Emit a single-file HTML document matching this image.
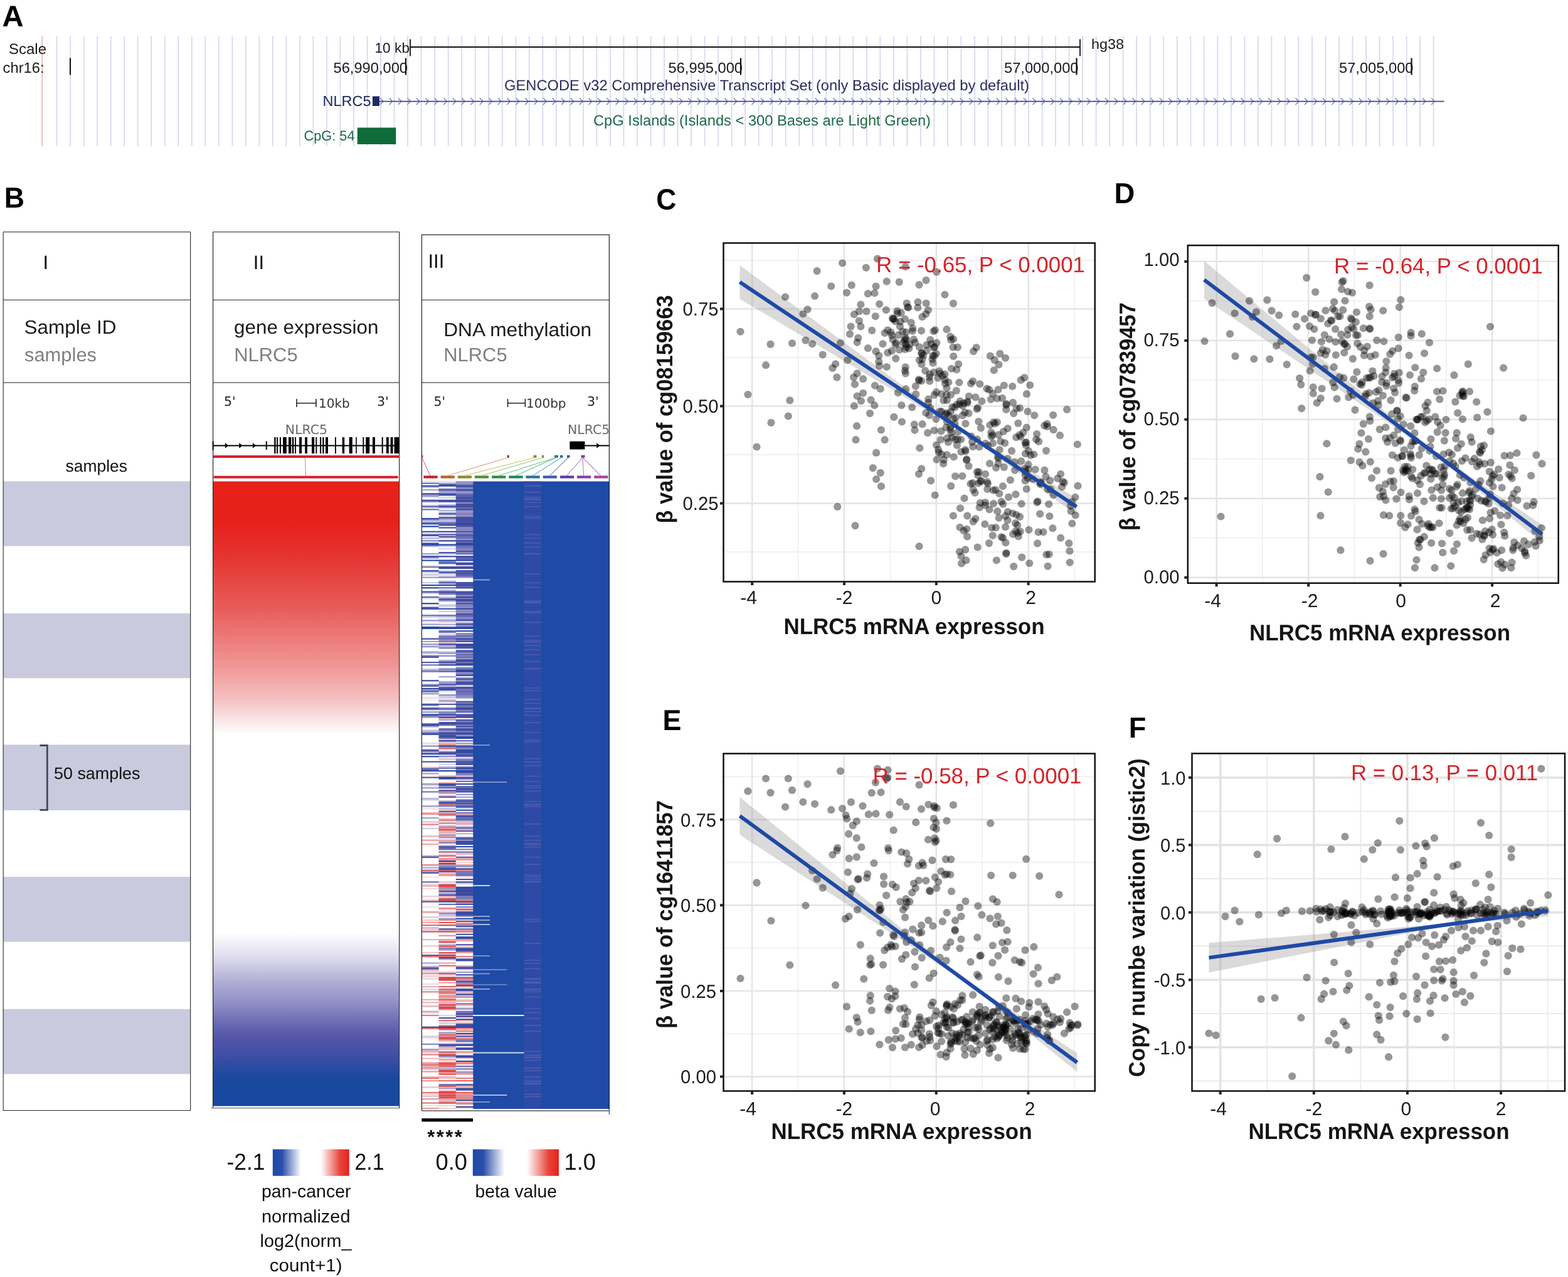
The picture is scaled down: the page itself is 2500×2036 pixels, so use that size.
<!DOCTYPE html>
<html lang="en"><head><meta charset="utf-8"><title>NLRC5 methylation and expression</title>
<style>
html,body{margin:0;padding:0;background:#fff;overflow:hidden;}
body{width:2500px;height:2036px;overflow:hidden;font-family:"Liberation Sans", sans-serif;}
svg{display:block;}
text{white-space:pre;}
</style></head>
<body>
<svg width="2500" height="2036" viewBox="0 0 2500 2036" text-rendering="geometricPrecision">
<rect width="2500" height="2036" fill="#fff"/>
<g id="panelA">
<text x="3.6" y="42.2" font-family='"Liberation Sans", sans-serif' font-size="47.2" font-weight="bold" fill="#000" text-anchor="start" >A</text>
<path d="M90.6 57.5V233M112.1 57.5V233M133.6 57.5V233M155.2 57.5V233M176.7 57.5V233M198.2 57.5V233M219.7 57.5V233M241.2 57.5V233M262.8 57.5V233M284.3 57.5V233M305.8 57.5V233M327.3 57.5V233M348.8 57.5V233M370.4 57.5V233M391.9 57.5V233M413.4 57.5V233M434.9 57.5V233M456.4 57.5V233M478 57.5V233M499.5 57.5V233M521 57.5V233M542.5 57.5V233M564 57.5V233M585.6 57.5V233M607.1 57.5V233M628.6 57.5V233M650.1 57.5V233M671.6 57.5V233M693.2 57.5V233M714.7 57.5V233M736.2 57.5V233M757.7 57.5V233M779.2 57.5V233M800.8 57.5V233M822.3 57.5V233M843.8 57.5V233M865.3 57.5V233M886.8 57.5V233M908.4 57.5V233M929.9 57.5V233M951.4 57.5V233M972.9 57.5V233M994.4 57.5V233M1016 57.5V233M1037.5 57.5V233M1059 57.5V233M1080.5 57.5V233M1102 57.5V233M1123.6 57.5V233M1145.1 57.5V233M1166.6 57.5V233M1188.1 57.5V233M1209.6 57.5V233M1231.2 57.5V233M1252.7 57.5V233M1274.2 57.5V233M1295.7 57.5V233M1317.2 57.5V233M1338.8 57.5V233M1360.3 57.5V233M1381.8 57.5V233M1403.3 57.5V233M1424.8 57.5V233M1446.4 57.5V233M1467.9 57.5V233M1489.4 57.5V233M1510.9 57.5V233M1532.4 57.5V233M1554 57.5V233M1575.5 57.5V233M1597 57.5V233M1618.5 57.5V233M1640 57.5V233M1661.6 57.5V233M1683.1 57.5V233M1704.6 57.5V233M1726.1 57.5V233M1747.6 57.5V233M1769.2 57.5V233M1790.7 57.5V233M1812.2 57.5V233M1833.7 57.5V233M1855.2 57.5V233M1876.8 57.5V233M1898.3 57.5V233M1919.8 57.5V233M1941.3 57.5V233M1962.8 57.5V233M1984.4 57.5V233M2005.9 57.5V233M2027.4 57.5V233M2048.9 57.5V233M2070.4 57.5V233M2092 57.5V233M2113.5 57.5V233M2135 57.5V233M2156.5 57.5V233M2178 57.5V233M2199.6 57.5V233M2221.1 57.5V233M2242.6 57.5V233M2264.1 57.5V233M2285.6 57.5V233" stroke="#d8d9ee" stroke-width="1.8" fill="none"/>
<path d="M67.2 57.5V233" stroke="#eab0ab" stroke-width="1.5" fill="none"/>
<text x="14" y="86" font-family='"Liberation Sans", sans-serif' font-size="23.5" font-weight="normal" fill="#1a1a1a" text-anchor="start"  textLength="60" lengthAdjust="spacingAndGlyphs">Scale</text>
<text x="4.6" y="116.3" font-family='"Liberation Sans", sans-serif' font-size="23.5" font-weight="normal" fill="#1a1a1a" text-anchor="start"  textLength="66" lengthAdjust="spacingAndGlyphs">chr16:</text>
<path d="M112 92.5V119.5" stroke="#111" stroke-width="2"/>
<text x="597.5" y="84.2" font-family='"Liberation Sans", sans-serif' font-size="22.5" font-weight="normal" fill="#1a1a1a" text-anchor="start"  textLength="55.5" lengthAdjust="spacingAndGlyphs">10 kb</text>
<path d="M653.5 75H1722M654 62.5V89.5M1722 62.5V89.5" stroke="#111" stroke-width="1.8" fill="none"/>
<text x="1740" y="77.5" font-family='"Liberation Sans", sans-serif' font-size="22.5" font-weight="normal" fill="#1a1a1a" text-anchor="start"  textLength="52" lengthAdjust="spacingAndGlyphs">hg38</text>
<text x="531.5" y="116.3" font-family='"Liberation Sans", sans-serif' font-size="23.3" font-weight="normal" fill="#1a1a1a" text-anchor="start"  textLength="118.5" lengthAdjust="spacingAndGlyphs">56,990,000</text>
<path d="M647 92.5V119.5" stroke="#111" stroke-width="2.2"/>
<text x="1065.5" y="116.3" font-family='"Liberation Sans", sans-serif' font-size="23.3" font-weight="normal" fill="#1a1a1a" text-anchor="start"  textLength="118.5" lengthAdjust="spacingAndGlyphs">56,995,000</text>
<path d="M1181 92.5V119.5" stroke="#111" stroke-width="2.2"/>
<text x="1601" y="116.3" font-family='"Liberation Sans", sans-serif' font-size="23.3" font-weight="normal" fill="#1a1a1a" text-anchor="start"  textLength="118.5" lengthAdjust="spacingAndGlyphs">57,000,000</text>
<path d="M1716.5 92.5V119.5" stroke="#111" stroke-width="2.2"/>
<text x="2135" y="116.3" font-family='"Liberation Sans", sans-serif' font-size="23.3" font-weight="normal" fill="#1a1a1a" text-anchor="start"  textLength="118.5" lengthAdjust="spacingAndGlyphs">57,005,000</text>
<path d="M2250.5 92.5V119.5" stroke="#111" stroke-width="2.2"/>
<text x="804" y="144" font-family='"Liberation Sans", sans-serif' font-size="23.6" font-weight="normal" fill="#2b2b5e" text-anchor="start"  textLength="837" lengthAdjust="spacingAndGlyphs">GENCODE v32 Comprehensive Transcript Set (only Basic displayed by default)</text>
<text x="514.5" y="169.3" font-family='"Liberation Sans", sans-serif' font-size="23.3" font-weight="normal" fill="#1c2556" text-anchor="start"  textLength="77" lengthAdjust="spacingAndGlyphs">NLRC5</text>
<rect x="594" y="153.5" width="11" height="15.5" fill="#1d2a63"/>
<path d="M606 156.2L611 161.6L606 167M620.5 156.2L625.5 161.6L620.5 167M634.9 156.2L639.9 161.6L634.9 167M649.4 156.2L654.4 161.6L649.4 167M663.8 156.2L668.8 161.6L663.8 167M678.3 156.2L683.3 161.6L678.3 167M692.7 156.2L697.7 161.6L692.7 167M707.2 156.2L712.2 161.6L707.2 167M721.6 156.2L726.6 161.6L721.6 167M736.1 156.2L741.1 161.6L736.1 167M750.5 156.2L755.5 161.6L750.5 167M765 156.2L770 161.6L765 167M779.4 156.2L784.4 161.6L779.4 167M793.9 156.2L798.9 161.6L793.9 167M808.3 156.2L813.3 161.6L808.3 167M822.8 156.2L827.8 161.6L822.8 167M837.2 156.2L842.2 161.6L837.2 167M851.7 156.2L856.7 161.6L851.7 167M866.1 156.2L871.1 161.6L866.1 167M880.6 156.2L885.6 161.6L880.6 167M895 156.2L900 161.6L895 167M909.5 156.2L914.5 161.6L909.5 167M923.9 156.2L928.9 161.6L923.9 167M938.4 156.2L943.4 161.6L938.4 167M952.8 156.2L957.8 161.6L952.8 167M967.3 156.2L972.3 161.6L967.3 167M981.7 156.2L986.7 161.6L981.7 167M996.2 156.2L1001.2 161.6L996.2 167M1010.6 156.2L1015.6 161.6L1010.6 167M1025.1 156.2L1030.1 161.6L1025.1 167M1039.5 156.2L1044.5 161.6L1039.5 167M1054 156.2L1059 161.6L1054 167M1068.4 156.2L1073.4 161.6L1068.4 167M1082.9 156.2L1087.9 161.6L1082.9 167M1097.3 156.2L1102.3 161.6L1097.3 167M1111.8 156.2L1116.8 161.6L1111.8 167M1126.2 156.2L1131.2 161.6L1126.2 167M1140.7 156.2L1145.7 161.6L1140.7 167M1155.1 156.2L1160.1 161.6L1155.1 167M1169.6 156.2L1174.6 161.6L1169.6 167M1184 156.2L1189 161.6L1184 167M1198.5 156.2L1203.5 161.6L1198.5 167M1212.9 156.2L1217.9 161.6L1212.9 167M1227.4 156.2L1232.4 161.6L1227.4 167M1241.8 156.2L1246.8 161.6L1241.8 167M1256.3 156.2L1261.3 161.6L1256.3 167M1270.7 156.2L1275.7 161.6L1270.7 167M1285.2 156.2L1290.2 161.6L1285.2 167M1299.6 156.2L1304.6 161.6L1299.6 167M1314.1 156.2L1319.1 161.6L1314.1 167M1328.5 156.2L1333.5 161.6L1328.5 167M1343 156.2L1348 161.6L1343 167M1357.4 156.2L1362.4 161.6L1357.4 167M1371.9 156.2L1376.9 161.6L1371.9 167M1386.3 156.2L1391.3 161.6L1386.3 167M1400.8 156.2L1405.8 161.6L1400.8 167M1415.2 156.2L1420.2 161.6L1415.2 167M1429.7 156.2L1434.7 161.6L1429.7 167M1444.1 156.2L1449.1 161.6L1444.1 167M1458.6 156.2L1463.6 161.6L1458.6 167M1473 156.2L1478 161.6L1473 167M1487.5 156.2L1492.5 161.6L1487.5 167M1501.9 156.2L1506.9 161.6L1501.9 167M1516.4 156.2L1521.4 161.6L1516.4 167M1530.8 156.2L1535.8 161.6L1530.8 167M1545.3 156.2L1550.3 161.6L1545.3 167M1559.7 156.2L1564.7 161.6L1559.7 167M1574.2 156.2L1579.2 161.6L1574.2 167M1588.6 156.2L1593.6 161.6L1588.6 167M1603.1 156.2L1608.1 161.6L1603.1 167M1617.5 156.2L1622.5 161.6L1617.5 167M1632 156.2L1637 161.6L1632 167M1646.4 156.2L1651.4 161.6L1646.4 167M1660.9 156.2L1665.9 161.6L1660.9 167M1675.3 156.2L1680.3 161.6L1675.3 167M1689.8 156.2L1694.8 161.6L1689.8 167M1704.2 156.2L1709.2 161.6L1704.2 167M1718.7 156.2L1723.7 161.6L1718.7 167M1733.1 156.2L1738.1 161.6L1733.1 167M1747.6 156.2L1752.6 161.6L1747.6 167M1762 156.2L1767 161.6L1762 167M1776.5 156.2L1781.5 161.6L1776.5 167M1790.9 156.2L1795.9 161.6L1790.9 167M1805.4 156.2L1810.4 161.6L1805.4 167M1819.8 156.2L1824.8 161.6L1819.8 167M1834.3 156.2L1839.3 161.6L1834.3 167M1848.7 156.2L1853.7 161.6L1848.7 167M1863.2 156.2L1868.2 161.6L1863.2 167M1877.6 156.2L1882.6 161.6L1877.6 167M1892.1 156.2L1897.1 161.6L1892.1 167M1906.5 156.2L1911.5 161.6L1906.5 167M1921 156.2L1926 161.6L1921 167M1935.4 156.2L1940.4 161.6L1935.4 167M1949.9 156.2L1954.9 161.6L1949.9 167M1964.3 156.2L1969.3 161.6L1964.3 167M1978.8 156.2L1983.8 161.6L1978.8 167M1993.2 156.2L1998.2 161.6L1993.2 167M2007.7 156.2L2012.7 161.6L2007.7 167M2022.1 156.2L2027.1 161.6L2022.1 167M2036.6 156.2L2041.6 161.6L2036.6 167M2051 156.2L2056 161.6L2051 167M2065.5 156.2L2070.5 161.6L2065.5 167M2079.9 156.2L2084.9 161.6L2079.9 167M2094.4 156.2L2099.4 161.6L2094.4 167M2108.8 156.2L2113.8 161.6L2108.8 167M2123.3 156.2L2128.3 161.6L2123.3 167M2137.7 156.2L2142.7 161.6L2137.7 167M2152.2 156.2L2157.2 161.6L2152.2 167M2166.6 156.2L2171.6 161.6L2166.6 167M2181.1 156.2L2186.1 161.6L2181.1 167M2195.5 156.2L2200.5 161.6L2195.5 167M2210 156.2L2215 161.6L2210 167M2224.4 156.2L2229.4 161.6L2224.4 167M2238.9 156.2L2243.9 161.6L2238.9 167M2253.3 156.2L2258.3 161.6L2253.3 167M2267.8 156.2L2272.8 161.6L2267.8 167M2282.2 156.2L2287.2 161.6L2282.2 167" stroke="#8286c2" stroke-width="1.5" fill="none"/>
<path d="M605 161.6H2302.5" stroke="#3d4389" stroke-width="1.6"/>
<text x="946" y="200" font-family='"Liberation Sans", sans-serif' font-size="23.6" font-weight="normal" fill="#1c6b45" text-anchor="start"  textLength="538" lengthAdjust="spacingAndGlyphs">CpG Islands (Islands &lt; 300 Bases are Light Green)</text>
<text x="484.5" y="224.3" font-family='"Liberation Sans", sans-serif' font-size="22.5" font-weight="normal" fill="#1c6b45" text-anchor="start"  textLength="81" lengthAdjust="spacingAndGlyphs">CpG: 54</text>
<rect x="569.8" y="203.5" width="61.5" height="26.5" fill="#0e6b3a"/>
</g>
<g id="panelB">
<text x="6.8" y="331" font-family='"Liberation Sans", sans-serif' font-size="46" font-weight="bold" fill="#000" text-anchor="start"  textLength="32.3" lengthAdjust="spacingAndGlyphs">B</text>
<rect x="5.2" y="767.4" width="298.5" height="103.2" fill="#c9cadd"/>
<rect x="5.2" y="978" width="298.5" height="103.2" fill="#c9cadd"/>
<rect x="5.2" y="1187.3" width="298.5" height="104.5" fill="#c9cadd"/>
<rect x="5.2" y="1398" width="298.5" height="103.6" fill="#c9cadd"/>
<rect x="5.2" y="1608.8" width="298.5" height="103.6" fill="#c9cadd"/>
<path d="M5.2 369.8H303.7 M5.2 478.2H303.7 M5.2 610H303.7" stroke="#666" stroke-width="1.5" fill="none"/>
<path d="M5.2 369.8V1770.5H303.7V369.8" stroke="#2a2a2a" stroke-width="1.1" fill="none"/>
<text x="68.6" y="429" font-family='"Liberation Sans", sans-serif' font-size="31" font-weight="normal" fill="#111" text-anchor="start" >I</text>
<text x="38.5" y="532" font-family='"Liberation Sans", sans-serif' font-size="30.5" font-weight="normal" fill="#1a1a1a" text-anchor="start"  textLength="147" lengthAdjust="spacingAndGlyphs">Sample ID</text>
<text x="39" y="575.5" font-family='"Liberation Sans", sans-serif' font-size="30.5" font-weight="normal" fill="#808080" text-anchor="start"  textLength="115" lengthAdjust="spacingAndGlyphs">samples</text>
<text x="104.5" y="752" font-family='"Liberation Sans", sans-serif' font-size="26.5" font-weight="normal" fill="#111" text-anchor="start"  textLength="98.5" lengthAdjust="spacingAndGlyphs">samples</text>
<path d="M63.5 1188.5H75.3V1291.3H63.5" stroke="#45465a" stroke-width="2.8" fill="none"/>
<text x="86" y="1241.8" font-family='"Liberation Sans", sans-serif' font-size="26.5" font-weight="normal" fill="#111" text-anchor="start"  textLength="137.5" lengthAdjust="spacingAndGlyphs">50 samples</text>
<defs><linearGradient id="gexp" x1="0" y1="0" x2="0" y2="1">
<stop offset="0" stop-color="#e8211a"/><stop offset="0.065" stop-color="#e6201a"/>
<stop offset="0.11" stop-color="#e5302c"/><stop offset="0.2" stop-color="#e75a58"/>
<stop offset="0.295" stop-color="#f09696"/><stop offset="0.35" stop-color="#f4c1c2"/>
<stop offset="0.385" stop-color="#fae9e9"/><stop offset="0.405" stop-color="#ffffff"/>
<stop offset="0.722" stop-color="#ffffff"/><stop offset="0.742" stop-color="#efeef7"/>
<stop offset="0.765" stop-color="#dad9ec"/><stop offset="0.80" stop-color="#b1aed6"/>
<stop offset="0.835" stop-color="#8f8fc6"/><stop offset="0.86" stop-color="#7272b8"/>
<stop offset="0.886" stop-color="#5658a8"/><stop offset="0.914" stop-color="#4450a5"/>
<stop offset="0.936" stop-color="#2d4ba3"/><stop offset="0.956" stop-color="#1a489f"/><stop offset="1" stop-color="#17489f"/>
</linearGradient></defs>
<rect x="339.6" y="767.5" width="297" height="996" fill="url(#gexp)"/>
<path d="M339.6 369.8H636.6 M339.6 478.2H636.6 M339.6 610H636.6" stroke="#666" stroke-width="1.5" fill="none"/>
<path d="M339.6 1766.5V369.8M636.6 369.8V1766.5" stroke="#2a2a2a" stroke-width="1.2" fill="none"/>
<path d="M336.6 1766.6H637.6" stroke="#777" stroke-width="1.3" fill="none"/>
<text x="403.8" y="429" font-family='"Liberation Sans", sans-serif' font-size="31" font-weight="normal" fill="#111" text-anchor="start" >II</text>
<text x="373" y="532" font-family='"Liberation Sans", sans-serif' font-size="30.5" font-weight="normal" fill="#1a1a1a" text-anchor="start"  textLength="230.5" lengthAdjust="spacingAndGlyphs">gene expression</text>
<text x="373.2" y="575.5" font-family='"Liberation Sans", sans-serif' font-size="30.5" font-weight="normal" fill="#808080" text-anchor="start"  textLength="101.5" lengthAdjust="spacingAndGlyphs">NLRC5</text>
<text x="357" y="646.6" font-family='"DejaVu Sans", "Liberation Sans", sans-serif' font-size="20.5" font-weight="normal" fill="#222" text-anchor="start" >5'</text>
<text x="601" y="646.6" font-family='"DejaVu Sans", "Liberation Sans", sans-serif' font-size="20.5" font-weight="normal" fill="#222" text-anchor="start" >3'</text>
<path d="M473 642.7H504M473 636V649M504 636V649" stroke="#222" stroke-width="1.6" fill="none"/>
<text x="508" y="650" font-family='"DejaVu Sans", "Liberation Sans", sans-serif' font-size="20" font-weight="normal" fill="#333" text-anchor="start" >10kb</text>
<text x="488.5" y="692" font-family='"DejaVu Sans", "Liberation Sans", sans-serif' font-size="20.5" font-weight="normal" fill="#6a6a6a" text-anchor="middle" >NLRC5</text>
<path d="M339.6 710.4H636.6" stroke="#000" stroke-width="2"/>
<path d="M339.6 703.5V717.5M424.8 703.5V717" stroke="#000" stroke-width="2"/>
<path d="M359.3 706.8L363.3 710.4L359.3 714ZM381.8 706.8L385.8 710.4L381.8 714ZM403.3 706.8L407.3 710.4L403.3 714Z" stroke="#000" stroke-width="1" fill="#000"/>
<path d="M437.2 697H439.6V723H437.2ZM441.2 697H443.1V723H441.2ZM446 697H447.9V723H446ZM451.1 697H456.8V723H451.1ZM460 697H464.3V723H460ZM465.9 697H468.3V723H465.9ZM470.2 697H472V723H470.2ZM477.1 697H481.1V723H477.1ZM486.2 697H490V723H486.2ZM497 697H501.2V723H497ZM503.4 697H505.3V723H503.4ZM510.1 697H512.2V723H510.1ZM514.3 697H516.5V723H514.3ZM519 697H523V723H519ZM534 697H535.9V723H534ZM545.7 697H549.2V723H545.7ZM556.7 697H561.8V723H556.7ZM567.2 697H568.8V723H567.2ZM578.4 697H580.3V723H578.4ZM583.2 697H589.2V723H583.2ZM594 697H598V723H594ZM608.7 697H610.7V723H608.7ZM615.9 697H619.8V723H615.9ZM622.6 697H626.5V723H622.6ZM628.6 697H636.6V723H628.6Z" fill="#000"/>
<rect x="339.6" y="726" width="297" height="4" fill="#d5202a"/>
<rect x="340.6" y="758.7" width="294" height="4" fill="#d5202a"/>
<path d="M486.5 730L487.5 759" stroke="#ee8f95" stroke-width="1.3"/>
<rect x="672.4" y="767.5" width="299" height="1000.5" fill="#1f4aa5"/>
<rect x="835.5" y="767.5" width="27.2" height="1000.5" fill="#2d4ba6"/>
<rect x="672.4" y="767.5" width="27.5" height="2.33" fill="#ffffff"/>
<rect x="672.4" y="769.6" width="27.5" height="2.33" fill="#6c6cb4"/>
<rect x="672.4" y="771.7" width="27.5" height="2.33" fill="#ffffff"/>
<rect x="672.4" y="773.8" width="27.5" height="2.33" fill="#1e48a2"/>
<rect x="672.4" y="775.8" width="27.5" height="2.33" fill="#b4b4d8"/>
<rect x="672.4" y="777.9" width="27.5" height="2.33" fill="#ffffff"/>
<rect x="672.4" y="780.0" width="27.5" height="2.33" fill="#a2a2d2"/>
<rect x="672.4" y="782.1" width="27.5" height="4.42" fill="#ffffff"/>
<rect x="672.4" y="786.3" width="27.5" height="2.33" fill="#424ea2"/>
<rect x="672.4" y="788.3" width="27.5" height="2.33" fill="#9c96cc"/>
<rect x="672.4" y="790.4" width="27.5" height="2.33" fill="#a8a8d2"/>
<rect x="672.4" y="792.5" width="27.5" height="4.42" fill="#ffffff"/>
<rect x="672.4" y="796.7" width="27.5" height="2.33" fill="#484ea2"/>
<rect x="672.4" y="798.8" width="27.5" height="2.33" fill="#8484c0"/>
<rect x="672.4" y="800.9" width="27.5" height="4.42" fill="#ffffff"/>
<rect x="672.4" y="805.0" width="27.5" height="2.33" fill="#b4b4d8"/>
<rect x="672.4" y="807.1" width="27.5" height="2.33" fill="#6666ae"/>
<rect x="672.4" y="809.2" width="27.5" height="2.33" fill="#ffffff"/>
<rect x="672.4" y="811.3" width="27.5" height="2.33" fill="#7878ba"/>
<rect x="672.4" y="813.4" width="27.5" height="12.76" fill="#ffffff"/>
<rect x="672.4" y="825.9" width="27.5" height="2.33" fill="#2a48a2"/>
<rect x="672.4" y="827.9" width="27.5" height="2.33" fill="#9090c6"/>
<rect x="672.4" y="830.0" width="27.5" height="2.33" fill="#cccce4"/>
<rect x="672.4" y="832.1" width="27.5" height="2.33" fill="#8a8ac6"/>
<rect x="672.4" y="834.2" width="27.5" height="2.33" fill="#3c4ea2"/>
<rect x="672.4" y="836.3" width="27.5" height="2.33" fill="#ffffff"/>
<rect x="672.4" y="838.4" width="27.5" height="2.33" fill="#2a48a2"/>
<rect x="672.4" y="840.5" width="27.5" height="6.50" fill="#ffffff"/>
<rect x="672.4" y="846.7" width="27.5" height="2.33" fill="#364ea2"/>
<rect x="672.4" y="848.8" width="27.5" height="2.33" fill="#ffffff"/>
<rect x="672.4" y="850.9" width="27.5" height="2.33" fill="#7e7ec0"/>
<rect x="672.4" y="853.0" width="27.5" height="2.33" fill="#3c4ea2"/>
<rect x="672.4" y="855.0" width="27.5" height="2.33" fill="#ffffff"/>
<rect x="672.4" y="857.1" width="27.5" height="2.33" fill="#b4b4d8"/>
<rect x="672.4" y="859.2" width="27.5" height="2.33" fill="#ffffff"/>
<rect x="672.4" y="861.3" width="27.5" height="2.33" fill="#9090c6"/>
<rect x="672.4" y="863.4" width="27.5" height="2.33" fill="#ffffff"/>
<rect x="672.4" y="865.5" width="27.5" height="2.33" fill="#364ea2"/>
<rect x="672.4" y="867.5" width="27.5" height="2.33" fill="#3048a2"/>
<rect x="672.4" y="869.6" width="27.5" height="2.33" fill="#9696cc"/>
<rect x="672.4" y="871.7" width="27.5" height="10.67" fill="#ffffff"/>
<rect x="672.4" y="882.1" width="27.5" height="2.33" fill="#a2a2cc"/>
<rect x="672.4" y="884.2" width="27.5" height="2.33" fill="#ffffff"/>
<rect x="672.4" y="886.3" width="27.5" height="2.33" fill="#3048a2"/>
<rect x="672.4" y="888.4" width="27.5" height="2.33" fill="#9c96cc"/>
<rect x="672.4" y="890.5" width="27.5" height="2.33" fill="#ffffff"/>
<rect x="672.4" y="892.6" width="27.5" height="2.33" fill="#2448a8"/>
<rect x="672.4" y="894.6" width="27.5" height="6.50" fill="#ffffff"/>
<rect x="672.4" y="900.9" width="27.5" height="2.33" fill="#f6d8d8"/>
<rect x="672.4" y="903.0" width="27.5" height="2.33" fill="#7272b4"/>
<rect x="672.4" y="905.1" width="27.5" height="4.42" fill="#ffffff"/>
<rect x="672.4" y="909.2" width="27.5" height="2.33" fill="#2a48a2"/>
<rect x="672.4" y="911.3" width="27.5" height="2.33" fill="#d2cce4"/>
<rect x="672.4" y="913.4" width="27.5" height="2.33" fill="#ffffff"/>
<rect x="672.4" y="915.5" width="27.5" height="2.33" fill="#cccce4"/>
<rect x="672.4" y="917.6" width="27.5" height="2.33" fill="#ffffff"/>
<rect x="672.4" y="919.7" width="27.5" height="2.33" fill="#9696cc"/>
<rect x="672.4" y="921.7" width="27.5" height="6.50" fill="#ffffff"/>
<rect x="672.4" y="928.0" width="27.5" height="2.33" fill="#cccce4"/>
<rect x="672.4" y="930.1" width="27.5" height="2.33" fill="#ffffff"/>
<rect x="672.4" y="932.2" width="27.5" height="2.33" fill="#1e48a8"/>
<rect x="672.4" y="934.2" width="27.5" height="2.33" fill="#ffffff"/>
<rect x="672.4" y="936.3" width="27.5" height="2.33" fill="#3c4ea2"/>
<rect x="672.4" y="938.4" width="27.5" height="4.42" fill="#ffffff"/>
<rect x="672.4" y="942.6" width="27.5" height="2.33" fill="#484ea2"/>
<rect x="672.4" y="944.7" width="27.5" height="2.33" fill="#c0c0de"/>
<rect x="672.4" y="946.8" width="27.5" height="4.42" fill="#ffffff"/>
<rect x="672.4" y="950.9" width="27.5" height="2.33" fill="#6060ae"/>
<rect x="672.4" y="953.0" width="27.5" height="2.33" fill="#d8d8ea"/>
<rect x="672.4" y="955.1" width="27.5" height="6.50" fill="#ffffff"/>
<rect x="672.4" y="961.3" width="27.5" height="2.33" fill="#2448a8"/>
<rect x="672.4" y="963.4" width="27.5" height="4.42" fill="#ffffff"/>
<rect x="672.4" y="967.6" width="27.5" height="2.33" fill="#545aa8"/>
<rect x="672.4" y="969.7" width="27.5" height="2.33" fill="#3c4ea2"/>
<rect x="672.4" y="971.8" width="27.5" height="8.59" fill="#ffffff"/>
<rect x="672.4" y="980.1" width="27.5" height="2.33" fill="#7878ba"/>
<rect x="672.4" y="982.2" width="27.5" height="2.33" fill="#cccce4"/>
<rect x="672.4" y="984.3" width="27.5" height="4.42" fill="#ffffff"/>
<rect x="672.4" y="988.4" width="27.5" height="2.33" fill="#9c9ccc"/>
<rect x="672.4" y="990.5" width="27.5" height="2.33" fill="#ffffff"/>
<rect x="672.4" y="992.6" width="27.5" height="2.33" fill="#fcf0f0"/>
<rect x="672.4" y="994.7" width="27.5" height="2.33" fill="#a2a2cc"/>
<rect x="672.4" y="996.8" width="27.5" height="2.33" fill="#ffffff"/>
<rect x="672.4" y="998.9" width="27.5" height="2.33" fill="#2448a8"/>
<rect x="672.4" y="1001.0" width="27.5" height="2.33" fill="#1e48a8"/>
<rect x="672.4" y="1003.0" width="27.5" height="14.84" fill="#ffffff"/>
<rect x="672.4" y="1017.6" width="27.5" height="2.33" fill="#484ea2"/>
<rect x="672.4" y="1019.7" width="27.5" height="2.33" fill="#ffffff"/>
<rect x="672.4" y="1021.8" width="27.5" height="2.33" fill="#9c9ccc"/>
<rect x="672.4" y="1023.9" width="27.5" height="2.33" fill="#ffffff"/>
<rect x="672.4" y="1026.0" width="27.5" height="2.33" fill="#9c96cc"/>
<rect x="672.4" y="1028.0" width="27.5" height="2.33" fill="#d8d8ea"/>
<rect x="672.4" y="1030.1" width="27.5" height="2.33" fill="#9c9ccc"/>
<rect x="672.4" y="1032.2" width="27.5" height="6.50" fill="#ffffff"/>
<rect x="672.4" y="1038.5" width="27.5" height="2.33" fill="#b4aed8"/>
<rect x="672.4" y="1040.6" width="27.5" height="2.33" fill="#c0c0de"/>
<rect x="672.4" y="1042.6" width="27.5" height="2.33" fill="#ffffff"/>
<rect x="672.4" y="1044.7" width="27.5" height="2.33" fill="#7272b4"/>
<rect x="672.4" y="1046.8" width="27.5" height="2.33" fill="#424ea2"/>
<rect x="672.4" y="1048.9" width="27.5" height="6.50" fill="#ffffff"/>
<rect x="672.4" y="1055.1" width="27.5" height="2.33" fill="#5a5aa8"/>
<rect x="672.4" y="1057.2" width="27.5" height="2.33" fill="#ffffff"/>
<rect x="672.4" y="1059.3" width="27.5" height="2.33" fill="#7e7ec0"/>
<rect x="672.4" y="1061.4" width="27.5" height="4.42" fill="#ffffff"/>
<rect x="672.4" y="1065.6" width="27.5" height="2.33" fill="#dedef0"/>
<rect x="672.4" y="1067.7" width="27.5" height="2.33" fill="#9696cc"/>
<rect x="672.4" y="1069.7" width="27.5" height="2.33" fill="#7e7ec0"/>
<rect x="672.4" y="1071.8" width="27.5" height="12.76" fill="#ffffff"/>
<rect x="672.4" y="1084.3" width="27.5" height="2.33" fill="#424ea2"/>
<rect x="672.4" y="1086.4" width="27.5" height="4.42" fill="#ffffff"/>
<rect x="672.4" y="1090.6" width="27.5" height="2.33" fill="#9696cc"/>
<rect x="672.4" y="1092.7" width="27.5" height="2.33" fill="#3048a2"/>
<rect x="672.4" y="1094.7" width="27.5" height="2.33" fill="#ffffff"/>
<rect x="672.4" y="1096.8" width="27.5" height="2.33" fill="#3648a2"/>
<rect x="672.4" y="1098.9" width="27.5" height="2.33" fill="#a8a8d2"/>
<rect x="672.4" y="1101.0" width="27.5" height="2.33" fill="#545aa8"/>
<rect x="672.4" y="1103.1" width="27.5" height="2.33" fill="#c0c0de"/>
<rect x="672.4" y="1105.2" width="27.5" height="2.33" fill="#a8a8d2"/>
<rect x="672.4" y="1107.3" width="27.5" height="4.42" fill="#ffffff"/>
<rect x="672.4" y="1111.4" width="27.5" height="2.33" fill="#fceaea"/>
<rect x="672.4" y="1113.5" width="27.5" height="2.33" fill="#ffffff"/>
<rect x="672.4" y="1115.6" width="27.5" height="2.33" fill="#fff6f6"/>
<rect x="672.4" y="1117.7" width="27.5" height="4.42" fill="#ffffff"/>
<rect x="672.4" y="1121.8" width="27.5" height="2.33" fill="#364ea2"/>
<rect x="672.4" y="1123.9" width="27.5" height="2.33" fill="#9090c6"/>
<rect x="672.4" y="1126.0" width="27.5" height="2.33" fill="#ffffff"/>
<rect x="672.4" y="1128.1" width="27.5" height="2.33" fill="#424ea2"/>
<rect x="672.4" y="1130.2" width="27.5" height="2.33" fill="#7878ba"/>
<rect x="672.4" y="1132.3" width="27.5" height="2.33" fill="#ffffff"/>
<rect x="672.4" y="1134.3" width="27.5" height="2.33" fill="#a29ccc"/>
<rect x="672.4" y="1136.4" width="27.5" height="2.33" fill="#ffffff"/>
<rect x="672.4" y="1138.5" width="27.5" height="2.33" fill="#2448a2"/>
<rect x="672.4" y="1140.6" width="27.5" height="2.33" fill="#7878ba"/>
<rect x="672.4" y="1142.7" width="27.5" height="2.33" fill="#a8a2d2"/>
<rect x="672.4" y="1144.8" width="27.5" height="8.59" fill="#ffffff"/>
<rect x="672.4" y="1153.1" width="27.5" height="2.33" fill="#6c6cb4"/>
<rect x="672.4" y="1155.2" width="27.5" height="2.33" fill="#1e48a2"/>
<rect x="672.4" y="1157.3" width="27.5" height="2.33" fill="#a29ccc"/>
<rect x="672.4" y="1159.4" width="27.5" height="4.42" fill="#ffffff"/>
<rect x="672.4" y="1163.5" width="27.5" height="2.33" fill="#d2cce4"/>
<rect x="672.4" y="1165.6" width="27.5" height="2.33" fill="#babad8"/>
<rect x="672.4" y="1167.7" width="27.5" height="2.33" fill="#6666b4"/>
<rect x="672.4" y="1169.8" width="27.5" height="2.33" fill="#364ea2"/>
<rect x="672.4" y="1171.9" width="27.5" height="12.76" fill="#ffffff"/>
<rect x="672.4" y="1184.4" width="27.5" height="2.33" fill="#fce4e4"/>
<rect x="672.4" y="1186.5" width="27.5" height="2.33" fill="#ffffff"/>
<rect x="672.4" y="1188.5" width="27.5" height="2.33" fill="#9090c6"/>
<rect x="672.4" y="1190.6" width="27.5" height="4.42" fill="#ffffff"/>
<rect x="672.4" y="1194.8" width="27.5" height="2.33" fill="#484ea2"/>
<rect x="672.4" y="1196.9" width="27.5" height="2.33" fill="#7e7ec0"/>
<rect x="672.4" y="1199.0" width="27.5" height="2.33" fill="#aea8d2"/>
<rect x="672.4" y="1201.0" width="27.5" height="2.33" fill="#1e48a2"/>
<rect x="672.4" y="1203.1" width="27.5" height="2.33" fill="#ffffff"/>
<rect x="672.4" y="1205.2" width="27.5" height="2.33" fill="#3c4ea2"/>
<rect x="672.4" y="1207.3" width="27.5" height="6.50" fill="#ffffff"/>
<rect x="672.4" y="1213.6" width="27.5" height="2.33" fill="#4e54a2"/>
<rect x="672.4" y="1215.6" width="27.5" height="6.50" fill="#ffffff"/>
<rect x="672.4" y="1221.9" width="27.5" height="2.33" fill="#f6d8d8"/>
<rect x="672.4" y="1224.0" width="27.5" height="2.33" fill="#7878ba"/>
<rect x="672.4" y="1226.1" width="27.5" height="2.33" fill="#6666b4"/>
<rect x="672.4" y="1228.1" width="27.5" height="2.33" fill="#3048a2"/>
<rect x="672.4" y="1230.2" width="27.5" height="2.33" fill="#ffffff"/>
<rect x="672.4" y="1232.3" width="27.5" height="2.33" fill="#f09c9c"/>
<rect x="672.4" y="1234.4" width="27.5" height="4.42" fill="#ffffff"/>
<rect x="672.4" y="1238.6" width="27.5" height="2.33" fill="#5454a8"/>
<rect x="672.4" y="1240.7" width="27.5" height="8.59" fill="#ffffff"/>
<rect x="672.4" y="1249.0" width="27.5" height="2.33" fill="#9696cc"/>
<rect x="672.4" y="1251.1" width="27.5" height="2.33" fill="#f6d2d2"/>
<rect x="672.4" y="1253.2" width="27.5" height="2.33" fill="#ffffff"/>
<rect x="672.4" y="1255.2" width="27.5" height="2.33" fill="#a8a8d2"/>
<rect x="672.4" y="1257.3" width="27.5" height="4.42" fill="#ffffff"/>
<rect x="672.4" y="1261.5" width="27.5" height="2.33" fill="#7e7ec0"/>
<rect x="672.4" y="1263.6" width="27.5" height="8.59" fill="#ffffff"/>
<rect x="672.4" y="1271.9" width="27.5" height="2.33" fill="#babade"/>
<rect x="672.4" y="1274.0" width="27.5" height="2.33" fill="#c6c6e4"/>
<rect x="672.4" y="1276.1" width="27.5" height="8.59" fill="#ffffff"/>
<rect x="672.4" y="1284.4" width="27.5" height="2.33" fill="#9c9ccc"/>
<rect x="672.4" y="1286.5" width="27.5" height="2.33" fill="#ffffff"/>
<rect x="672.4" y="1288.6" width="27.5" height="2.33" fill="#fceaea"/>
<rect x="672.4" y="1290.7" width="27.5" height="4.42" fill="#ffffff"/>
<rect x="672.4" y="1294.8" width="27.5" height="2.33" fill="#f0b4b4"/>
<rect x="672.4" y="1296.9" width="27.5" height="2.33" fill="#f08a8a"/>
<rect x="672.4" y="1299.0" width="27.5" height="4.42" fill="#ffffff"/>
<rect x="672.4" y="1303.2" width="27.5" height="2.33" fill="#a8a8d2"/>
<rect x="672.4" y="1305.3" width="27.5" height="4.42" fill="#ffffff"/>
<rect x="672.4" y="1309.4" width="27.5" height="2.33" fill="#f6c6c6"/>
<rect x="672.4" y="1311.5" width="27.5" height="2.33" fill="#ffffff"/>
<rect x="672.4" y="1313.6" width="27.5" height="2.33" fill="#f08484"/>
<rect x="672.4" y="1315.7" width="27.5" height="4.42" fill="#ffffff"/>
<rect x="672.4" y="1319.9" width="27.5" height="2.33" fill="#cccce4"/>
<rect x="672.4" y="1321.9" width="27.5" height="10.67" fill="#ffffff"/>
<rect x="672.4" y="1332.4" width="27.5" height="2.33" fill="#f6c0c0"/>
<rect x="672.4" y="1334.5" width="27.5" height="4.42" fill="#ffffff"/>
<rect x="672.4" y="1338.6" width="27.5" height="2.33" fill="#f09c9c"/>
<rect x="672.4" y="1340.7" width="27.5" height="4.42" fill="#ffffff"/>
<rect x="672.4" y="1344.9" width="27.5" height="2.33" fill="#f0a2a2"/>
<rect x="672.4" y="1347.0" width="27.5" height="16.93" fill="#ffffff"/>
<rect x="672.4" y="1363.6" width="27.5" height="2.33" fill="#bab4d8"/>
<rect x="672.4" y="1365.7" width="27.5" height="2.33" fill="#424ea2"/>
<rect x="672.4" y="1367.8" width="27.5" height="10.67" fill="#ffffff"/>
<rect x="672.4" y="1378.2" width="27.5" height="2.33" fill="#f08484"/>
<rect x="672.4" y="1380.3" width="27.5" height="2.33" fill="#ffffff"/>
<rect x="672.4" y="1382.4" width="27.5" height="2.33" fill="#bab4d8"/>
<rect x="672.4" y="1384.5" width="27.5" height="2.33" fill="#ffffff"/>
<rect x="672.4" y="1386.6" width="27.5" height="2.33" fill="#ea6660"/>
<rect x="672.4" y="1388.6" width="27.5" height="2.33" fill="#aea8d2"/>
<rect x="672.4" y="1390.7" width="27.5" height="2.33" fill="#484ea2"/>
<rect x="672.4" y="1392.8" width="27.5" height="4.42" fill="#ffffff"/>
<rect x="672.4" y="1397.0" width="27.5" height="2.33" fill="#fce4e4"/>
<rect x="672.4" y="1399.1" width="27.5" height="6.50" fill="#ffffff"/>
<rect x="672.4" y="1405.3" width="27.5" height="2.33" fill="#7272ba"/>
<rect x="672.4" y="1407.4" width="27.5" height="2.33" fill="#ffffff"/>
<rect x="672.4" y="1409.5" width="27.5" height="2.33" fill="#fcdede"/>
<rect x="672.4" y="1411.6" width="27.5" height="2.33" fill="#f0aeae"/>
<rect x="672.4" y="1413.7" width="27.5" height="2.33" fill="#ffffff"/>
<rect x="672.4" y="1415.7" width="27.5" height="2.33" fill="#f6d2d2"/>
<rect x="672.4" y="1417.8" width="27.5" height="10.67" fill="#ffffff"/>
<rect x="672.4" y="1428.2" width="27.5" height="2.33" fill="#f6dede"/>
<rect x="672.4" y="1430.3" width="27.5" height="4.42" fill="#ffffff"/>
<rect x="672.4" y="1434.5" width="27.5" height="2.33" fill="#f6c6c6"/>
<rect x="672.4" y="1436.6" width="27.5" height="2.33" fill="#545aa8"/>
<rect x="672.4" y="1438.7" width="27.5" height="6.50" fill="#ffffff"/>
<rect x="672.4" y="1444.9" width="27.5" height="2.33" fill="#f6dede"/>
<rect x="672.4" y="1447.0" width="27.5" height="6.50" fill="#ffffff"/>
<rect x="672.4" y="1453.3" width="27.5" height="2.33" fill="#f09c9c"/>
<rect x="672.4" y="1455.3" width="27.5" height="6.50" fill="#ffffff"/>
<rect x="672.4" y="1461.6" width="27.5" height="2.33" fill="#f6c6c6"/>
<rect x="672.4" y="1463.7" width="27.5" height="2.33" fill="#ffffff"/>
<rect x="672.4" y="1465.8" width="27.5" height="2.33" fill="#f6c0c0"/>
<rect x="672.4" y="1467.8" width="27.5" height="2.33" fill="#fce4e4"/>
<rect x="672.4" y="1469.9" width="27.5" height="2.33" fill="#f0a8a8"/>
<rect x="672.4" y="1472.0" width="27.5" height="2.33" fill="#ffffff"/>
<rect x="672.4" y="1474.1" width="27.5" height="2.33" fill="#ea6c66"/>
<rect x="672.4" y="1476.2" width="27.5" height="2.33" fill="#ffffff"/>
<rect x="672.4" y="1478.3" width="27.5" height="2.33" fill="#f6bac0"/>
<rect x="672.4" y="1480.4" width="27.5" height="2.33" fill="#f6d8d8"/>
<rect x="672.4" y="1482.4" width="27.5" height="2.33" fill="#f6d8de"/>
<rect x="672.4" y="1484.5" width="27.5" height="2.33" fill="#ea6060"/>
<rect x="672.4" y="1486.6" width="27.5" height="10.67" fill="#ffffff"/>
<rect x="672.4" y="1497.0" width="27.5" height="2.33" fill="#f0b4b4"/>
<rect x="672.4" y="1499.1" width="27.5" height="8.59" fill="#ffffff"/>
<rect x="672.4" y="1507.5" width="27.5" height="2.33" fill="#f6d8d8"/>
<rect x="672.4" y="1509.5" width="27.5" height="8.59" fill="#ffffff"/>
<rect x="672.4" y="1517.9" width="27.5" height="2.33" fill="#f6c6c6"/>
<rect x="672.4" y="1520.0" width="27.5" height="2.33" fill="#ffffff"/>
<rect x="672.4" y="1522.0" width="27.5" height="2.33" fill="#545aa8"/>
<rect x="672.4" y="1524.1" width="27.5" height="2.33" fill="#ea6c6c"/>
<rect x="672.4" y="1526.2" width="27.5" height="8.59" fill="#ffffff"/>
<rect x="672.4" y="1534.6" width="27.5" height="2.33" fill="#a8a8d2"/>
<rect x="672.4" y="1536.6" width="27.5" height="2.33" fill="#ffffff"/>
<rect x="672.4" y="1538.7" width="27.5" height="2.33" fill="#fce4e4"/>
<rect x="672.4" y="1540.8" width="27.5" height="2.33" fill="#9090c6"/>
<rect x="672.4" y="1542.9" width="27.5" height="2.33" fill="#424ea2"/>
<rect x="672.4" y="1545.0" width="27.5" height="2.33" fill="#f08a8a"/>
<rect x="672.4" y="1547.1" width="27.5" height="2.33" fill="#f6dede"/>
<rect x="672.4" y="1549.1" width="27.5" height="2.33" fill="#f6d2d2"/>
<rect x="672.4" y="1551.2" width="27.5" height="2.33" fill="#f09c9c"/>
<rect x="672.4" y="1553.3" width="27.5" height="2.33" fill="#ffffff"/>
<rect x="672.4" y="1555.4" width="27.5" height="2.33" fill="#f6d8d8"/>
<rect x="672.4" y="1557.5" width="27.5" height="2.33" fill="#ffffff"/>
<rect x="672.4" y="1559.6" width="27.5" height="2.33" fill="#f6d2d2"/>
<rect x="672.4" y="1561.6" width="27.5" height="6.50" fill="#ffffff"/>
<rect x="672.4" y="1567.9" width="27.5" height="2.33" fill="#dedef0"/>
<rect x="672.4" y="1570.0" width="27.5" height="2.33" fill="#ffffff"/>
<rect x="672.4" y="1572.1" width="27.5" height="2.33" fill="#f0b4b4"/>
<rect x="672.4" y="1574.2" width="27.5" height="2.33" fill="#ffffff"/>
<rect x="672.4" y="1576.2" width="27.5" height="2.33" fill="#f6dede"/>
<rect x="672.4" y="1578.3" width="27.5" height="2.33" fill="#ffffff"/>
<rect x="672.4" y="1580.4" width="27.5" height="2.33" fill="#f09090"/>
<rect x="672.4" y="1582.5" width="27.5" height="10.67" fill="#ffffff"/>
<rect x="672.4" y="1592.9" width="27.5" height="2.33" fill="#f0aeae"/>
<rect x="672.4" y="1595.0" width="27.5" height="2.33" fill="#ffffff"/>
<rect x="672.4" y="1597.1" width="27.5" height="2.33" fill="#f6c0c6"/>
<rect x="672.4" y="1599.2" width="27.5" height="4.42" fill="#ffffff"/>
<rect x="672.4" y="1603.3" width="27.5" height="2.33" fill="#f0baba"/>
<rect x="672.4" y="1605.4" width="27.5" height="6.50" fill="#ffffff"/>
<rect x="672.4" y="1611.7" width="27.5" height="2.33" fill="#b4b4d8"/>
<rect x="672.4" y="1613.8" width="27.5" height="2.33" fill="#f6cccc"/>
<rect x="672.4" y="1615.8" width="27.5" height="2.33" fill="#ffffff"/>
<rect x="672.4" y="1617.9" width="27.5" height="2.33" fill="#ea7878"/>
<rect x="672.4" y="1620.0" width="27.5" height="16.93" fill="#ffffff"/>
<rect x="672.4" y="1636.7" width="27.5" height="2.33" fill="#3048a2"/>
<rect x="672.4" y="1638.8" width="27.5" height="2.33" fill="#ea7872"/>
<rect x="672.4" y="1640.9" width="27.5" height="10.67" fill="#ffffff"/>
<rect x="672.4" y="1651.3" width="27.5" height="2.33" fill="#f6d8d8"/>
<rect x="672.4" y="1653.4" width="27.5" height="2.33" fill="#f6dede"/>
<rect x="672.4" y="1655.4" width="27.5" height="8.59" fill="#ffffff"/>
<rect x="672.4" y="1663.8" width="27.5" height="2.33" fill="#8484c0"/>
<rect x="672.4" y="1665.9" width="27.5" height="6.50" fill="#ffffff"/>
<rect x="672.4" y="1672.1" width="27.5" height="2.33" fill="#a29ccc"/>
<rect x="672.4" y="1674.2" width="27.5" height="2.33" fill="#f0baba"/>
<rect x="672.4" y="1676.3" width="27.5" height="2.33" fill="#f6c0c0"/>
<rect x="672.4" y="1678.4" width="27.5" height="2.33" fill="#ffffff"/>
<rect x="672.4" y="1680.5" width="27.5" height="2.33" fill="#f08484"/>
<rect x="672.4" y="1682.5" width="27.5" height="4.42" fill="#ffffff"/>
<rect x="672.4" y="1686.7" width="27.5" height="2.33" fill="#f6bac0"/>
<rect x="672.4" y="1688.8" width="27.5" height="4.42" fill="#ffffff"/>
<rect x="672.4" y="1693.0" width="27.5" height="2.33" fill="#f0baba"/>
<rect x="672.4" y="1695.0" width="27.5" height="2.33" fill="#f09090"/>
<rect x="672.4" y="1697.1" width="27.5" height="2.33" fill="#f07e7e"/>
<rect x="672.4" y="1699.2" width="27.5" height="2.33" fill="#f0baba"/>
<rect x="672.4" y="1701.3" width="27.5" height="2.33" fill="#f0a8a8"/>
<rect x="672.4" y="1703.4" width="27.5" height="2.33" fill="#f6bac0"/>
<rect x="672.4" y="1705.5" width="27.5" height="2.33" fill="#ffffff"/>
<rect x="672.4" y="1707.6" width="27.5" height="2.33" fill="#f09c9c"/>
<rect x="672.4" y="1709.6" width="27.5" height="6.50" fill="#ffffff"/>
<rect x="672.4" y="1715.9" width="27.5" height="2.33" fill="#f0baba"/>
<rect x="672.4" y="1718.0" width="27.5" height="2.33" fill="#ea6c6c"/>
<rect x="672.4" y="1720.1" width="27.5" height="2.33" fill="#ffffff"/>
<rect x="672.4" y="1722.1" width="27.5" height="2.33" fill="#f09c9c"/>
<rect x="672.4" y="1724.2" width="27.5" height="8.59" fill="#ffffff"/>
<rect x="672.4" y="1732.6" width="27.5" height="2.33" fill="#f6c6c6"/>
<rect x="672.4" y="1734.7" width="27.5" height="6.50" fill="#ffffff"/>
<rect x="672.4" y="1740.9" width="27.5" height="2.33" fill="#ea7878"/>
<rect x="672.4" y="1743.0" width="27.5" height="2.33" fill="#f6d8d8"/>
<rect x="672.4" y="1745.1" width="27.5" height="2.33" fill="#fce4e4"/>
<rect x="672.4" y="1747.2" width="27.5" height="2.33" fill="#f6ccd2"/>
<rect x="672.4" y="1749.2" width="27.5" height="2.33" fill="#ffffff"/>
<rect x="672.4" y="1751.3" width="27.5" height="2.33" fill="#f0a8a8"/>
<rect x="672.4" y="1753.4" width="27.5" height="4.42" fill="#ffffff"/>
<rect x="672.4" y="1757.6" width="27.5" height="2.33" fill="#ea7e7e"/>
<rect x="672.4" y="1759.7" width="27.5" height="2.33" fill="#ffffff"/>
<rect x="672.4" y="1761.7" width="27.5" height="2.33" fill="#f6dede"/>
<rect x="672.4" y="1763.8" width="27.5" height="2.33" fill="#ffffff"/>
<rect x="672.4" y="1765.9" width="27.5" height="2.33" fill="#f09c9c"/>
<rect x="699.6" y="767.5" width="27.5" height="2.33" fill="#ffffff"/>
<rect x="699.6" y="769.6" width="27.5" height="2.33" fill="#b4aed8"/>
<rect x="699.6" y="771.7" width="27.5" height="2.33" fill="#4e54a2"/>
<rect x="699.6" y="773.8" width="27.5" height="2.33" fill="#3048a2"/>
<rect x="699.6" y="775.8" width="27.5" height="2.33" fill="#ffffff"/>
<rect x="699.6" y="777.9" width="27.5" height="2.33" fill="#aeaed8"/>
<rect x="699.6" y="780.0" width="27.5" height="2.33" fill="#484ea2"/>
<rect x="699.6" y="782.1" width="27.5" height="2.33" fill="#9c96cc"/>
<rect x="699.6" y="784.2" width="27.5" height="2.33" fill="#bab4d8"/>
<rect x="699.6" y="786.3" width="27.5" height="2.33" fill="#5a60ae"/>
<rect x="699.6" y="788.3" width="27.5" height="2.33" fill="#2a48a2"/>
<rect x="699.6" y="790.4" width="27.5" height="2.33" fill="#ffffff"/>
<rect x="699.6" y="792.5" width="27.5" height="2.33" fill="#ded8f0"/>
<rect x="699.6" y="794.6" width="27.5" height="2.33" fill="#ffffff"/>
<rect x="699.6" y="796.7" width="27.5" height="2.33" fill="#3c4ea2"/>
<rect x="699.6" y="798.8" width="27.5" height="2.33" fill="#5454a8"/>
<rect x="699.6" y="800.9" width="27.5" height="2.33" fill="#ffffff"/>
<rect x="699.6" y="802.9" width="27.5" height="2.33" fill="#dedef0"/>
<rect x="699.6" y="805.0" width="27.5" height="2.33" fill="#8484c0"/>
<rect x="699.6" y="807.1" width="27.5" height="2.33" fill="#3c4ea2"/>
<rect x="699.6" y="809.2" width="27.5" height="2.33" fill="#d8d8ea"/>
<rect x="699.6" y="811.3" width="27.5" height="2.33" fill="#ffffff"/>
<rect x="699.6" y="813.4" width="27.5" height="2.33" fill="#b4aed8"/>
<rect x="699.6" y="815.4" width="27.5" height="2.33" fill="#ffffff"/>
<rect x="699.6" y="817.5" width="27.5" height="2.33" fill="#545aa8"/>
<rect x="699.6" y="819.6" width="27.5" height="2.33" fill="#9696cc"/>
<rect x="699.6" y="821.7" width="27.5" height="2.33" fill="#ffffff"/>
<rect x="699.6" y="823.8" width="27.5" height="2.33" fill="#545aa8"/>
<rect x="699.6" y="825.9" width="27.5" height="2.33" fill="#7e7ec0"/>
<rect x="699.6" y="827.9" width="27.5" height="2.33" fill="#babade"/>
<rect x="699.6" y="830.0" width="27.5" height="2.33" fill="#c6c0e4"/>
<rect x="699.6" y="832.1" width="27.5" height="2.33" fill="#7e7ec0"/>
<rect x="699.6" y="834.2" width="27.5" height="2.33" fill="#6666b4"/>
<rect x="699.6" y="836.3" width="27.5" height="2.33" fill="#3c4ea2"/>
<rect x="699.6" y="838.4" width="27.5" height="2.33" fill="#ffffff"/>
<rect x="699.6" y="840.5" width="27.5" height="2.33" fill="#484ea2"/>
<rect x="699.6" y="842.5" width="27.5" height="4.42" fill="#ffffff"/>
<rect x="699.6" y="846.7" width="27.5" height="2.33" fill="#2a48a2"/>
<rect x="699.6" y="848.8" width="27.5" height="2.33" fill="#ffffff"/>
<rect x="699.6" y="850.9" width="27.5" height="2.33" fill="#6666ae"/>
<rect x="699.6" y="853.0" width="27.5" height="2.33" fill="#a8a8d2"/>
<rect x="699.6" y="855.0" width="27.5" height="2.33" fill="#5454a8"/>
<rect x="699.6" y="857.1" width="27.5" height="2.33" fill="#dedef0"/>
<rect x="699.6" y="859.2" width="27.5" height="2.33" fill="#ffffff"/>
<rect x="699.6" y="861.3" width="27.5" height="2.33" fill="#3648a2"/>
<rect x="699.6" y="863.4" width="27.5" height="4.42" fill="#ffffff"/>
<rect x="699.6" y="867.5" width="27.5" height="2.33" fill="#1e48a2"/>
<rect x="699.6" y="869.6" width="27.5" height="2.33" fill="#babad8"/>
<rect x="699.6" y="871.7" width="27.5" height="2.33" fill="#ffffff"/>
<rect x="699.6" y="873.8" width="27.5" height="2.33" fill="#d2d2ea"/>
<rect x="699.6" y="875.9" width="27.5" height="4.42" fill="#ffffff"/>
<rect x="699.6" y="880.1" width="27.5" height="2.33" fill="#484ea2"/>
<rect x="699.6" y="882.1" width="27.5" height="2.33" fill="#c6c6e4"/>
<rect x="699.6" y="884.2" width="27.5" height="2.33" fill="#ffffff"/>
<rect x="699.6" y="886.3" width="27.5" height="2.33" fill="#484ea2"/>
<rect x="699.6" y="888.4" width="27.5" height="4.42" fill="#ffffff"/>
<rect x="699.6" y="892.6" width="27.5" height="2.33" fill="#1e48a2"/>
<rect x="699.6" y="894.6" width="27.5" height="2.33" fill="#8a8ac6"/>
<rect x="699.6" y="896.7" width="27.5" height="2.33" fill="#484ea2"/>
<rect x="699.6" y="898.8" width="27.5" height="2.33" fill="#dedef0"/>
<rect x="699.6" y="900.9" width="27.5" height="2.33" fill="#ffffff"/>
<rect x="699.6" y="903.0" width="27.5" height="2.33" fill="#3c4ea2"/>
<rect x="699.6" y="905.1" width="27.5" height="2.33" fill="#424ea2"/>
<rect x="699.6" y="907.2" width="27.5" height="2.33" fill="#ffffff"/>
<rect x="699.6" y="909.2" width="27.5" height="2.33" fill="#e4def0"/>
<rect x="699.6" y="911.3" width="27.5" height="2.33" fill="#484ea2"/>
<rect x="699.6" y="913.4" width="27.5" height="2.33" fill="#a8a8d2"/>
<rect x="699.6" y="915.5" width="27.5" height="2.33" fill="#ffffff"/>
<rect x="699.6" y="917.6" width="27.5" height="2.33" fill="#cccce4"/>
<rect x="699.6" y="919.7" width="27.5" height="2.33" fill="#8484c0"/>
<rect x="699.6" y="921.7" width="27.5" height="4.42" fill="#ffffff"/>
<rect x="699.6" y="925.9" width="27.5" height="2.33" fill="#a8a8d2"/>
<rect x="699.6" y="928.0" width="27.5" height="2.33" fill="#6060ae"/>
<rect x="699.6" y="930.1" width="27.5" height="2.33" fill="#c0c0de"/>
<rect x="699.6" y="932.2" width="27.5" height="2.33" fill="#2a48a2"/>
<rect x="699.6" y="934.2" width="27.5" height="2.33" fill="#ffffff"/>
<rect x="699.6" y="936.3" width="27.5" height="2.33" fill="#666cb4"/>
<rect x="699.6" y="938.4" width="27.5" height="2.33" fill="#ffffff"/>
<rect x="699.6" y="940.5" width="27.5" height="2.33" fill="#b4b4d8"/>
<rect x="699.6" y="942.6" width="27.5" height="2.33" fill="#484ea2"/>
<rect x="699.6" y="944.7" width="27.5" height="2.33" fill="#6666ae"/>
<rect x="699.6" y="946.8" width="27.5" height="2.33" fill="#9696c6"/>
<rect x="699.6" y="948.8" width="27.5" height="2.33" fill="#ffffff"/>
<rect x="699.6" y="950.9" width="27.5" height="2.33" fill="#cccce4"/>
<rect x="699.6" y="953.0" width="27.5" height="2.33" fill="#8484c0"/>
<rect x="699.6" y="955.1" width="27.5" height="2.33" fill="#424ea2"/>
<rect x="699.6" y="957.2" width="27.5" height="2.33" fill="#aea8d2"/>
<rect x="699.6" y="959.3" width="27.5" height="4.42" fill="#ffffff"/>
<rect x="699.6" y="963.4" width="27.5" height="2.33" fill="#ded8f0"/>
<rect x="699.6" y="965.5" width="27.5" height="2.33" fill="#d2d2ea"/>
<rect x="699.6" y="967.6" width="27.5" height="2.33" fill="#ffffff"/>
<rect x="699.6" y="969.7" width="27.5" height="2.33" fill="#3c4ea2"/>
<rect x="699.6" y="971.8" width="27.5" height="2.33" fill="#ffffff"/>
<rect x="699.6" y="973.9" width="27.5" height="2.33" fill="#cccce4"/>
<rect x="699.6" y="975.9" width="27.5" height="4.42" fill="#ffffff"/>
<rect x="699.6" y="980.1" width="27.5" height="2.33" fill="#7272ba"/>
<rect x="699.6" y="982.2" width="27.5" height="2.33" fill="#c0bade"/>
<rect x="699.6" y="984.3" width="27.5" height="2.33" fill="#ffffff"/>
<rect x="699.6" y="986.4" width="27.5" height="2.33" fill="#ded8f0"/>
<rect x="699.6" y="988.4" width="27.5" height="2.33" fill="#a29ccc"/>
<rect x="699.6" y="990.5" width="27.5" height="2.33" fill="#f6d8d8"/>
<rect x="699.6" y="992.6" width="27.5" height="2.33" fill="#ffffff"/>
<rect x="699.6" y="994.7" width="27.5" height="2.33" fill="#aea8d2"/>
<rect x="699.6" y="996.8" width="27.5" height="2.33" fill="#ffffff"/>
<rect x="699.6" y="998.9" width="27.5" height="2.33" fill="#545aa8"/>
<rect x="699.6" y="1001.0" width="27.5" height="2.33" fill="#2448a8"/>
<rect x="699.6" y="1003.0" width="27.5" height="2.33" fill="#ffffff"/>
<rect x="699.6" y="1005.1" width="27.5" height="2.33" fill="#6666ae"/>
<rect x="699.6" y="1007.2" width="27.5" height="2.33" fill="#7e7ec0"/>
<rect x="699.6" y="1009.3" width="27.5" height="2.33" fill="#ffffff"/>
<rect x="699.6" y="1011.4" width="27.5" height="2.33" fill="#d8d8ea"/>
<rect x="699.6" y="1013.5" width="27.5" height="4.42" fill="#7878ba"/>
<rect x="699.6" y="1017.6" width="27.5" height="2.33" fill="#6c6cb4"/>
<rect x="699.6" y="1019.7" width="27.5" height="2.33" fill="#9c96cc"/>
<rect x="699.6" y="1021.8" width="27.5" height="2.33" fill="#7878ba"/>
<rect x="699.6" y="1023.9" width="27.5" height="2.33" fill="#f6cccc"/>
<rect x="699.6" y="1026.0" width="27.5" height="2.33" fill="#424ea2"/>
<rect x="699.6" y="1028.0" width="27.5" height="2.33" fill="#9c9ccc"/>
<rect x="699.6" y="1030.1" width="27.5" height="2.33" fill="#c6c0de"/>
<rect x="699.6" y="1032.2" width="27.5" height="2.33" fill="#7878ba"/>
<rect x="699.6" y="1034.3" width="27.5" height="4.42" fill="#ffffff"/>
<rect x="699.6" y="1038.5" width="27.5" height="2.33" fill="#d2d2ea"/>
<rect x="699.6" y="1040.6" width="27.5" height="2.33" fill="#8a8ac6"/>
<rect x="699.6" y="1042.6" width="27.5" height="2.33" fill="#ffffff"/>
<rect x="699.6" y="1044.7" width="27.5" height="2.33" fill="#8484c0"/>
<rect x="699.6" y="1046.8" width="27.5" height="4.42" fill="#ffffff"/>
<rect x="699.6" y="1051.0" width="27.5" height="2.33" fill="#d8d8ea"/>
<rect x="699.6" y="1053.1" width="27.5" height="2.33" fill="#8a8ac6"/>
<rect x="699.6" y="1055.1" width="27.5" height="2.33" fill="#484ea2"/>
<rect x="699.6" y="1057.2" width="27.5" height="2.33" fill="#a8a8d2"/>
<rect x="699.6" y="1059.3" width="27.5" height="2.33" fill="#424ea2"/>
<rect x="699.6" y="1061.4" width="27.5" height="4.42" fill="#ffffff"/>
<rect x="699.6" y="1065.6" width="27.5" height="2.33" fill="#8484c0"/>
<rect x="699.6" y="1067.7" width="27.5" height="2.33" fill="#9c9ccc"/>
<rect x="699.6" y="1069.7" width="27.5" height="2.33" fill="#6060ae"/>
<rect x="699.6" y="1071.8" width="27.5" height="6.50" fill="#ffffff"/>
<rect x="699.6" y="1078.1" width="27.5" height="2.33" fill="#a8a8d2"/>
<rect x="699.6" y="1080.2" width="27.5" height="6.50" fill="#ffffff"/>
<rect x="699.6" y="1086.4" width="27.5" height="4.42" fill="#9c9ccc"/>
<rect x="699.6" y="1090.6" width="27.5" height="2.33" fill="#4e54a8"/>
<rect x="699.6" y="1092.7" width="27.5" height="2.33" fill="#d2cce4"/>
<rect x="699.6" y="1094.7" width="27.5" height="2.33" fill="#6066ae"/>
<rect x="699.6" y="1096.8" width="27.5" height="2.33" fill="#3c4ea2"/>
<rect x="699.6" y="1098.9" width="27.5" height="2.33" fill="#484ea2"/>
<rect x="699.6" y="1101.0" width="27.5" height="2.33" fill="#dedef0"/>
<rect x="699.6" y="1103.1" width="27.5" height="4.42" fill="#ffffff"/>
<rect x="699.6" y="1107.3" width="27.5" height="2.33" fill="#9090c6"/>
<rect x="699.6" y="1109.3" width="27.5" height="2.33" fill="#d8d8ea"/>
<rect x="699.6" y="1111.4" width="27.5" height="2.33" fill="#f6c6c6"/>
<rect x="699.6" y="1113.5" width="27.5" height="2.33" fill="#ffffff"/>
<rect x="699.6" y="1115.6" width="27.5" height="2.33" fill="#aea8d2"/>
<rect x="699.6" y="1117.7" width="27.5" height="2.33" fill="#bab4d8"/>
<rect x="699.6" y="1119.8" width="27.5" height="2.33" fill="#ffffff"/>
<rect x="699.6" y="1121.8" width="27.5" height="2.33" fill="#4e54a2"/>
<rect x="699.6" y="1123.9" width="27.5" height="4.42" fill="#ffffff"/>
<rect x="699.6" y="1128.1" width="27.5" height="2.33" fill="#7878ba"/>
<rect x="699.6" y="1130.2" width="27.5" height="2.33" fill="#7e7ec0"/>
<rect x="699.6" y="1132.3" width="27.5" height="2.33" fill="#ffffff"/>
<rect x="699.6" y="1134.3" width="27.5" height="2.33" fill="#7e7ec0"/>
<rect x="699.6" y="1136.4" width="27.5" height="2.33" fill="#9c9ccc"/>
<rect x="699.6" y="1138.5" width="27.5" height="2.33" fill="#3048a2"/>
<rect x="699.6" y="1140.6" width="27.5" height="2.33" fill="#a8a8d2"/>
<rect x="699.6" y="1142.7" width="27.5" height="2.33" fill="#2a48a2"/>
<rect x="699.6" y="1144.8" width="27.5" height="2.33" fill="#f6bac0"/>
<rect x="699.6" y="1146.9" width="27.5" height="2.33" fill="#a29ccc"/>
<rect x="699.6" y="1148.9" width="27.5" height="2.33" fill="#ffffff"/>
<rect x="699.6" y="1151.0" width="27.5" height="2.33" fill="#484ea2"/>
<rect x="699.6" y="1153.1" width="27.5" height="2.33" fill="#424ea2"/>
<rect x="699.6" y="1155.2" width="27.5" height="2.33" fill="#7272ba"/>
<rect x="699.6" y="1157.3" width="27.5" height="4.42" fill="#ffffff"/>
<rect x="699.6" y="1161.4" width="27.5" height="2.33" fill="#5454a8"/>
<rect x="699.6" y="1163.5" width="27.5" height="2.33" fill="#8484c0"/>
<rect x="699.6" y="1165.6" width="27.5" height="2.33" fill="#9696cc"/>
<rect x="699.6" y="1167.7" width="27.5" height="2.33" fill="#3048a2"/>
<rect x="699.6" y="1169.8" width="27.5" height="2.33" fill="#545aa8"/>
<rect x="699.6" y="1171.9" width="27.5" height="2.33" fill="#424ea2"/>
<rect x="699.6" y="1174.0" width="27.5" height="2.33" fill="#3c4ea2"/>
<rect x="699.6" y="1176.0" width="27.5" height="2.33" fill="#7272ba"/>
<rect x="699.6" y="1178.1" width="27.5" height="2.33" fill="#f6c0c0"/>
<rect x="699.6" y="1180.2" width="27.5" height="2.33" fill="#2a48a2"/>
<rect x="699.6" y="1182.3" width="27.5" height="2.33" fill="#f6c6c6"/>
<rect x="699.6" y="1184.4" width="27.5" height="2.33" fill="#f6c0c0"/>
<rect x="699.6" y="1186.5" width="27.5" height="2.33" fill="#f09090"/>
<rect x="699.6" y="1188.5" width="27.5" height="2.33" fill="#2a48a2"/>
<rect x="699.6" y="1190.6" width="27.5" height="2.33" fill="#9c9ccc"/>
<rect x="699.6" y="1192.7" width="27.5" height="2.33" fill="#ea6c66"/>
<rect x="699.6" y="1194.8" width="27.5" height="2.33" fill="#ffffff"/>
<rect x="699.6" y="1196.9" width="27.5" height="2.33" fill="#a8a2d2"/>
<rect x="699.6" y="1199.0" width="27.5" height="4.42" fill="#484ea2"/>
<rect x="699.6" y="1203.1" width="27.5" height="2.33" fill="#ded8f0"/>
<rect x="699.6" y="1205.2" width="27.5" height="2.33" fill="#9696cc"/>
<rect x="699.6" y="1207.3" width="27.5" height="2.33" fill="#ffffff"/>
<rect x="699.6" y="1209.4" width="27.5" height="2.33" fill="#f6c0c0"/>
<rect x="699.6" y="1211.5" width="27.5" height="2.33" fill="#ffffff"/>
<rect x="699.6" y="1213.6" width="27.5" height="2.33" fill="#1e48a8"/>
<rect x="699.6" y="1215.6" width="27.5" height="2.33" fill="#ffffff"/>
<rect x="699.6" y="1217.7" width="27.5" height="2.33" fill="#d8d2ea"/>
<rect x="699.6" y="1219.8" width="27.5" height="2.33" fill="#ffffff"/>
<rect x="699.6" y="1221.9" width="27.5" height="2.33" fill="#b4aed8"/>
<rect x="699.6" y="1224.0" width="27.5" height="2.33" fill="#7e7ec0"/>
<rect x="699.6" y="1226.1" width="27.5" height="2.33" fill="#ffffff"/>
<rect x="699.6" y="1228.1" width="27.5" height="2.33" fill="#1e48a2"/>
<rect x="699.6" y="1230.2" width="27.5" height="6.50" fill="#ffffff"/>
<rect x="699.6" y="1236.5" width="27.5" height="2.33" fill="#f0baba"/>
<rect x="699.6" y="1238.6" width="27.5" height="2.33" fill="#2448a2"/>
<rect x="699.6" y="1240.7" width="27.5" height="2.33" fill="#3648a2"/>
<rect x="699.6" y="1242.7" width="27.5" height="4.42" fill="#ffffff"/>
<rect x="699.6" y="1246.9" width="27.5" height="2.33" fill="#f0b4b4"/>
<rect x="699.6" y="1249.0" width="27.5" height="2.33" fill="#424ea2"/>
<rect x="699.6" y="1251.1" width="27.5" height="2.33" fill="#484ea2"/>
<rect x="699.6" y="1253.2" width="27.5" height="2.33" fill="#a29ccc"/>
<rect x="699.6" y="1255.2" width="27.5" height="2.33" fill="#6060ae"/>
<rect x="699.6" y="1257.3" width="27.5" height="2.33" fill="#ffffff"/>
<rect x="699.6" y="1259.4" width="27.5" height="2.33" fill="#424ea2"/>
<rect x="699.6" y="1261.5" width="27.5" height="2.33" fill="#9c9ccc"/>
<rect x="699.6" y="1263.6" width="27.5" height="2.33" fill="#f08484"/>
<rect x="699.6" y="1265.7" width="27.5" height="2.33" fill="#ffffff"/>
<rect x="699.6" y="1267.8" width="27.5" height="2.33" fill="#f0a8a8"/>
<rect x="699.6" y="1269.8" width="27.5" height="2.33" fill="#4e54a2"/>
<rect x="699.6" y="1271.9" width="27.5" height="4.42" fill="#ffffff"/>
<rect x="699.6" y="1276.1" width="27.5" height="2.33" fill="#babade"/>
<rect x="699.6" y="1278.2" width="27.5" height="2.33" fill="#484ea2"/>
<rect x="699.6" y="1280.3" width="27.5" height="2.33" fill="#666cb4"/>
<rect x="699.6" y="1282.3" width="27.5" height="2.33" fill="#ea6c6c"/>
<rect x="699.6" y="1284.4" width="27.5" height="2.33" fill="#8484c0"/>
<rect x="699.6" y="1286.5" width="27.5" height="2.33" fill="#ffffff"/>
<rect x="699.6" y="1288.6" width="27.5" height="2.33" fill="#babad8"/>
<rect x="699.6" y="1290.7" width="27.5" height="2.33" fill="#f6d8d8"/>
<rect x="699.6" y="1292.8" width="27.5" height="2.33" fill="#484ea2"/>
<rect x="699.6" y="1294.8" width="27.5" height="2.33" fill="#f0baba"/>
<rect x="699.6" y="1296.9" width="27.5" height="2.33" fill="#e45a5a"/>
<rect x="699.6" y="1299.0" width="27.5" height="2.33" fill="#9c9ccc"/>
<rect x="699.6" y="1301.1" width="27.5" height="4.42" fill="#ffffff"/>
<rect x="699.6" y="1305.3" width="27.5" height="2.33" fill="#f0a2a2"/>
<rect x="699.6" y="1307.4" width="27.5" height="2.33" fill="#f09090"/>
<rect x="699.6" y="1309.4" width="27.5" height="2.33" fill="#ffffff"/>
<rect x="699.6" y="1311.5" width="27.5" height="2.33" fill="#ea7878"/>
<rect x="699.6" y="1313.6" width="27.5" height="2.33" fill="#ffffff"/>
<rect x="699.6" y="1315.7" width="27.5" height="2.33" fill="#f0aeae"/>
<rect x="699.6" y="1317.8" width="27.5" height="2.33" fill="#9090c6"/>
<rect x="699.6" y="1319.9" width="27.5" height="2.33" fill="#f09c9c"/>
<rect x="699.6" y="1321.9" width="27.5" height="2.33" fill="#e44848"/>
<rect x="699.6" y="1324.0" width="27.5" height="2.33" fill="#f0aeae"/>
<rect x="699.6" y="1326.1" width="27.5" height="2.33" fill="#f0b4b4"/>
<rect x="699.6" y="1328.2" width="27.5" height="2.33" fill="#f6d8d8"/>
<rect x="699.6" y="1330.3" width="27.5" height="2.33" fill="#a8a2d2"/>
<rect x="699.6" y="1332.4" width="27.5" height="2.33" fill="#f0a2a2"/>
<rect x="699.6" y="1334.5" width="27.5" height="2.33" fill="#9c9ccc"/>
<rect x="699.6" y="1336.5" width="27.5" height="2.33" fill="#ffffff"/>
<rect x="699.6" y="1338.6" width="27.5" height="2.33" fill="#f0aeae"/>
<rect x="699.6" y="1340.7" width="27.5" height="2.33" fill="#f09c9c"/>
<rect x="699.6" y="1342.8" width="27.5" height="2.33" fill="#7e7ec0"/>
<rect x="699.6" y="1344.9" width="27.5" height="2.33" fill="#ffffff"/>
<rect x="699.6" y="1347.0" width="27.5" height="2.33" fill="#c0c0de"/>
<rect x="699.6" y="1349.0" width="27.5" height="2.33" fill="#4e54a2"/>
<rect x="699.6" y="1351.1" width="27.5" height="2.33" fill="#6666b4"/>
<rect x="699.6" y="1353.2" width="27.5" height="2.33" fill="#7272ba"/>
<rect x="699.6" y="1355.3" width="27.5" height="2.33" fill="#ffffff"/>
<rect x="699.6" y="1357.4" width="27.5" height="2.33" fill="#e45454"/>
<rect x="699.6" y="1359.5" width="27.5" height="2.33" fill="#ffffff"/>
<rect x="699.6" y="1361.5" width="27.5" height="2.33" fill="#e4def0"/>
<rect x="699.6" y="1363.6" width="27.5" height="2.33" fill="#e45454"/>
<rect x="699.6" y="1365.7" width="27.5" height="2.33" fill="#ffffff"/>
<rect x="699.6" y="1367.8" width="27.5" height="2.33" fill="#f08a8a"/>
<rect x="699.6" y="1369.9" width="27.5" height="2.33" fill="#f09c9c"/>
<rect x="699.6" y="1372.0" width="27.5" height="2.33" fill="#1e48a8"/>
<rect x="699.6" y="1374.1" width="27.5" height="2.33" fill="#f0a2a2"/>
<rect x="699.6" y="1376.1" width="27.5" height="2.33" fill="#4e54a2"/>
<rect x="699.6" y="1378.2" width="27.5" height="2.33" fill="#f09696"/>
<rect x="699.6" y="1380.3" width="27.5" height="2.33" fill="#8a8ac0"/>
<rect x="699.6" y="1382.4" width="27.5" height="2.33" fill="#7272b4"/>
<rect x="699.6" y="1384.5" width="27.5" height="2.33" fill="#1e48a2"/>
<rect x="699.6" y="1386.6" width="27.5" height="2.33" fill="#ea6060"/>
<rect x="699.6" y="1388.6" width="27.5" height="2.33" fill="#484ea2"/>
<rect x="699.6" y="1390.7" width="27.5" height="2.33" fill="#f6cccc"/>
<rect x="699.6" y="1392.8" width="27.5" height="4.42" fill="#f09c9c"/>
<rect x="699.6" y="1397.0" width="27.5" height="8.59" fill="#ffffff"/>
<rect x="699.6" y="1405.3" width="27.5" height="2.33" fill="#f6cccc"/>
<rect x="699.6" y="1407.4" width="27.5" height="2.33" fill="#ffffff"/>
<rect x="699.6" y="1409.5" width="27.5" height="2.33" fill="#e45a54"/>
<rect x="699.6" y="1411.6" width="27.5" height="2.33" fill="#e43c36"/>
<rect x="699.6" y="1413.7" width="27.5" height="2.33" fill="#ea7272"/>
<rect x="699.6" y="1415.7" width="27.5" height="2.33" fill="#9696cc"/>
<rect x="699.6" y="1417.8" width="27.5" height="2.33" fill="#f09090"/>
<rect x="699.6" y="1419.9" width="27.5" height="2.33" fill="#484ea2"/>
<rect x="699.6" y="1422.0" width="27.5" height="2.33" fill="#b4b4d8"/>
<rect x="699.6" y="1424.1" width="27.5" height="2.33" fill="#aea8d2"/>
<rect x="699.6" y="1426.2" width="27.5" height="2.33" fill="#424ea2"/>
<rect x="699.6" y="1428.2" width="27.5" height="2.33" fill="#f0baba"/>
<rect x="699.6" y="1430.3" width="27.5" height="2.33" fill="#ded8f0"/>
<rect x="699.6" y="1432.4" width="27.5" height="2.33" fill="#e4423c"/>
<rect x="699.6" y="1434.5" width="27.5" height="2.33" fill="#e45454"/>
<rect x="699.6" y="1436.6" width="27.5" height="2.33" fill="#1e48a2"/>
<rect x="699.6" y="1438.7" width="27.5" height="2.33" fill="#ffffff"/>
<rect x="699.6" y="1440.8" width="27.5" height="2.33" fill="#5a60a8"/>
<rect x="699.6" y="1442.8" width="27.5" height="4.42" fill="#ffffff"/>
<rect x="699.6" y="1447.0" width="27.5" height="2.33" fill="#ea7e7e"/>
<rect x="699.6" y="1449.1" width="27.5" height="2.33" fill="#f6ccd2"/>
<rect x="699.6" y="1451.2" width="27.5" height="2.33" fill="#ffffff"/>
<rect x="699.6" y="1453.3" width="27.5" height="2.33" fill="#f6d2d2"/>
<rect x="699.6" y="1455.3" width="27.5" height="2.33" fill="#8a8ac6"/>
<rect x="699.6" y="1457.4" width="27.5" height="2.33" fill="#d2d2ea"/>
<rect x="699.6" y="1459.5" width="27.5" height="2.33" fill="#f6c0c0"/>
<rect x="699.6" y="1461.6" width="27.5" height="2.33" fill="#ffffff"/>
<rect x="699.6" y="1463.7" width="27.5" height="2.33" fill="#9696cc"/>
<rect x="699.6" y="1465.8" width="27.5" height="2.33" fill="#ea7272"/>
<rect x="699.6" y="1467.8" width="27.5" height="2.33" fill="#ffffff"/>
<rect x="699.6" y="1469.9" width="27.5" height="2.33" fill="#e45454"/>
<rect x="699.6" y="1472.0" width="27.5" height="2.33" fill="#ffffff"/>
<rect x="699.6" y="1474.1" width="27.5" height="2.33" fill="#e4423c"/>
<rect x="699.6" y="1476.2" width="27.5" height="4.42" fill="#ffffff"/>
<rect x="699.6" y="1480.4" width="27.5" height="2.33" fill="#424ea2"/>
<rect x="699.6" y="1482.4" width="27.5" height="2.33" fill="#f0b4b4"/>
<rect x="699.6" y="1484.5" width="27.5" height="2.33" fill="#e44e48"/>
<rect x="699.6" y="1486.6" width="27.5" height="4.42" fill="#ffffff"/>
<rect x="699.6" y="1490.8" width="27.5" height="2.33" fill="#f08a8a"/>
<rect x="699.6" y="1492.9" width="27.5" height="4.42" fill="#ffffff"/>
<rect x="699.6" y="1497.0" width="27.5" height="2.33" fill="#f0a2a2"/>
<rect x="699.6" y="1499.1" width="27.5" height="2.33" fill="#f0a8a8"/>
<rect x="699.6" y="1501.2" width="27.5" height="2.33" fill="#e44848"/>
<rect x="699.6" y="1503.3" width="27.5" height="2.33" fill="#ffffff"/>
<rect x="699.6" y="1505.4" width="27.5" height="2.33" fill="#c0c0de"/>
<rect x="699.6" y="1507.5" width="27.5" height="2.33" fill="#e44e4e"/>
<rect x="699.6" y="1509.5" width="27.5" height="2.33" fill="#f09c9c"/>
<rect x="699.6" y="1511.6" width="27.5" height="2.33" fill="#7e7ec0"/>
<rect x="699.6" y="1513.7" width="27.5" height="2.33" fill="#a8a8d2"/>
<rect x="699.6" y="1515.8" width="27.5" height="2.33" fill="#ffffff"/>
<rect x="699.6" y="1517.9" width="27.5" height="2.33" fill="#e44e48"/>
<rect x="699.6" y="1520.0" width="27.5" height="2.33" fill="#f0baba"/>
<rect x="699.6" y="1522.0" width="27.5" height="2.33" fill="#6666b4"/>
<rect x="699.6" y="1524.1" width="27.5" height="2.33" fill="#ea6c66"/>
<rect x="699.6" y="1526.2" width="27.5" height="2.33" fill="#3048a2"/>
<rect x="699.6" y="1528.3" width="27.5" height="2.33" fill="#f09090"/>
<rect x="699.6" y="1530.4" width="27.5" height="4.42" fill="#ffffff"/>
<rect x="699.6" y="1534.6" width="27.5" height="2.33" fill="#f0a8a8"/>
<rect x="699.6" y="1536.6" width="27.5" height="2.33" fill="#ffffff"/>
<rect x="699.6" y="1538.7" width="27.5" height="2.33" fill="#ea6060"/>
<rect x="699.6" y="1540.8" width="27.5" height="8.59" fill="#ffffff"/>
<rect x="699.6" y="1549.1" width="27.5" height="2.33" fill="#d8d2ea"/>
<rect x="699.6" y="1551.2" width="27.5" height="2.33" fill="#e45454"/>
<rect x="699.6" y="1553.3" width="27.5" height="2.33" fill="#f6cccc"/>
<rect x="699.6" y="1555.4" width="27.5" height="2.33" fill="#ffffff"/>
<rect x="699.6" y="1557.5" width="27.5" height="2.33" fill="#e44242"/>
<rect x="699.6" y="1559.6" width="27.5" height="2.33" fill="#e44848"/>
<rect x="699.6" y="1561.6" width="27.5" height="2.33" fill="#e43c3c"/>
<rect x="699.6" y="1563.7" width="27.5" height="2.33" fill="#ffffff"/>
<rect x="699.6" y="1565.8" width="27.5" height="2.33" fill="#f0a2a2"/>
<rect x="699.6" y="1567.9" width="27.5" height="4.42" fill="#ffffff"/>
<rect x="699.6" y="1572.1" width="27.5" height="2.33" fill="#ea6666"/>
<rect x="699.6" y="1574.2" width="27.5" height="2.33" fill="#ffffff"/>
<rect x="699.6" y="1576.2" width="27.5" height="2.33" fill="#ea6666"/>
<rect x="699.6" y="1578.3" width="27.5" height="2.33" fill="#f09c9c"/>
<rect x="699.6" y="1580.4" width="27.5" height="2.33" fill="#ea7e7e"/>
<rect x="699.6" y="1582.5" width="27.5" height="2.33" fill="#ea7878"/>
<rect x="699.6" y="1584.6" width="27.5" height="2.33" fill="#f6d8d8"/>
<rect x="699.6" y="1586.7" width="27.5" height="2.33" fill="#f08484"/>
<rect x="699.6" y="1588.7" width="27.5" height="2.33" fill="#f09696"/>
<rect x="699.6" y="1590.8" width="27.5" height="2.33" fill="#f0aeb4"/>
<rect x="699.6" y="1592.9" width="27.5" height="2.33" fill="#e45a54"/>
<rect x="699.6" y="1595.0" width="27.5" height="2.33" fill="#f0b4b4"/>
<rect x="699.6" y="1597.1" width="27.5" height="2.33" fill="#f6bac0"/>
<rect x="699.6" y="1599.2" width="27.5" height="2.33" fill="#f0b4ba"/>
<rect x="699.6" y="1601.2" width="27.5" height="2.33" fill="#e44848"/>
<rect x="699.6" y="1603.3" width="27.5" height="2.33" fill="#f08a8a"/>
<rect x="699.6" y="1605.4" width="27.5" height="2.33" fill="#e44242"/>
<rect x="699.6" y="1607.5" width="27.5" height="2.33" fill="#e45a5a"/>
<rect x="699.6" y="1609.6" width="27.5" height="2.33" fill="#f6d8d8"/>
<rect x="699.6" y="1611.7" width="27.5" height="6.50" fill="#ffffff"/>
<rect x="699.6" y="1617.9" width="27.5" height="2.33" fill="#f6d2d2"/>
<rect x="699.6" y="1620.0" width="27.5" height="2.33" fill="#ffffff"/>
<rect x="699.6" y="1622.1" width="27.5" height="2.33" fill="#3c4ea2"/>
<rect x="699.6" y="1624.2" width="27.5" height="2.33" fill="#ffffff"/>
<rect x="699.6" y="1626.3" width="27.5" height="2.33" fill="#ea6660"/>
<rect x="699.6" y="1628.3" width="27.5" height="2.33" fill="#ffffff"/>
<rect x="699.6" y="1630.4" width="27.5" height="2.33" fill="#f6cccc"/>
<rect x="699.6" y="1632.5" width="27.5" height="2.33" fill="#ffffff"/>
<rect x="699.6" y="1634.6" width="27.5" height="2.33" fill="#e45a54"/>
<rect x="699.6" y="1636.7" width="27.5" height="2.33" fill="#1e48a2"/>
<rect x="699.6" y="1638.8" width="27.5" height="2.33" fill="#e43c3c"/>
<rect x="699.6" y="1640.9" width="27.5" height="2.33" fill="#9c96cc"/>
<rect x="699.6" y="1642.9" width="27.5" height="2.33" fill="#ffffff"/>
<rect x="699.6" y="1645.0" width="27.5" height="2.33" fill="#a8a8d2"/>
<rect x="699.6" y="1647.1" width="27.5" height="2.33" fill="#f09c9c"/>
<rect x="699.6" y="1649.2" width="27.5" height="2.33" fill="#ea6666"/>
<rect x="699.6" y="1651.3" width="27.5" height="2.33" fill="#f09c9c"/>
<rect x="699.6" y="1653.4" width="27.5" height="2.33" fill="#e44848"/>
<rect x="699.6" y="1655.4" width="27.5" height="2.33" fill="#e45a54"/>
<rect x="699.6" y="1657.5" width="27.5" height="2.33" fill="#f0a2a2"/>
<rect x="699.6" y="1659.6" width="27.5" height="2.33" fill="#f6d8d8"/>
<rect x="699.6" y="1661.7" width="27.5" height="2.33" fill="#ffffff"/>
<rect x="699.6" y="1663.8" width="27.5" height="2.33" fill="#6066ae"/>
<rect x="699.6" y="1665.9" width="27.5" height="2.33" fill="#484ea2"/>
<rect x="699.6" y="1668.0" width="27.5" height="2.33" fill="#a2a2cc"/>
<rect x="699.6" y="1670.0" width="27.5" height="2.33" fill="#f6c0c0"/>
<rect x="699.6" y="1672.1" width="27.5" height="2.33" fill="#f0b4b4"/>
<rect x="699.6" y="1674.2" width="27.5" height="2.33" fill="#ffffff"/>
<rect x="699.6" y="1676.3" width="27.5" height="2.33" fill="#e4544e"/>
<rect x="699.6" y="1678.4" width="27.5" height="2.33" fill="#c6c0e4"/>
<rect x="699.6" y="1680.5" width="27.5" height="2.33" fill="#e44e48"/>
<rect x="699.6" y="1682.5" width="27.5" height="2.33" fill="#6c6cb4"/>
<rect x="699.6" y="1684.6" width="27.5" height="2.33" fill="#f0b4b4"/>
<rect x="699.6" y="1686.7" width="27.5" height="2.33" fill="#f6d8d8"/>
<rect x="699.6" y="1688.8" width="27.5" height="2.33" fill="#f09090"/>
<rect x="699.6" y="1690.9" width="27.5" height="2.33" fill="#ffffff"/>
<rect x="699.6" y="1693.0" width="27.5" height="2.33" fill="#ea7878"/>
<rect x="699.6" y="1695.0" width="27.5" height="2.33" fill="#e44e4e"/>
<rect x="699.6" y="1697.1" width="27.5" height="2.33" fill="#ea6660"/>
<rect x="699.6" y="1699.2" width="27.5" height="2.33" fill="#ea6c6c"/>
<rect x="699.6" y="1701.3" width="27.5" height="2.33" fill="#f0baba"/>
<rect x="699.6" y="1703.4" width="27.5" height="2.33" fill="#babad8"/>
<rect x="699.6" y="1705.5" width="27.5" height="2.33" fill="#e45a54"/>
<rect x="699.6" y="1707.6" width="27.5" height="2.33" fill="#e44242"/>
<rect x="699.6" y="1709.6" width="27.5" height="2.33" fill="#f0aeae"/>
<rect x="699.6" y="1711.7" width="27.5" height="2.33" fill="#e44e4e"/>
<rect x="699.6" y="1713.8" width="27.5" height="2.33" fill="#ffffff"/>
<rect x="699.6" y="1715.9" width="27.5" height="2.33" fill="#f0aeae"/>
<rect x="699.6" y="1718.0" width="27.5" height="2.33" fill="#f6c0c0"/>
<rect x="699.6" y="1720.1" width="27.5" height="2.33" fill="#ffffff"/>
<rect x="699.6" y="1722.1" width="27.5" height="2.33" fill="#ea7878"/>
<rect x="699.6" y="1724.2" width="27.5" height="4.42" fill="#ffffff"/>
<rect x="699.6" y="1728.4" width="27.5" height="2.33" fill="#7272ba"/>
<rect x="699.6" y="1730.5" width="27.5" height="2.33" fill="#e44e48"/>
<rect x="699.6" y="1732.6" width="27.5" height="2.33" fill="#f0b4b4"/>
<rect x="699.6" y="1734.7" width="27.5" height="2.33" fill="#a8a2d2"/>
<rect x="699.6" y="1736.7" width="27.5" height="2.33" fill="#ffffff"/>
<rect x="699.6" y="1738.8" width="27.5" height="2.33" fill="#ea6c6c"/>
<rect x="699.6" y="1740.9" width="27.5" height="2.33" fill="#e43c36"/>
<rect x="699.6" y="1743.0" width="27.5" height="2.33" fill="#ea7878"/>
<rect x="699.6" y="1745.1" width="27.5" height="2.33" fill="#e44e4e"/>
<rect x="699.6" y="1747.2" width="27.5" height="2.33" fill="#e4605a"/>
<rect x="699.6" y="1749.2" width="27.5" height="2.33" fill="#e4544e"/>
<rect x="699.6" y="1751.3" width="27.5" height="2.33" fill="#f0a2a2"/>
<rect x="699.6" y="1753.4" width="27.5" height="2.33" fill="#f6c6c6"/>
<rect x="699.6" y="1755.5" width="27.5" height="2.33" fill="#f0a8ae"/>
<rect x="699.6" y="1757.6" width="27.5" height="2.33" fill="#e44242"/>
<rect x="699.6" y="1759.7" width="27.5" height="2.33" fill="#ffffff"/>
<rect x="699.6" y="1761.7" width="27.5" height="2.33" fill="#f6cccc"/>
<rect x="699.6" y="1763.8" width="27.5" height="2.33" fill="#ffffff"/>
<rect x="699.6" y="1765.9" width="27.5" height="2.33" fill="#f6d2d2"/>
<rect x="726.8" y="767.5" width="27.5" height="2.33" fill="#9c9ccc"/>
<rect x="726.8" y="769.6" width="27.5" height="2.33" fill="#9696cc"/>
<rect x="726.8" y="771.7" width="27.5" height="2.33" fill="#7878ba"/>
<rect x="726.8" y="773.8" width="27.5" height="2.33" fill="#2a48a2"/>
<rect x="726.8" y="775.8" width="27.5" height="2.33" fill="#7272b4"/>
<rect x="726.8" y="777.9" width="27.5" height="2.33" fill="#8a8ac6"/>
<rect x="726.8" y="780.0" width="27.5" height="2.33" fill="#3048a2"/>
<rect x="726.8" y="782.1" width="27.5" height="2.33" fill="#7e7ec0"/>
<rect x="726.8" y="784.2" width="27.5" height="2.33" fill="#a2a2d2"/>
<rect x="726.8" y="786.3" width="27.5" height="2.33" fill="#7e7ec0"/>
<rect x="726.8" y="788.3" width="27.5" height="2.33" fill="#6060ae"/>
<rect x="726.8" y="790.4" width="27.5" height="2.33" fill="#6066ae"/>
<rect x="726.8" y="792.5" width="27.5" height="2.33" fill="#3c4ea2"/>
<rect x="726.8" y="794.6" width="27.5" height="2.33" fill="#5a5aa8"/>
<rect x="726.8" y="796.7" width="27.5" height="2.33" fill="#3c4ea2"/>
<rect x="726.8" y="798.8" width="27.5" height="2.33" fill="#484ea2"/>
<rect x="726.8" y="800.9" width="27.5" height="2.33" fill="#9090c6"/>
<rect x="726.8" y="802.9" width="27.5" height="4.42" fill="#484ea2"/>
<rect x="726.8" y="807.1" width="27.5" height="2.33" fill="#4e54a2"/>
<rect x="726.8" y="809.2" width="27.5" height="2.33" fill="#7272ba"/>
<rect x="726.8" y="811.3" width="27.5" height="2.33" fill="#484ea2"/>
<rect x="726.8" y="813.4" width="27.5" height="2.33" fill="#9090c6"/>
<rect x="726.8" y="815.4" width="27.5" height="2.33" fill="#a29ccc"/>
<rect x="726.8" y="817.5" width="27.5" height="4.42" fill="#8484c0"/>
<rect x="726.8" y="821.7" width="27.5" height="2.33" fill="#a29ccc"/>
<rect x="726.8" y="823.8" width="27.5" height="2.33" fill="#424ea2"/>
<rect x="726.8" y="825.9" width="27.5" height="4.42" fill="#3c4ea2"/>
<rect x="726.8" y="830.0" width="27.5" height="4.42" fill="#484ea2"/>
<rect x="726.8" y="834.2" width="27.5" height="2.33" fill="#3648a2"/>
<rect x="726.8" y="836.3" width="27.5" height="2.33" fill="#3c4ea2"/>
<rect x="726.8" y="838.4" width="27.5" height="2.33" fill="#5a5aa8"/>
<rect x="726.8" y="840.5" width="27.5" height="2.33" fill="#9696cc"/>
<rect x="726.8" y="842.5" width="27.5" height="2.33" fill="#8484c0"/>
<rect x="726.8" y="844.6" width="27.5" height="2.33" fill="#9090c6"/>
<rect x="726.8" y="846.7" width="27.5" height="2.33" fill="#484ea2"/>
<rect x="726.8" y="848.8" width="27.5" height="2.33" fill="#9c96cc"/>
<rect x="726.8" y="850.9" width="27.5" height="2.33" fill="#6060ae"/>
<rect x="726.8" y="853.0" width="27.5" height="2.33" fill="#545aa8"/>
<rect x="726.8" y="855.0" width="27.5" height="4.42" fill="#6c6cb4"/>
<rect x="726.8" y="859.2" width="27.5" height="2.33" fill="#a29ccc"/>
<rect x="726.8" y="861.3" width="27.5" height="2.33" fill="#364ea2"/>
<rect x="726.8" y="863.4" width="27.5" height="2.33" fill="#7272b4"/>
<rect x="726.8" y="865.5" width="27.5" height="4.42" fill="#3048a2"/>
<rect x="726.8" y="869.6" width="27.5" height="2.33" fill="#7272ba"/>
<rect x="726.8" y="871.7" width="27.5" height="2.33" fill="#6c72b4"/>
<rect x="726.8" y="873.8" width="27.5" height="4.42" fill="#8484c0"/>
<rect x="726.8" y="878.0" width="27.5" height="2.33" fill="#4e54a2"/>
<rect x="726.8" y="880.1" width="27.5" height="2.33" fill="#8a8ac0"/>
<rect x="726.8" y="882.1" width="27.5" height="2.33" fill="#666cb4"/>
<rect x="726.8" y="884.2" width="27.5" height="2.33" fill="#ffffff"/>
<rect x="726.8" y="886.3" width="27.5" height="2.33" fill="#3648a2"/>
<rect x="726.8" y="888.4" width="27.5" height="2.33" fill="#6060ae"/>
<rect x="726.8" y="890.5" width="27.5" height="2.33" fill="#6666b4"/>
<rect x="726.8" y="892.6" width="27.5" height="2.33" fill="#3048a2"/>
<rect x="726.8" y="894.6" width="27.5" height="2.33" fill="#ffffff"/>
<rect x="726.8" y="896.7" width="27.5" height="2.33" fill="#364ea2"/>
<rect x="726.8" y="898.8" width="27.5" height="2.33" fill="#484ea2"/>
<rect x="726.8" y="900.9" width="27.5" height="2.33" fill="#f6d8d8"/>
<rect x="726.8" y="903.0" width="27.5" height="2.33" fill="#424ea2"/>
<rect x="726.8" y="905.1" width="27.5" height="2.33" fill="#484ea2"/>
<rect x="726.8" y="907.2" width="27.5" height="2.33" fill="#ffffff"/>
<rect x="726.8" y="909.2" width="27.5" height="2.33" fill="#3048a2"/>
<rect x="726.8" y="911.3" width="27.5" height="2.33" fill="#6060ae"/>
<rect x="726.8" y="913.4" width="27.5" height="2.33" fill="#484ea2"/>
<rect x="726.8" y="915.5" width="27.5" height="2.33" fill="#6066ae"/>
<rect x="726.8" y="917.6" width="27.5" height="2.33" fill="#6666b4"/>
<rect x="726.8" y="919.7" width="27.5" height="2.33" fill="#a29ccc"/>
<rect x="726.8" y="921.7" width="27.5" height="6.50" fill="#ffffff"/>
<rect x="726.8" y="928.0" width="27.5" height="2.33" fill="#3c4ea2"/>
<rect x="726.8" y="930.1" width="27.5" height="2.33" fill="#5a5aa8"/>
<rect x="726.8" y="932.2" width="27.5" height="2.33" fill="#3048a2"/>
<rect x="726.8" y="934.2" width="27.5" height="2.33" fill="#666cb4"/>
<rect x="726.8" y="936.3" width="27.5" height="2.33" fill="#484ea2"/>
<rect x="726.8" y="938.4" width="27.5" height="4.42" fill="#ffffff"/>
<rect x="726.8" y="942.6" width="27.5" height="2.33" fill="#484ea2"/>
<rect x="726.8" y="944.7" width="27.5" height="2.33" fill="#4e54a8"/>
<rect x="726.8" y="946.8" width="27.5" height="2.33" fill="#5a60ae"/>
<rect x="726.8" y="948.8" width="27.5" height="2.33" fill="#9690c6"/>
<rect x="726.8" y="950.9" width="27.5" height="2.33" fill="#3048a2"/>
<rect x="726.8" y="953.0" width="27.5" height="2.33" fill="#7878ba"/>
<rect x="726.8" y="955.1" width="27.5" height="4.42" fill="#3c4ea2"/>
<rect x="726.8" y="959.3" width="27.5" height="2.33" fill="#9690c6"/>
<rect x="726.8" y="961.3" width="27.5" height="2.33" fill="#484ea2"/>
<rect x="726.8" y="963.4" width="27.5" height="2.33" fill="#8a8ac6"/>
<rect x="726.8" y="965.5" width="27.5" height="2.33" fill="#8484c0"/>
<rect x="726.8" y="967.6" width="27.5" height="2.33" fill="#9090c6"/>
<rect x="726.8" y="969.7" width="27.5" height="2.33" fill="#3048a2"/>
<rect x="726.8" y="971.8" width="27.5" height="2.33" fill="#9c9ccc"/>
<rect x="726.8" y="973.9" width="27.5" height="2.33" fill="#8484c0"/>
<rect x="726.8" y="975.9" width="27.5" height="2.33" fill="#9690c6"/>
<rect x="726.8" y="978.0" width="27.5" height="2.33" fill="#484ea2"/>
<rect x="726.8" y="980.1" width="27.5" height="2.33" fill="#6666b4"/>
<rect x="726.8" y="982.2" width="27.5" height="2.33" fill="#6c6cb4"/>
<rect x="726.8" y="984.3" width="27.5" height="2.33" fill="#9c9ccc"/>
<rect x="726.8" y="986.4" width="27.5" height="2.33" fill="#6c6cb4"/>
<rect x="726.8" y="988.4" width="27.5" height="2.33" fill="#5454a8"/>
<rect x="726.8" y="990.5" width="27.5" height="2.33" fill="#ffffff"/>
<rect x="726.8" y="992.6" width="27.5" height="2.33" fill="#8a8ac6"/>
<rect x="726.8" y="994.7" width="27.5" height="2.33" fill="#4e54a2"/>
<rect x="726.8" y="996.8" width="27.5" height="2.33" fill="#a2a2cc"/>
<rect x="726.8" y="998.9" width="27.5" height="2.33" fill="#3c4ea2"/>
<rect x="726.8" y="1001.0" width="27.5" height="2.33" fill="#3048a2"/>
<rect x="726.8" y="1003.0" width="27.5" height="2.33" fill="#ffffff"/>
<rect x="726.8" y="1005.1" width="27.5" height="2.33" fill="#3048a2"/>
<rect x="726.8" y="1007.2" width="27.5" height="2.33" fill="#ffffff"/>
<rect x="726.8" y="1009.3" width="27.5" height="4.42" fill="#8a8ac0"/>
<rect x="726.8" y="1013.5" width="27.5" height="2.33" fill="#6c6cb4"/>
<rect x="726.8" y="1015.5" width="27.5" height="2.33" fill="#9696cc"/>
<rect x="726.8" y="1017.6" width="27.5" height="2.33" fill="#3048a2"/>
<rect x="726.8" y="1019.7" width="27.5" height="2.33" fill="#7878ba"/>
<rect x="726.8" y="1021.8" width="27.5" height="2.33" fill="#3c4ea2"/>
<rect x="726.8" y="1023.9" width="27.5" height="2.33" fill="#ffffff"/>
<rect x="726.8" y="1026.0" width="27.5" height="2.33" fill="#424ea2"/>
<rect x="726.8" y="1028.0" width="27.5" height="2.33" fill="#3048a2"/>
<rect x="726.8" y="1030.1" width="27.5" height="2.33" fill="#4854a2"/>
<rect x="726.8" y="1032.2" width="27.5" height="2.33" fill="#4e54a8"/>
<rect x="726.8" y="1034.3" width="27.5" height="2.33" fill="#ffffff"/>
<rect x="726.8" y="1036.4" width="27.5" height="4.42" fill="#545aa8"/>
<rect x="726.8" y="1040.6" width="27.5" height="2.33" fill="#9c9ccc"/>
<rect x="726.8" y="1042.6" width="27.5" height="2.33" fill="#6060ae"/>
<rect x="726.8" y="1044.7" width="27.5" height="2.33" fill="#8a8ac0"/>
<rect x="726.8" y="1046.8" width="27.5" height="2.33" fill="#6066ae"/>
<rect x="726.8" y="1048.9" width="27.5" height="2.33" fill="#9c9ccc"/>
<rect x="726.8" y="1051.0" width="27.5" height="2.33" fill="#4e54a2"/>
<rect x="726.8" y="1053.1" width="27.5" height="2.33" fill="#3048a2"/>
<rect x="726.8" y="1055.1" width="27.5" height="2.33" fill="#7878ba"/>
<rect x="726.8" y="1057.2" width="27.5" height="2.33" fill="#484ea2"/>
<rect x="726.8" y="1059.3" width="27.5" height="2.33" fill="#3048a2"/>
<rect x="726.8" y="1061.4" width="27.5" height="2.33" fill="#ffffff"/>
<rect x="726.8" y="1063.5" width="27.5" height="2.33" fill="#9090c6"/>
<rect x="726.8" y="1065.6" width="27.5" height="2.33" fill="#7272ba"/>
<rect x="726.8" y="1067.7" width="27.5" height="4.42" fill="#2a48a2"/>
<rect x="726.8" y="1071.8" width="27.5" height="2.33" fill="#9c9ccc"/>
<rect x="726.8" y="1073.9" width="27.5" height="2.33" fill="#7272ba"/>
<rect x="726.8" y="1076.0" width="27.5" height="2.33" fill="#484ea2"/>
<rect x="726.8" y="1078.1" width="27.5" height="2.33" fill="#ffffff"/>
<rect x="726.8" y="1080.2" width="27.5" height="2.33" fill="#7e7ec0"/>
<rect x="726.8" y="1082.2" width="27.5" height="2.33" fill="#545aa8"/>
<rect x="726.8" y="1084.3" width="27.5" height="2.33" fill="#a2a2cc"/>
<rect x="726.8" y="1086.4" width="27.5" height="2.33" fill="#545aa8"/>
<rect x="726.8" y="1088.5" width="27.5" height="2.33" fill="#3648a2"/>
<rect x="726.8" y="1090.6" width="27.5" height="2.33" fill="#6666b4"/>
<rect x="726.8" y="1092.7" width="27.5" height="2.33" fill="#ffffff"/>
<rect x="726.8" y="1094.7" width="27.5" height="2.33" fill="#424ea2"/>
<rect x="726.8" y="1096.8" width="27.5" height="2.33" fill="#5454a8"/>
<rect x="726.8" y="1098.9" width="27.5" height="2.33" fill="#7e7ec0"/>
<rect x="726.8" y="1101.0" width="27.5" height="2.33" fill="#6060ae"/>
<rect x="726.8" y="1103.1" width="27.5" height="2.33" fill="#7878ba"/>
<rect x="726.8" y="1105.2" width="27.5" height="2.33" fill="#7272ba"/>
<rect x="726.8" y="1107.3" width="27.5" height="2.33" fill="#8484c0"/>
<rect x="726.8" y="1109.3" width="27.5" height="2.33" fill="#9090c6"/>
<rect x="726.8" y="1111.4" width="27.5" height="2.33" fill="#9696cc"/>
<rect x="726.8" y="1113.5" width="27.5" height="4.42" fill="#ffffff"/>
<rect x="726.8" y="1117.7" width="27.5" height="2.33" fill="#4e54a2"/>
<rect x="726.8" y="1119.8" width="27.5" height="2.33" fill="#8484c0"/>
<rect x="726.8" y="1121.8" width="27.5" height="2.33" fill="#364ea2"/>
<rect x="726.8" y="1123.9" width="27.5" height="2.33" fill="#6c6cb4"/>
<rect x="726.8" y="1126.0" width="27.5" height="2.33" fill="#7878ba"/>
<rect x="726.8" y="1128.1" width="27.5" height="2.33" fill="#3048a2"/>
<rect x="726.8" y="1130.2" width="27.5" height="2.33" fill="#5454a8"/>
<rect x="726.8" y="1132.3" width="27.5" height="2.33" fill="#8a8ac0"/>
<rect x="726.8" y="1134.3" width="27.5" height="2.33" fill="#5a5aa8"/>
<rect x="726.8" y="1136.4" width="27.5" height="2.33" fill="#ffffff"/>
<rect x="726.8" y="1138.5" width="27.5" height="2.33" fill="#4e54a8"/>
<rect x="726.8" y="1140.6" width="27.5" height="2.33" fill="#5454a8"/>
<rect x="726.8" y="1142.7" width="27.5" height="2.33" fill="#3c4ea2"/>
<rect x="726.8" y="1144.8" width="27.5" height="2.33" fill="#ffffff"/>
<rect x="726.8" y="1146.9" width="27.5" height="2.33" fill="#364ea2"/>
<rect x="726.8" y="1148.9" width="27.5" height="2.33" fill="#7e7ec0"/>
<rect x="726.8" y="1151.0" width="27.5" height="2.33" fill="#545aa8"/>
<rect x="726.8" y="1153.1" width="27.5" height="2.33" fill="#3c4ea2"/>
<rect x="726.8" y="1155.2" width="27.5" height="2.33" fill="#8484c0"/>
<rect x="726.8" y="1157.3" width="27.5" height="2.33" fill="#484ea2"/>
<rect x="726.8" y="1159.4" width="27.5" height="2.33" fill="#9c96cc"/>
<rect x="726.8" y="1161.4" width="27.5" height="2.33" fill="#3048a2"/>
<rect x="726.8" y="1163.5" width="27.5" height="2.33" fill="#4e54a8"/>
<rect x="726.8" y="1165.6" width="27.5" height="2.33" fill="#8484c0"/>
<rect x="726.8" y="1167.7" width="27.5" height="2.33" fill="#2a48a2"/>
<rect x="726.8" y="1169.8" width="27.5" height="2.33" fill="#5a5aa8"/>
<rect x="726.8" y="1171.9" width="27.5" height="2.33" fill="#9c96cc"/>
<rect x="726.8" y="1174.0" width="27.5" height="2.33" fill="#2a48a2"/>
<rect x="726.8" y="1176.0" width="27.5" height="2.33" fill="#3048a2"/>
<rect x="726.8" y="1178.1" width="27.5" height="2.33" fill="#ffffff"/>
<rect x="726.8" y="1180.2" width="27.5" height="2.33" fill="#6666b4"/>
<rect x="726.8" y="1182.3" width="27.5" height="2.33" fill="#ffffff"/>
<rect x="726.8" y="1184.4" width="27.5" height="2.33" fill="#a2a2cc"/>
<rect x="726.8" y="1186.5" width="27.5" height="2.33" fill="#fce4e4"/>
<rect x="726.8" y="1188.5" width="27.5" height="2.33" fill="#2a48a2"/>
<rect x="726.8" y="1190.6" width="27.5" height="2.33" fill="#6c6cb4"/>
<rect x="726.8" y="1192.7" width="27.5" height="2.33" fill="#9090c6"/>
<rect x="726.8" y="1194.8" width="27.5" height="4.42" fill="#3048a2"/>
<rect x="726.8" y="1199.0" width="27.5" height="2.33" fill="#364ea2"/>
<rect x="726.8" y="1201.0" width="27.5" height="2.33" fill="#6c6cb4"/>
<rect x="726.8" y="1203.1" width="27.5" height="2.33" fill="#364ea2"/>
<rect x="726.8" y="1205.2" width="27.5" height="2.33" fill="#6c6cb4"/>
<rect x="726.8" y="1207.3" width="27.5" height="2.33" fill="#ffffff"/>
<rect x="726.8" y="1209.4" width="27.5" height="2.33" fill="#8a8ac6"/>
<rect x="726.8" y="1211.5" width="27.5" height="2.33" fill="#7e7ec0"/>
<rect x="726.8" y="1213.6" width="27.5" height="2.33" fill="#3c4ea2"/>
<rect x="726.8" y="1215.6" width="27.5" height="2.33" fill="#6060ae"/>
<rect x="726.8" y="1217.7" width="27.5" height="2.33" fill="#3048a2"/>
<rect x="726.8" y="1219.8" width="27.5" height="2.33" fill="#ffffff"/>
<rect x="726.8" y="1221.9" width="27.5" height="2.33" fill="#6c6cb4"/>
<rect x="726.8" y="1224.0" width="27.5" height="2.33" fill="#3648a2"/>
<rect x="726.8" y="1226.1" width="27.5" height="2.33" fill="#7e7ec0"/>
<rect x="726.8" y="1228.1" width="27.5" height="4.42" fill="#3048a2"/>
<rect x="726.8" y="1232.3" width="27.5" height="2.33" fill="#7e7ec0"/>
<rect x="726.8" y="1234.4" width="27.5" height="2.33" fill="#8a8ac6"/>
<rect x="726.8" y="1236.5" width="27.5" height="2.33" fill="#f6d2d8"/>
<rect x="726.8" y="1238.6" width="27.5" height="2.33" fill="#484ea2"/>
<rect x="726.8" y="1240.7" width="27.5" height="2.33" fill="#6060ae"/>
<rect x="726.8" y="1242.7" width="27.5" height="2.33" fill="#fce4e4"/>
<rect x="726.8" y="1244.8" width="27.5" height="2.33" fill="#6666b4"/>
<rect x="726.8" y="1246.9" width="27.5" height="2.33" fill="#ffffff"/>
<rect x="726.8" y="1249.0" width="27.5" height="2.33" fill="#3048a2"/>
<rect x="726.8" y="1251.1" width="27.5" height="2.33" fill="#ffffff"/>
<rect x="726.8" y="1253.2" width="27.5" height="2.33" fill="#6060ae"/>
<rect x="726.8" y="1255.2" width="27.5" height="2.33" fill="#6066ae"/>
<rect x="726.8" y="1257.3" width="27.5" height="2.33" fill="#3648a2"/>
<rect x="726.8" y="1259.4" width="27.5" height="2.33" fill="#6c6cb4"/>
<rect x="726.8" y="1261.5" width="27.5" height="2.33" fill="#424ea2"/>
<rect x="726.8" y="1263.6" width="27.5" height="2.33" fill="#ffffff"/>
<rect x="726.8" y="1265.7" width="27.5" height="2.33" fill="#9090c6"/>
<rect x="726.8" y="1267.8" width="27.5" height="2.33" fill="#ffffff"/>
<rect x="726.8" y="1269.8" width="27.5" height="2.33" fill="#9c9ccc"/>
<rect x="726.8" y="1271.9" width="27.5" height="2.33" fill="#ffffff"/>
<rect x="726.8" y="1274.0" width="27.5" height="2.33" fill="#8a8ac6"/>
<rect x="726.8" y="1276.1" width="27.5" height="2.33" fill="#364ea2"/>
<rect x="726.8" y="1278.2" width="27.5" height="2.33" fill="#7878ba"/>
<rect x="726.8" y="1280.3" width="27.5" height="2.33" fill="#3c4ea2"/>
<rect x="726.8" y="1282.3" width="27.5" height="2.33" fill="#9090c6"/>
<rect x="726.8" y="1284.4" width="27.5" height="2.33" fill="#484ea2"/>
<rect x="726.8" y="1286.5" width="27.5" height="2.33" fill="#7878ba"/>
<rect x="726.8" y="1288.6" width="27.5" height="2.33" fill="#ffffff"/>
<rect x="726.8" y="1290.7" width="27.5" height="2.33" fill="#3048a2"/>
<rect x="726.8" y="1292.8" width="27.5" height="2.33" fill="#ffffff"/>
<rect x="726.8" y="1294.8" width="27.5" height="2.33" fill="#6c6cb4"/>
<rect x="726.8" y="1296.9" width="27.5" height="2.33" fill="#f0aeae"/>
<rect x="726.8" y="1299.0" width="27.5" height="2.33" fill="#7272ba"/>
<rect x="726.8" y="1301.1" width="27.5" height="2.33" fill="#3c4ea2"/>
<rect x="726.8" y="1303.2" width="27.5" height="2.33" fill="#7e7ec0"/>
<rect x="726.8" y="1305.3" width="27.5" height="2.33" fill="#5a60ae"/>
<rect x="726.8" y="1307.4" width="27.5" height="2.33" fill="#9696cc"/>
<rect x="726.8" y="1309.4" width="27.5" height="2.33" fill="#f6d2d2"/>
<rect x="726.8" y="1311.5" width="27.5" height="2.33" fill="#f0b4b4"/>
<rect x="726.8" y="1313.6" width="27.5" height="2.33" fill="#f6bac0"/>
<rect x="726.8" y="1315.7" width="27.5" height="2.33" fill="#ffffff"/>
<rect x="726.8" y="1317.8" width="27.5" height="2.33" fill="#7e7ec0"/>
<rect x="726.8" y="1319.9" width="27.5" height="2.33" fill="#7878ba"/>
<rect x="726.8" y="1321.9" width="27.5" height="2.33" fill="#f0b4b4"/>
<rect x="726.8" y="1324.0" width="27.5" height="2.33" fill="#5454a8"/>
<rect x="726.8" y="1326.1" width="27.5" height="2.33" fill="#ffffff"/>
<rect x="726.8" y="1328.2" width="27.5" height="2.33" fill="#f0b4b4"/>
<rect x="726.8" y="1330.3" width="27.5" height="4.42" fill="#ffffff"/>
<rect x="726.8" y="1334.5" width="27.5" height="2.33" fill="#7272ba"/>
<rect x="726.8" y="1336.5" width="27.5" height="2.33" fill="#424ea2"/>
<rect x="726.8" y="1338.6" width="27.5" height="2.33" fill="#a29ccc"/>
<rect x="726.8" y="1340.7" width="27.5" height="2.33" fill="#2a48a2"/>
<rect x="726.8" y="1342.8" width="27.5" height="2.33" fill="#424ea2"/>
<rect x="726.8" y="1344.9" width="27.5" height="2.33" fill="#364ea2"/>
<rect x="726.8" y="1347.0" width="27.5" height="2.33" fill="#ffffff"/>
<rect x="726.8" y="1349.0" width="27.5" height="2.33" fill="#3048a2"/>
<rect x="726.8" y="1351.1" width="27.5" height="2.33" fill="#ffffff"/>
<rect x="726.8" y="1353.2" width="27.5" height="2.33" fill="#8484c0"/>
<rect x="726.8" y="1355.3" width="27.5" height="2.33" fill="#ffffff"/>
<rect x="726.8" y="1357.4" width="27.5" height="2.33" fill="#7e7ec0"/>
<rect x="726.8" y="1359.5" width="27.5" height="2.33" fill="#f0aeae"/>
<rect x="726.8" y="1361.5" width="27.5" height="2.33" fill="#f6d8d8"/>
<rect x="726.8" y="1363.6" width="27.5" height="2.33" fill="#ffffff"/>
<rect x="726.8" y="1365.7" width="27.5" height="2.33" fill="#545aa8"/>
<rect x="726.8" y="1367.8" width="27.5" height="2.33" fill="#f0a8a8"/>
<rect x="726.8" y="1369.9" width="27.5" height="2.33" fill="#f09696"/>
<rect x="726.8" y="1372.0" width="27.5" height="2.33" fill="#ffffff"/>
<rect x="726.8" y="1374.1" width="27.5" height="2.33" fill="#f6d8d8"/>
<rect x="726.8" y="1376.1" width="27.5" height="2.33" fill="#ffffff"/>
<rect x="726.8" y="1378.2" width="27.5" height="2.33" fill="#f09c9c"/>
<rect x="726.8" y="1380.3" width="27.5" height="2.33" fill="#9690c6"/>
<rect x="726.8" y="1382.4" width="27.5" height="2.33" fill="#fce4e4"/>
<rect x="726.8" y="1384.5" width="27.5" height="2.33" fill="#2a48a2"/>
<rect x="726.8" y="1386.6" width="27.5" height="2.33" fill="#f09090"/>
<rect x="726.8" y="1388.6" width="27.5" height="2.33" fill="#7272b4"/>
<rect x="726.8" y="1390.7" width="27.5" height="2.33" fill="#7e7ec0"/>
<rect x="726.8" y="1392.8" width="27.5" height="2.33" fill="#6c6cb4"/>
<rect x="726.8" y="1394.9" width="27.5" height="2.33" fill="#7e7ec0"/>
<rect x="726.8" y="1397.0" width="27.5" height="2.33" fill="#f6dede"/>
<rect x="726.8" y="1399.1" width="27.5" height="2.33" fill="#ffffff"/>
<rect x="726.8" y="1401.2" width="27.5" height="2.33" fill="#3c4ea2"/>
<rect x="726.8" y="1403.2" width="27.5" height="2.33" fill="#ffffff"/>
<rect x="726.8" y="1405.3" width="27.5" height="2.33" fill="#424ea2"/>
<rect x="726.8" y="1407.4" width="27.5" height="2.33" fill="#f0baba"/>
<rect x="726.8" y="1409.5" width="27.5" height="4.42" fill="#ffffff"/>
<rect x="726.8" y="1413.7" width="27.5" height="4.42" fill="#3648a2"/>
<rect x="726.8" y="1417.8" width="27.5" height="2.33" fill="#424ea2"/>
<rect x="726.8" y="1419.9" width="27.5" height="2.33" fill="#2a48a2"/>
<rect x="726.8" y="1422.0" width="27.5" height="2.33" fill="#484ea2"/>
<rect x="726.8" y="1424.1" width="27.5" height="2.33" fill="#424ea2"/>
<rect x="726.8" y="1426.2" width="27.5" height="2.33" fill="#3048a2"/>
<rect x="726.8" y="1428.2" width="27.5" height="2.33" fill="#8484c0"/>
<rect x="726.8" y="1430.3" width="27.5" height="2.33" fill="#7878ba"/>
<rect x="726.8" y="1432.4" width="27.5" height="2.33" fill="#8a8ac0"/>
<rect x="726.8" y="1434.5" width="27.5" height="2.33" fill="#f08a8a"/>
<rect x="726.8" y="1436.6" width="27.5" height="2.33" fill="#2a48a2"/>
<rect x="726.8" y="1438.7" width="27.5" height="2.33" fill="#f09090"/>
<rect x="726.8" y="1440.8" width="27.5" height="2.33" fill="#3048a2"/>
<rect x="726.8" y="1442.8" width="27.5" height="2.33" fill="#ffffff"/>
<rect x="726.8" y="1444.9" width="27.5" height="2.33" fill="#8484c0"/>
<rect x="726.8" y="1447.0" width="27.5" height="2.33" fill="#f6c0c0"/>
<rect x="726.8" y="1449.1" width="27.5" height="2.33" fill="#7878ba"/>
<rect x="726.8" y="1451.2" width="27.5" height="2.33" fill="#f6c0c0"/>
<rect x="726.8" y="1453.3" width="27.5" height="4.42" fill="#3c4ea2"/>
<rect x="726.8" y="1457.4" width="27.5" height="2.33" fill="#424ea2"/>
<rect x="726.8" y="1459.5" width="27.5" height="2.33" fill="#7878ba"/>
<rect x="726.8" y="1461.6" width="27.5" height="2.33" fill="#ffffff"/>
<rect x="726.8" y="1463.7" width="27.5" height="2.33" fill="#3048a2"/>
<rect x="726.8" y="1465.8" width="27.5" height="2.33" fill="#f6d8d8"/>
<rect x="726.8" y="1467.8" width="27.5" height="2.33" fill="#5a5aa8"/>
<rect x="726.8" y="1469.9" width="27.5" height="2.33" fill="#f6c6c6"/>
<rect x="726.8" y="1472.0" width="27.5" height="2.33" fill="#9090c6"/>
<rect x="726.8" y="1474.1" width="27.5" height="2.33" fill="#ea7878"/>
<rect x="726.8" y="1476.2" width="27.5" height="2.33" fill="#5454a8"/>
<rect x="726.8" y="1478.3" width="27.5" height="2.33" fill="#ffffff"/>
<rect x="726.8" y="1480.4" width="27.5" height="2.33" fill="#6066ae"/>
<rect x="726.8" y="1482.4" width="27.5" height="2.33" fill="#f0a8ae"/>
<rect x="726.8" y="1484.5" width="27.5" height="2.33" fill="#ea7272"/>
<rect x="726.8" y="1486.6" width="27.5" height="2.33" fill="#ffffff"/>
<rect x="726.8" y="1488.7" width="27.5" height="2.33" fill="#424ea2"/>
<rect x="726.8" y="1490.8" width="27.5" height="2.33" fill="#ffffff"/>
<rect x="726.8" y="1492.9" width="27.5" height="2.33" fill="#424ea2"/>
<rect x="726.8" y="1494.9" width="27.5" height="2.33" fill="#364ea2"/>
<rect x="726.8" y="1497.0" width="27.5" height="2.33" fill="#f09696"/>
<rect x="726.8" y="1499.1" width="27.5" height="2.33" fill="#f0b4b4"/>
<rect x="726.8" y="1501.2" width="27.5" height="4.42" fill="#ffffff"/>
<rect x="726.8" y="1505.4" width="27.5" height="2.33" fill="#5454a8"/>
<rect x="726.8" y="1507.5" width="27.5" height="2.33" fill="#ffffff"/>
<rect x="726.8" y="1509.5" width="27.5" height="2.33" fill="#f09c9c"/>
<rect x="726.8" y="1511.6" width="27.5" height="2.33" fill="#3c4ea2"/>
<rect x="726.8" y="1513.7" width="27.5" height="2.33" fill="#3048a2"/>
<rect x="726.8" y="1515.8" width="27.5" height="2.33" fill="#6666b4"/>
<rect x="726.8" y="1517.9" width="27.5" height="2.33" fill="#f0a8a8"/>
<rect x="726.8" y="1520.0" width="27.5" height="4.42" fill="#ffffff"/>
<rect x="726.8" y="1524.1" width="27.5" height="2.33" fill="#ea7e7e"/>
<rect x="726.8" y="1526.2" width="27.5" height="2.33" fill="#ffffff"/>
<rect x="726.8" y="1528.3" width="27.5" height="2.33" fill="#5454a8"/>
<rect x="726.8" y="1530.4" width="27.5" height="2.33" fill="#484ea2"/>
<rect x="726.8" y="1532.5" width="27.5" height="6.50" fill="#ffffff"/>
<rect x="726.8" y="1538.7" width="27.5" height="2.33" fill="#f6c0c0"/>
<rect x="726.8" y="1540.8" width="27.5" height="2.33" fill="#6060ae"/>
<rect x="726.8" y="1542.9" width="27.5" height="2.33" fill="#3c4ea2"/>
<rect x="726.8" y="1545.0" width="27.5" height="2.33" fill="#f6c0c6"/>
<rect x="726.8" y="1547.1" width="27.5" height="2.33" fill="#ffffff"/>
<rect x="726.8" y="1549.1" width="27.5" height="2.33" fill="#9c9ccc"/>
<rect x="726.8" y="1551.2" width="27.5" height="2.33" fill="#ffffff"/>
<rect x="726.8" y="1553.3" width="27.5" height="2.33" fill="#4e54a8"/>
<rect x="726.8" y="1555.4" width="27.5" height="2.33" fill="#ffffff"/>
<rect x="726.8" y="1557.5" width="27.5" height="2.33" fill="#7878ba"/>
<rect x="726.8" y="1559.6" width="27.5" height="2.33" fill="#ea6c6c"/>
<rect x="726.8" y="1561.6" width="27.5" height="2.33" fill="#f09696"/>
<rect x="726.8" y="1563.7" width="27.5" height="2.33" fill="#484ea2"/>
<rect x="726.8" y="1565.8" width="27.5" height="2.33" fill="#8484c0"/>
<rect x="726.8" y="1567.9" width="27.5" height="2.33" fill="#ea7e7e"/>
<rect x="726.8" y="1570.0" width="27.5" height="2.33" fill="#484ea2"/>
<rect x="726.8" y="1572.1" width="27.5" height="2.33" fill="#f0a2a2"/>
<rect x="726.8" y="1574.2" width="27.5" height="2.33" fill="#ffffff"/>
<rect x="726.8" y="1576.2" width="27.5" height="2.33" fill="#424ea2"/>
<rect x="726.8" y="1578.3" width="27.5" height="2.33" fill="#484ea2"/>
<rect x="726.8" y="1580.4" width="27.5" height="2.33" fill="#f6cccc"/>
<rect x="726.8" y="1582.5" width="27.5" height="2.33" fill="#f0b4b4"/>
<rect x="726.8" y="1584.6" width="27.5" height="2.33" fill="#3c4ea2"/>
<rect x="726.8" y="1586.7" width="27.5" height="2.33" fill="#f6c0c0"/>
<rect x="726.8" y="1588.7" width="27.5" height="2.33" fill="#9090c6"/>
<rect x="726.8" y="1590.8" width="27.5" height="2.33" fill="#ffffff"/>
<rect x="726.8" y="1592.9" width="27.5" height="2.33" fill="#f6cccc"/>
<rect x="726.8" y="1595.0" width="27.5" height="2.33" fill="#f0a8a8"/>
<rect x="726.8" y="1597.1" width="27.5" height="2.33" fill="#ffffff"/>
<rect x="726.8" y="1599.2" width="27.5" height="2.33" fill="#8a8ac0"/>
<rect x="726.8" y="1601.2" width="27.5" height="2.33" fill="#f09c9c"/>
<rect x="726.8" y="1603.3" width="27.5" height="2.33" fill="#ffffff"/>
<rect x="726.8" y="1605.4" width="27.5" height="2.33" fill="#fce4e4"/>
<rect x="726.8" y="1607.5" width="27.5" height="2.33" fill="#8a8ac6"/>
<rect x="726.8" y="1609.6" width="27.5" height="2.33" fill="#ffffff"/>
<rect x="726.8" y="1611.7" width="27.5" height="4.42" fill="#7272ba"/>
<rect x="726.8" y="1615.8" width="27.5" height="2.33" fill="#3c4ea2"/>
<rect x="726.8" y="1617.9" width="27.5" height="2.33" fill="#ea6c6c"/>
<rect x="726.8" y="1620.0" width="27.5" height="2.33" fill="#484ea2"/>
<rect x="726.8" y="1622.1" width="27.5" height="2.33" fill="#ffffff"/>
<rect x="726.8" y="1624.2" width="27.5" height="2.33" fill="#3c4ea2"/>
<rect x="726.8" y="1626.3" width="27.5" height="2.33" fill="#f0aeae"/>
<rect x="726.8" y="1628.3" width="27.5" height="2.33" fill="#ffffff"/>
<rect x="726.8" y="1630.4" width="27.5" height="2.33" fill="#f0a8a8"/>
<rect x="726.8" y="1632.5" width="27.5" height="2.33" fill="#3c4ea2"/>
<rect x="726.8" y="1634.6" width="27.5" height="2.33" fill="#484ea2"/>
<rect x="726.8" y="1636.7" width="27.5" height="2.33" fill="#2a48a2"/>
<rect x="726.8" y="1638.8" width="27.5" height="2.33" fill="#f08a8a"/>
<rect x="726.8" y="1640.9" width="27.5" height="2.33" fill="#f6ccd2"/>
<rect x="726.8" y="1642.9" width="27.5" height="2.33" fill="#ea7e7e"/>
<rect x="726.8" y="1645.0" width="27.5" height="2.33" fill="#f6cccc"/>
<rect x="726.8" y="1647.1" width="27.5" height="2.33" fill="#3048a2"/>
<rect x="726.8" y="1649.2" width="27.5" height="2.33" fill="#f6d8d8"/>
<rect x="726.8" y="1651.3" width="27.5" height="2.33" fill="#5a5aa8"/>
<rect x="726.8" y="1653.4" width="27.5" height="2.33" fill="#f6c0c6"/>
<rect x="726.8" y="1655.4" width="27.5" height="2.33" fill="#ea7878"/>
<rect x="726.8" y="1657.5" width="27.5" height="4.42" fill="#7878ba"/>
<rect x="726.8" y="1661.7" width="27.5" height="2.33" fill="#ffffff"/>
<rect x="726.8" y="1663.8" width="27.5" height="2.33" fill="#5a60ae"/>
<rect x="726.8" y="1665.9" width="27.5" height="2.33" fill="#5454a8"/>
<rect x="726.8" y="1668.0" width="27.5" height="2.33" fill="#ffffff"/>
<rect x="726.8" y="1670.0" width="27.5" height="2.33" fill="#3c4ea2"/>
<rect x="726.8" y="1672.1" width="27.5" height="2.33" fill="#484ea2"/>
<rect x="726.8" y="1674.2" width="27.5" height="2.33" fill="#ffffff"/>
<rect x="726.8" y="1676.3" width="27.5" height="2.33" fill="#f09090"/>
<rect x="726.8" y="1678.4" width="27.5" height="2.33" fill="#fcdede"/>
<rect x="726.8" y="1680.5" width="27.5" height="2.33" fill="#ffffff"/>
<rect x="726.8" y="1682.5" width="27.5" height="2.33" fill="#3048a2"/>
<rect x="726.8" y="1684.6" width="27.5" height="2.33" fill="#484ea2"/>
<rect x="726.8" y="1686.7" width="27.5" height="2.33" fill="#f6d8d8"/>
<rect x="726.8" y="1688.8" width="27.5" height="2.33" fill="#ffffff"/>
<rect x="726.8" y="1690.9" width="27.5" height="2.33" fill="#3c4ea2"/>
<rect x="726.8" y="1693.0" width="27.5" height="2.33" fill="#f08484"/>
<rect x="726.8" y="1695.0" width="27.5" height="2.33" fill="#f08a8a"/>
<rect x="726.8" y="1697.1" width="27.5" height="2.33" fill="#ffffff"/>
<rect x="726.8" y="1699.2" width="27.5" height="2.33" fill="#6c6cb4"/>
<rect x="726.8" y="1701.3" width="27.5" height="2.33" fill="#ffffff"/>
<rect x="726.8" y="1703.4" width="27.5" height="2.33" fill="#7878ba"/>
<rect x="726.8" y="1705.5" width="27.5" height="2.33" fill="#ffffff"/>
<rect x="726.8" y="1707.6" width="27.5" height="2.33" fill="#f09c9c"/>
<rect x="726.8" y="1709.6" width="27.5" height="2.33" fill="#9c9ccc"/>
<rect x="726.8" y="1711.7" width="27.5" height="2.33" fill="#f0a8a8"/>
<rect x="726.8" y="1713.8" width="27.5" height="4.42" fill="#ffffff"/>
<rect x="726.8" y="1718.0" width="27.5" height="2.33" fill="#ea7872"/>
<rect x="726.8" y="1720.1" width="27.5" height="2.33" fill="#ffffff"/>
<rect x="726.8" y="1722.1" width="27.5" height="2.33" fill="#ea6c6c"/>
<rect x="726.8" y="1724.2" width="27.5" height="4.42" fill="#ffffff"/>
<rect x="726.8" y="1728.4" width="27.5" height="2.33" fill="#424ea2"/>
<rect x="726.8" y="1730.5" width="27.5" height="2.33" fill="#f0a2a2"/>
<rect x="726.8" y="1732.6" width="27.5" height="2.33" fill="#f6c6c6"/>
<rect x="726.8" y="1734.7" width="27.5" height="2.33" fill="#364ea2"/>
<rect x="726.8" y="1736.7" width="27.5" height="2.33" fill="#4e54a2"/>
<rect x="726.8" y="1738.8" width="27.5" height="2.33" fill="#ffffff"/>
<rect x="726.8" y="1740.9" width="27.5" height="2.33" fill="#ea6060"/>
<rect x="726.8" y="1743.0" width="27.5" height="2.33" fill="#f0a2a2"/>
<rect x="726.8" y="1745.1" width="27.5" height="2.33" fill="#f08a8a"/>
<rect x="726.8" y="1747.2" width="27.5" height="2.33" fill="#f09696"/>
<rect x="726.8" y="1749.2" width="27.5" height="2.33" fill="#f08484"/>
<rect x="726.8" y="1751.3" width="27.5" height="2.33" fill="#f09696"/>
<rect x="726.8" y="1753.4" width="27.5" height="2.33" fill="#3c4ea2"/>
<rect x="726.8" y="1755.5" width="27.5" height="2.33" fill="#ffffff"/>
<rect x="726.8" y="1757.6" width="27.5" height="2.33" fill="#ea726c"/>
<rect x="726.8" y="1759.7" width="27.5" height="2.33" fill="#f0aeae"/>
<rect x="726.8" y="1761.7" width="27.5" height="2.33" fill="#ffffff"/>
<rect x="726.8" y="1763.8" width="27.5" height="2.33" fill="#2a48a2"/>
<rect x="726.8" y="1765.9" width="27.5" height="2.33" fill="#f6dede"/>
<rect x="753.9" y="923.5" width="27.2" height="2" fill="#8ea0d0"/>
<rect x="753.9" y="1187" width="27.2" height="2" fill="#7b92cc"/>
<rect x="753.9" y="1411" width="27.2" height="2" fill="#c8d4ee"/>
<rect x="753.9" y="1460" width="27.2" height="2" fill="#8ea0d0"/>
<rect x="753.9" y="1466" width="27.2" height="2" fill="#8ea0d0"/>
<rect x="753.9" y="1473" width="27.2" height="2" fill="#a8b8e0"/>
<rect x="753.9" y="1523" width="27.2" height="2" fill="#7b92cc"/>
<rect x="753.9" y="1545" width="54.4" height="2" fill="#6c86c8"/>
<rect x="753.9" y="1551.5" width="27.2" height="2" fill="#7b92cc"/>
<rect x="753.9" y="1569" width="54.4" height="2" fill="#5f7cc2"/>
<rect x="753.9" y="1576" width="27.2" height="2" fill="#8ea0d0"/>
<rect x="753.9" y="1618" width="81.5" height="2" fill="#e8eefa"/>
<rect x="753.9" y="1677.5" width="81.5" height="2" fill="#d0daf2"/>
<rect x="753.9" y="1745" width="54.4" height="2" fill="#a8b8e0"/>
<rect x="753.9" y="1756" width="27.2" height="2" fill="#7b92cc"/>
<rect x="753.9" y="1246" width="54.4" height="2" fill="#7b92cc"/>
<path d="M835.5 992.4h27.2M835.5 1635h27.2M835.5 977.3h27.2M835.5 1682.4h27.2M835.5 1256.3h27.2M835.5 1378.4h27.2M835.5 1531.1h27.2M835.5 1286h27.2M835.5 1066.5h27.2M835.5 958.4h27.2M835.5 852.5h27.2M835.5 1503.9h27.2M835.5 1209.6h27.2M835.5 929.3h27.2M835.5 1644.1h27.2M835.5 1044h27.2M835.5 1182.8h27.2M835.5 1065.8h27.2M835.5 1395.3h27.2M835.5 1346.8h27.2M835.5 1366.7h27.2M835.5 1035.8h27.2M835.5 1054.5h27.2M835.5 1023.7h27.2M835.5 1097h27.2M835.5 915.3h27.2M835.5 936.5h27.2M835.5 1727.3h27.2M835.5 1723.6h27.2M835.5 959.1h27.2M835.5 796.6h27.2M835.5 975.1h27.2M835.5 1465.7h27.2M835.5 1544.6h27.2M835.5 795.2h27.2M835.5 1344.7h27.2M835.5 774.1h27.2M835.5 1283.1h27.2M835.5 1406.2h27.2M835.5 1748.8h27.2M835.5 1029.1h27.2M835.5 1567.4h27.2M835.5 1634.7h27.2M835.5 1686.5h27.2M835.5 774.7h27.2M835.5 1237.5h27.2M835.5 1744.6h27.2M835.5 1167.7h27.2M835.5 1578.5h27.2M835.5 1313.8h27.2M835.5 1536h27.2M835.5 1252.8h27.2M835.5 801.3h27.2M835.5 858.2h27.2M835.5 882.9h27.2M835.5 1021.4h27.2M835.5 1728.2h27.2M835.5 1398.3h27.2M835.5 1581.4h27.2M835.5 1333.2h27.2M835.5 1401.8h27.2M835.5 1576.7h27.2M835.5 1690.4h27.2M835.5 1676.5h27.2M835.5 1589.5h27.2M835.5 865.8h27.2M835.5 1130.1h27.2M835.5 807.7h27.2M835.5 1313.7h27.2M835.5 1561.1h27.2M835.5 823.2h27.2M835.5 959.4h27.2M835.5 1134.5h27.2M835.5 1014.5h27.2M835.5 1560h27.2M835.5 1121.3h27.2M835.5 1405.3h27.2M835.5 1261.2h27.2M835.5 1350.5h27.2M835.5 1702.9h27.2M835.5 1707.1h27.2M835.5 883.1h27.2M835.5 1608h27.2M835.5 1115.2h27.2M835.5 872.4h27.2M835.5 1152.3h27.2M835.5 1278h27.2M835.5 1724.5h27.2M835.5 1140.5h27.2M835.5 784.8h27.2M835.5 1624h27.2M835.5 882.6h27.2M835.5 1246.3h27.2M835.5 1614.4h27.2M835.5 1282.3h27.2M835.5 1214.9h27.2M835.5 1565.4h27.2M835.5 792.7h27.2M835.5 1339.7h27.2M835.5 1180h27.2M835.5 1748.3h27.2M835.5 1566.3h27.2M835.5 825.9h27.2M835.5 961.2h27.2M835.5 1220.6h27.2M835.5 1468.8h27.2M835.5 1101.4h27.2M835.5 1129.1h27.2M835.5 1685.2h27.2M835.5 1717.1h27.2" stroke="#4a5cb0" stroke-width="1.6" fill="none"/>
<path d="M672.4 478.2H971.4 M672.4 610H971.4" stroke="#666" stroke-width="1.5" fill="none"/>
<path d="M672.4 1771V374.3H971.4V1771" stroke="#2a2a2a" stroke-width="1.3" fill="none"/>
<path d="M672.4 1771H971.4V1777" stroke="#555" stroke-width="1.3" fill="none"/>
<text x="682.5" y="426.6" font-family='"Liberation Sans", sans-serif' font-size="31" font-weight="normal" fill="#111" text-anchor="start" >III</text>
<text x="707.2" y="535.6" font-family='"Liberation Sans", sans-serif' font-size="30.5" font-weight="normal" fill="#1a1a1a" text-anchor="start"  textLength="236" lengthAdjust="spacingAndGlyphs">DNA methylation</text>
<text x="707.2" y="575.5" font-family='"Liberation Sans", sans-serif' font-size="30.5" font-weight="normal" fill="#808080" text-anchor="start"  textLength="101.5" lengthAdjust="spacingAndGlyphs">NLRC5</text>
<text x="691.5" y="646.6" font-family='"DejaVu Sans", "Liberation Sans", sans-serif' font-size="20.5" font-weight="normal" fill="#222" text-anchor="start" >5'</text>
<text x="936" y="646.6" font-family='"DejaVu Sans", "Liberation Sans", sans-serif' font-size="20.5" font-weight="normal" fill="#222" text-anchor="start" >3'</text>
<path d="M809.5 642.7H837.4M809.5 636V649M837.4 636V649" stroke="#222" stroke-width="1.6" fill="none"/>
<text x="839" y="650" font-family='"DejaVu Sans", "Liberation Sans", sans-serif' font-size="20" font-weight="normal" fill="#333" text-anchor="start" >100bp</text>
<clipPath id="c3"><rect x="672.4" y="600" width="298" height="200"/></clipPath>
<text x="905" y="692" font-family='"DejaVu Sans", "Liberation Sans", sans-serif' font-size="20.5" font-weight="normal" fill="#6a6a6a" text-anchor="start" clip-path="url(#c3)">NLRC5</text>
<rect x="908.4" y="703.7" width="24" height="12.8" fill="#000"/>
<path d="M932 710.4H971.4" stroke="#000" stroke-width="2"/>
<path d="M951.8 706.8L955.8 710.4L951.8 714Z" stroke="#000" stroke-width="1" fill="#000"/>
<rect x="675.4" y="758.4" width="22.2" height="4.2" fill="#c8202e"/>
<path d="M672.6 729.5L686 758.5" stroke="#e0707a" stroke-width="1.1" fill="none"/>
<rect x="702.6" y="758.4" width="22.2" height="4.2" fill="#b7602c"/>
<path d="M810.3 729.5L713.2 758.5" stroke="#e0a080" stroke-width="1.1" fill="none"/>
<rect x="729.8" y="758.4" width="22.2" height="4.2" fill="#8c8a2c"/>
<path d="M853 729.5L740.4 758.5" stroke="#c8c870" stroke-width="1.1" fill="none"/>
<rect x="756.9" y="758.4" width="22.2" height="4.2" fill="#4d8f3a"/>
<path d="M865.3 729.5L767.5 758.5" stroke="#98c878" stroke-width="1.1" fill="none"/>
<rect x="784.1" y="758.4" width="22.2" height="4.2" fill="#2c8c3e"/>
<path d="M886.8 729.5L794.7 758.5" stroke="#70c080" stroke-width="1.1" fill="none"/>
<rect x="811.3" y="758.4" width="22.2" height="4.2" fill="#168a5c"/>
<path d="M886.8 729.5L821.9 758.5" stroke="#60c0a0" stroke-width="1.1" fill="none"/>
<rect x="838.5" y="758.4" width="22.2" height="4.2" fill="#2a6fa0"/>
<path d="M895 729.5L849.1 758.5" stroke="#70b0d8" stroke-width="1.1" fill="none"/>
<rect x="865.7" y="758.4" width="22.2" height="4.2" fill="#3a5aaa"/>
<path d="M906 729.5L876.3 758.5" stroke="#8098d8" stroke-width="1.1" fill="none"/>
<rect x="892.9" y="758.4" width="22.2" height="4.2" fill="#5a3aa8"/>
<path d="M929 729.5L903.4 758.5" stroke="#9880d0" stroke-width="1.1" fill="none"/>
<rect x="920" y="758.4" width="22.2" height="4.2" fill="#8a3aaa"/>
<path d="M929 729.5L930.6 758.5" stroke="#b880d0" stroke-width="1.1" fill="none"/>
<rect x="947.2" y="758.4" width="22.2" height="4.2" fill="#a040a4"/>
<path d="M929 729.5L957.8 758.5" stroke="#c880c8" stroke-width="1.1" fill="none"/>
<rect x="672.4" y="725.7" width="2" height="4" fill="#c8202e"/>
<rect x="808.8" y="725.7" width="3" height="4" fill="#7a3a1c"/>
<rect x="850.5" y="725.7" width="5" height="4" fill="#8c8a2c"/>
<rect x="864" y="725.7" width="3" height="4" fill="#6f8f2c"/>
<rect x="884" y="725.7" width="6" height="4" fill="#168a5c"/>
<rect x="893" y="725.7" width="4.5" height="4" fill="#2a6fa0"/>
<rect x="904" y="725.7" width="4.5" height="4" fill="#3a5aaa"/>
<rect x="926.5" y="725.7" width="6" height="4" fill="#8a3aaa"/>
<rect x="672.4" y="1783.1" width="81.7" height="5.2" fill="#000"/>
<text x="681.3" y="1822.5" font-family='"Liberation Sans", sans-serif' font-size="31" font-weight="bold" fill="#111" text-anchor="start" letter-spacing="2.4">****</text>
<defs><linearGradient id="lg" x1="0" y1="0" x2="1" y2="0">
<stop offset="0" stop-color="#1f4aa8"/><stop offset="0.12" stop-color="#2a4ea9"/><stop offset="0.37" stop-color="#ffffff"/>
<stop offset="0.63" stop-color="#ffffff"/><stop offset="0.88" stop-color="#e8443c"/><stop offset="1" stop-color="#e6211a"/>
</linearGradient></defs>
<rect x="434.8" y="1832.4" width="122" height="42.4" fill="url(#lg)"/>
<rect x="753.8" y="1832.4" width="137.2" height="42.4" fill="url(#lg)"/>
<text x="361.5" y="1864.8" font-family='"Liberation Sans", sans-serif' font-size="37" font-weight="normal" fill="#111" text-anchor="start"  textLength="61" lengthAdjust="spacingAndGlyphs">-2.1</text>
<text x="565.5" y="1864.8" font-family='"Liberation Sans", sans-serif' font-size="37" font-weight="normal" fill="#111" text-anchor="start"  textLength="47" lengthAdjust="spacingAndGlyphs">2.1</text>
<text x="694.5" y="1864.8" font-family='"Liberation Sans", sans-serif' font-size="37" font-weight="normal" fill="#111" text-anchor="start"  textLength="50.5" lengthAdjust="spacingAndGlyphs">0.0</text>
<text x="899.5" y="1864.8" font-family='"Liberation Sans", sans-serif' font-size="37" font-weight="normal" fill="#111" text-anchor="start"  textLength="50.5" lengthAdjust="spacingAndGlyphs">1.0</text>
<text x="417" y="1908.8" font-family='"Liberation Sans", sans-serif' font-size="28.5" font-weight="normal" fill="#111" text-anchor="start"  textLength="142.5" lengthAdjust="spacingAndGlyphs">pan-cancer</text>
<text x="417" y="1948.7" font-family='"Liberation Sans", sans-serif' font-size="28.5" font-weight="normal" fill="#111" text-anchor="start"  textLength="141.5" lengthAdjust="spacingAndGlyphs">normalized</text>
<text x="414.5" y="1987.7" font-family='"Liberation Sans", sans-serif' font-size="28.5" font-weight="normal" fill="#111" text-anchor="start"  textLength="146" lengthAdjust="spacingAndGlyphs">log2(norm_</text>
<text x="429.7" y="2026.8" font-family='"Liberation Sans", sans-serif' font-size="28.5" font-weight="normal" fill="#111" text-anchor="start"  textLength="116" lengthAdjust="spacingAndGlyphs">count+1)</text>
<text x="757.5" y="1908.8" font-family='"Liberation Sans", sans-serif' font-size="28.5" font-weight="normal" fill="#111" text-anchor="start"  textLength="130.5" lengthAdjust="spacingAndGlyphs">beta value</text>
</g>
<g id="panelC">
<text x="1046.3" y="334.3" font-family='"Liberation Sans", sans-serif' font-size="47.0" font-weight="bold" fill="#000" text-anchor="start"  textLength="32.2" lengthAdjust="spacingAndGlyphs">C</text>
<rect x="1153.5" y="387.5" width="592.2" height="539.9" fill="#fff"/>
<clipPath id="cp1"><rect x="1153.5" y="387.5" width="592.2" height="539.9"/></clipPath>
<g clip-path="url(#cp1)">
<path d="M1272.6 387.5V927.4M1419.4 387.5V927.4M1566.2 387.5V927.4M1713 387.5V927.4M1153.5 880H1745.7M1153.5 725H1745.7M1153.5 570H1745.7M1153.5 415H1745.7" stroke="#ebebeb" stroke-width="1.2800000000000002" fill="none"/>
<path d="M1199.2 387.5V927.4M1346 387.5V927.4M1492.8 387.5V927.4M1639.6 387.5V927.4M1153.5 492.5H1745.7M1153.5 647.5H1745.7M1153.5 802.5H1745.7" stroke="#e3e3e3" stroke-width="2.4000000000000004" fill="none"/>
<polygon points="1179.5,422.9 1197.4,436.1 1215.3,449.4 1233.2,462.6 1251.1,475.9 1269,489.1 1286.9,502.4 1304.8,515.6 1322.7,528.8 1340.6,542.1 1358.5,555.3 1376.4,568.5 1394.3,581.7 1412.2,594.9 1430.1,608.1 1448,621.2 1465.9,634.3 1483.8,647.3 1501.7,660.2 1519.6,672.8 1537.5,685 1555.4,696.8 1573.3,708.1 1591.2,719.2 1609.1,730.1 1627,740.9 1644.9,751.6 1662.8,762.4 1680.7,773 1698.6,783.7 1716.5,794.4 1716.5,821.4 1698.6,808.2 1680.7,795 1662.8,781.8 1644.9,768.7 1627,755.5 1609.1,742.5 1591.2,729.5 1573.3,716.7 1555.4,704.2 1537.5,692 1519.6,680.4 1501.7,669.2 1483.8,658.2 1465.9,647.3 1448,636.5 1430.1,625.8 1412.2,615.1 1394.3,604.4 1376.4,593.7 1358.5,583 1340.6,572.4 1322.7,561.8 1304.8,551.1 1286.9,540.5 1269,529.8 1251.1,519.2 1233.2,508.6 1215.3,498 1197.4,487.3 1179.5,476.7" fill="#999" fill-opacity="0.36"/>
<g fill="#000" fill-opacity="0.41"><circle cx="1180.5" cy="528.8" r="6.1"/><circle cx="1192.4" cy="629" r="6.1"/><circle cx="1206.5" cy="712.5" r="6.1"/><circle cx="1221" cy="582.2" r="6.1"/><circle cx="1228.5" cy="548.9" r="6.1"/><circle cx="1229.4" cy="673.9" r="6.1"/><circle cx="1252" cy="473.5" r="6.1"/><circle cx="1256.8" cy="663.5" r="6.1"/><circle cx="1259.3" cy="638.4" r="6.1"/><circle cx="1263" cy="547.3" r="6.1"/><circle cx="1280.3" cy="500.5" r="6.1"/><circle cx="1284.4" cy="542.6" r="6.1"/><circle cx="1287.5" cy="493.3" r="6.1"/><circle cx="1295.1" cy="548.3" r="6.1"/><circle cx="1299.1" cy="472" r="6.1"/><circle cx="1302.6" cy="432.1" r="6.1"/><circle cx="1311.7" cy="565.5" r="6.1"/><circle cx="1325.2" cy="456.3" r="6.1"/><circle cx="1327.4" cy="586.9" r="6.1"/><circle cx="1332.1" cy="580.3" r="6.1"/><circle cx="1334.3" cy="601.6" r="6.1"/><circle cx="1335.2" cy="807.9" r="6.1"/><circle cx="1340" cy="546.7" r="6.1"/><circle cx="1343.1" cy="419.5" r="6.1"/><circle cx="1350" cy="466.6" r="6.1"/><circle cx="1420.5" cy="529.8" r="6.1"/><circle cx="1421.8" cy="534.7" r="6.1"/><circle cx="1421.9" cy="559.4" r="6.1"/><circle cx="1422.9" cy="507.4" r="6.1"/><circle cx="1423.4" cy="541.5" r="6.1"/><circle cx="1424.3" cy="509" r="6.1"/><circle cx="1424.7" cy="508.2" r="6.1"/><circle cx="1425.3" cy="664.9" r="6.1"/><circle cx="1427.4" cy="512.5" r="6.1"/><circle cx="1427.6" cy="549.4" r="6.1"/><circle cx="1428.2" cy="571.7" r="6.1"/><circle cx="1428.7" cy="546.7" r="6.1"/><circle cx="1430.4" cy="495.9" r="6.1"/><circle cx="1430.8" cy="499.7" r="6.1"/><circle cx="1431.7" cy="626.1" r="6.1"/><circle cx="1432.4" cy="534.2" r="6.1"/><circle cx="1433.7" cy="449.6" r="6.1"/><circle cx="1433.9" cy="557.6" r="6.1"/><circle cx="1434.9" cy="520.4" r="6.1"/><circle cx="1435.3" cy="512.8" r="6.1"/><circle cx="1436.7" cy="498.8" r="6.1"/><circle cx="1437.3" cy="646.1" r="6.1"/><circle cx="1438" cy="672.5" r="6.1"/><circle cx="1439.1" cy="528.6" r="6.1"/><circle cx="1439.9" cy="546.5" r="6.1"/><circle cx="1441.9" cy="542" r="6.1"/><circle cx="1442.8" cy="508.8" r="6.1"/><circle cx="1443" cy="556.9" r="6.1"/><circle cx="1443" cy="591" r="6.1"/><circle cx="1443.5" cy="538.8" r="6.1"/><circle cx="1443.7" cy="585.4" r="6.1"/><circle cx="1443.8" cy="595.5" r="6.1"/><circle cx="1444.2" cy="620.2" r="6.1"/><circle cx="1444.4" cy="549" r="6.1"/><circle cx="1444.8" cy="529.7" r="6.1"/><circle cx="1445.1" cy="541.4" r="6.1"/><circle cx="1445.1" cy="553.5" r="6.1"/><circle cx="1445.7" cy="483.5" r="6.1"/><circle cx="1447" cy="489.8" r="6.1"/><circle cx="1448.3" cy="490.4" r="6.1"/><circle cx="1449.3" cy="555.4" r="6.1"/><circle cx="1450.4" cy="549.2" r="6.1"/><circle cx="1452.7" cy="514.3" r="6.1"/><circle cx="1454.1" cy="649.4" r="6.1"/><circle cx="1455" cy="527.8" r="6.1"/><circle cx="1455.2" cy="523.5" r="6.1"/><circle cx="1457" cy="541.2" r="6.1"/><circle cx="1457.8" cy="676.7" r="6.1"/><circle cx="1458.4" cy="685.8" r="6.1"/><circle cx="1458.9" cy="546.1" r="6.1"/><circle cx="1459.8" cy="615.8" r="6.1"/><circle cx="1460.2" cy="628.4" r="6.1"/><circle cx="1463.3" cy="490.5" r="6.1"/><circle cx="1463.5" cy="481.7" r="6.1"/><circle cx="1464.9" cy="755.8" r="6.1"/><circle cx="1464.9" cy="605" r="6.1"/><circle cx="1465.2" cy="606.8" r="6.1"/><circle cx="1465.8" cy="574" r="6.1"/><circle cx="1465.9" cy="553.4" r="6.1"/><circle cx="1466.3" cy="714.3" r="6.1"/><circle cx="1469" cy="527.3" r="6.1"/><circle cx="1469.2" cy="607.3" r="6.1"/><circle cx="1469.2" cy="747.3" r="6.1"/><circle cx="1469.3" cy="562.9" r="6.1"/><circle cx="1469.4" cy="580.7" r="6.1"/><circle cx="1469.7" cy="563.6" r="6.1"/><circle cx="1470.4" cy="505.2" r="6.1"/><circle cx="1470.5" cy="572.8" r="6.1"/><circle cx="1470.6" cy="676.2" r="6.1"/><circle cx="1472.2" cy="566.4" r="6.1"/><circle cx="1475.1" cy="591.1" r="6.1"/><circle cx="1476.2" cy="500.6" r="6.1"/><circle cx="1476.3" cy="658.3" r="6.1"/><circle cx="1476.7" cy="483.5" r="6.1"/><circle cx="1477.4" cy="550" r="6.1"/><circle cx="1477.5" cy="558.9" r="6.1"/><circle cx="1479.1" cy="690.2" r="6.1"/><circle cx="1479.9" cy="494.4" r="6.1"/><circle cx="1480.1" cy="642" r="6.1"/><circle cx="1480.3" cy="636.3" r="6.1"/><circle cx="1481.7" cy="662.2" r="6.1"/><circle cx="1481.9" cy="601.5" r="6.1"/><circle cx="1482.2" cy="607.6" r="6.1"/><circle cx="1482.3" cy="596.6" r="6.1"/><circle cx="1483.1" cy="650.2" r="6.1"/><circle cx="1483.2" cy="541.8" r="6.1"/><circle cx="1484.1" cy="766.4" r="6.1"/><circle cx="1484.8" cy="548.4" r="6.1"/><circle cx="1486.4" cy="573" r="6.1"/><circle cx="1487.2" cy="567" r="6.1"/><circle cx="1487.4" cy="578.7" r="6.1"/><circle cx="1488.5" cy="528.1" r="6.1"/><circle cx="1488.6" cy="554" r="6.1"/><circle cx="1488.9" cy="593.5" r="6.1"/><circle cx="1489.5" cy="686.3" r="6.1"/><circle cx="1489.6" cy="567.3" r="6.1"/><circle cx="1489.7" cy="629.7" r="6.1"/><circle cx="1490.2" cy="553.2" r="6.1"/><circle cx="1490.7" cy="789.5" r="6.1"/><circle cx="1490.9" cy="526.2" r="6.1"/><circle cx="1492.4" cy="668.1" r="6.1"/><circle cx="1492.6" cy="563.8" r="6.1"/><circle cx="1492.9" cy="625.2" r="6.1"/><circle cx="1493.1" cy="709.5" r="6.1"/><circle cx="1493.3" cy="546.7" r="6.1"/><circle cx="1493.5" cy="732.7" r="6.1"/><circle cx="1495.4" cy="602.6" r="6.1"/><circle cx="1496" cy="716.9" r="6.1"/><circle cx="1496.8" cy="721.3" r="6.1"/><circle cx="1497.7" cy="591.5" r="6.1"/><circle cx="1498.4" cy="655.9" r="6.1"/><circle cx="1498.9" cy="595.5" r="6.1"/><circle cx="1499.7" cy="701" r="6.1"/><circle cx="1500.3" cy="687.4" r="6.1"/><circle cx="1501.1" cy="628.2" r="6.1"/><circle cx="1501.1" cy="724.2" r="6.1"/><circle cx="1501.3" cy="656.3" r="6.1"/><circle cx="1502.7" cy="599.2" r="6.1"/><circle cx="1504.1" cy="739.3" r="6.1"/><circle cx="1504.5" cy="638.5" r="6.1"/><circle cx="1504.7" cy="733.1" r="6.1"/><circle cx="1506.5" cy="596.7" r="6.1"/><circle cx="1506.6" cy="605.7" r="6.1"/><circle cx="1507" cy="611.4" r="6.1"/><circle cx="1507.9" cy="660.6" r="6.1"/><circle cx="1508.6" cy="681.6" r="6.1"/><circle cx="1509.1" cy="629.3" r="6.1"/><circle cx="1509.4" cy="618.8" r="6.1"/><circle cx="1509.4" cy="525.2" r="6.1"/><circle cx="1509.6" cy="658.6" r="6.1"/><circle cx="1509.6" cy="671.9" r="6.1"/><circle cx="1509.7" cy="725" r="6.1"/><circle cx="1510" cy="638.1" r="6.1"/><circle cx="1510" cy="698.7" r="6.1"/><circle cx="1511.8" cy="705" r="6.1"/><circle cx="1512.2" cy="609.5" r="6.1"/><circle cx="1512.3" cy="662.1" r="6.1"/><circle cx="1515.2" cy="536.6" r="6.1"/><circle cx="1515.4" cy="680.8" r="6.1"/><circle cx="1515.4" cy="684.6" r="6.1"/><circle cx="1515.9" cy="629.4" r="6.1"/><circle cx="1515.9" cy="656.5" r="6.1"/><circle cx="1516.2" cy="774.9" r="6.1"/><circle cx="1516.2" cy="542" r="6.1"/><circle cx="1516.7" cy="690" r="6.1"/><circle cx="1517" cy="587.8" r="6.1"/><circle cx="1518.2" cy="697" r="6.1"/><circle cx="1518.4" cy="649.1" r="6.1"/><circle cx="1519.5" cy="553.7" r="6.1"/><circle cx="1519.9" cy="822.3" r="6.1"/><circle cx="1520" cy="540.7" r="6.1"/><circle cx="1520.1" cy="667.8" r="6.1"/><circle cx="1520.2" cy="568" r="6.1"/><circle cx="1520.7" cy="728.5" r="6.1"/><circle cx="1522.5" cy="649.2" r="6.1"/><circle cx="1522.5" cy="675.9" r="6.1"/><circle cx="1522.7" cy="700.8" r="6.1"/><circle cx="1523.1" cy="759.3" r="6.1"/><circle cx="1523.9" cy="666" r="6.1"/><circle cx="1524.8" cy="622.9" r="6.1"/><circle cx="1525.2" cy="589.3" r="6.1"/><circle cx="1525.3" cy="645.2" r="6.1"/><circle cx="1525.9" cy="709.9" r="6.1"/><circle cx="1526.8" cy="700.5" r="6.1"/><circle cx="1526.8" cy="553.7" r="6.1"/><circle cx="1527.3" cy="688.8" r="6.1"/><circle cx="1528.2" cy="580.6" r="6.1"/><circle cx="1529.3" cy="609.8" r="6.1"/><circle cx="1530.4" cy="644.3" r="6.1"/><circle cx="1530.4" cy="840.8" r="6.1"/><circle cx="1530.8" cy="639.6" r="6.1"/><circle cx="1531" cy="810.3" r="6.1"/><circle cx="1532.2" cy="700.8" r="6.1"/><circle cx="1532.4" cy="720.3" r="6.1"/><circle cx="1532.5" cy="886.7" r="6.1"/><circle cx="1534.3" cy="759" r="6.1"/><circle cx="1534.8" cy="662.4" r="6.1"/><circle cx="1535" cy="647.1" r="6.1"/><circle cx="1536.4" cy="642.8" r="6.1"/><circle cx="1536.7" cy="846.2" r="6.1"/><circle cx="1537.5" cy="794.5" r="6.1"/><circle cx="1538.5" cy="657.5" r="6.1"/><circle cx="1539" cy="717.2" r="6.1"/><circle cx="1539.1" cy="876.4" r="6.1"/><circle cx="1539.3" cy="719.5" r="6.1"/><circle cx="1539.4" cy="675.4" r="6.1"/><circle cx="1540.4" cy="893.4" r="6.1"/><circle cx="1541.1" cy="733.4" r="6.1"/><circle cx="1541.2" cy="732.4" r="6.1"/><circle cx="1541.4" cy="843.5" r="6.1"/><circle cx="1542.1" cy="855.5" r="6.1"/><circle cx="1542.3" cy="822.4" r="6.1"/><circle cx="1542.4" cy="642.1" r="6.1"/><circle cx="1542.5" cy="640.1" r="6.1"/><circle cx="1544.3" cy="658.9" r="6.1"/><circle cx="1544.4" cy="743.1" r="6.1"/><circle cx="1544.8" cy="631.8" r="6.1"/><circle cx="1547.5" cy="771.4" r="6.1"/><circle cx="1548" cy="611.6" r="6.1"/><circle cx="1548.4" cy="695.5" r="6.1"/><circle cx="1550" cy="704.8" r="6.1"/><circle cx="1550.9" cy="770.2" r="6.1"/><circle cx="1551.1" cy="607.8" r="6.1"/><circle cx="1551.1" cy="712.2" r="6.1"/><circle cx="1551.7" cy="831.6" r="6.1"/><circle cx="1551.7" cy="780.6" r="6.1"/><circle cx="1552.1" cy="560.1" r="6.1"/><circle cx="1554.5" cy="785.7" r="6.1"/><circle cx="1555.3" cy="827" r="6.1"/><circle cx="1555.3" cy="633.4" r="6.1"/><circle cx="1556.6" cy="554.1" r="6.1"/><circle cx="1557.6" cy="652.2" r="6.1"/><circle cx="1557.9" cy="752.3" r="6.1"/><circle cx="1558.1" cy="700.4" r="6.1"/><circle cx="1558.6" cy="872.5" r="6.1"/><circle cx="1559" cy="650" r="6.1"/><circle cx="1559.3" cy="758" r="6.1"/><circle cx="1560.2" cy="770.5" r="6.1"/><circle cx="1560.2" cy="672" r="6.1"/><circle cx="1560.5" cy="752.5" r="6.1"/><circle cx="1561.4" cy="712.4" r="6.1"/><circle cx="1561.6" cy="809" r="6.1"/><circle cx="1562.2" cy="612.3" r="6.1"/><circle cx="1562.8" cy="801.8" r="6.1"/><circle cx="1563.1" cy="767.2" r="6.1"/><circle cx="1563.8" cy="682.4" r="6.1"/><circle cx="1564.6" cy="766.9" r="6.1"/><circle cx="1565.4" cy="639.7" r="6.1"/><circle cx="1570.3" cy="835.7" r="6.1"/><circle cx="1571" cy="801.1" r="6.1"/><circle cx="1571" cy="805.5" r="6.1"/><circle cx="1571.1" cy="755.8" r="6.1"/><circle cx="1571.3" cy="707.2" r="6.1"/><circle cx="1573.3" cy="619.7" r="6.1"/><circle cx="1573.8" cy="768.2" r="6.1"/><circle cx="1574.3" cy="779.9" r="6.1"/><circle cx="1574.9" cy="771" r="6.1"/><circle cx="1575" cy="710.6" r="6.1"/><circle cx="1576.9" cy="866.1" r="6.1"/><circle cx="1577.1" cy="621.2" r="6.1"/><circle cx="1577.5" cy="812.3" r="6.1"/><circle cx="1578" cy="739" r="6.1"/><circle cx="1578.4" cy="677.8" r="6.1"/><circle cx="1578.8" cy="567.5" r="6.1"/><circle cx="1579.8" cy="636.8" r="6.1"/><circle cx="1580.3" cy="689.5" r="6.1"/><circle cx="1580.5" cy="695.9" r="6.1"/><circle cx="1581.1" cy="841.5" r="6.1"/><circle cx="1582.3" cy="693.6" r="6.1"/><circle cx="1582.8" cy="853.8" r="6.1"/><circle cx="1582.8" cy="627.7" r="6.1"/><circle cx="1582.9" cy="706.7" r="6.1"/><circle cx="1583.7" cy="781.7" r="6.1"/><circle cx="1584" cy="803" r="6.1"/><circle cx="1584.1" cy="673" r="6.1"/><circle cx="1584.8" cy="590.3" r="6.1"/><circle cx="1585.7" cy="573.9" r="6.1"/><circle cx="1586" cy="675.4" r="6.1"/><circle cx="1587.4" cy="781" r="6.1"/><circle cx="1587.7" cy="841.2" r="6.1"/><circle cx="1588.1" cy="745.8" r="6.1"/><circle cx="1588.8" cy="893.3" r="6.1"/><circle cx="1589.7" cy="635.3" r="6.1"/><circle cx="1589.8" cy="673.1" r="6.1"/><circle cx="1590.3" cy="815.2" r="6.1"/><circle cx="1590.8" cy="728.5" r="6.1"/><circle cx="1591.5" cy="621.2" r="6.1"/><circle cx="1591.6" cy="738.9" r="6.1"/><circle cx="1591.9" cy="693.3" r="6.1"/><circle cx="1591.9" cy="730.7" r="6.1"/><circle cx="1592.4" cy="581.3" r="6.1"/><circle cx="1592.6" cy="825.7" r="6.1"/><circle cx="1593.3" cy="787" r="6.1"/><circle cx="1593.7" cy="717" r="6.1"/><circle cx="1594.3" cy="563.9" r="6.1"/><circle cx="1595.3" cy="703.8" r="6.1"/><circle cx="1596.5" cy="856.1" r="6.1"/><circle cx="1596.6" cy="799.7" r="6.1"/><circle cx="1598.1" cy="634.9" r="6.1"/><circle cx="1598.9" cy="775.2" r="6.1"/><circle cx="1598.9" cy="857.5" r="6.1"/><circle cx="1599.2" cy="803.7" r="6.1"/><circle cx="1599.9" cy="688" r="6.1"/><circle cx="1600.8" cy="614.5" r="6.1"/><circle cx="1600.8" cy="744.9" r="6.1"/><circle cx="1602.1" cy="706.4" r="6.1"/><circle cx="1603" cy="840.2" r="6.1"/><circle cx="1603" cy="570.8" r="6.1"/><circle cx="1603.1" cy="822.7" r="6.1"/><circle cx="1603.4" cy="865.2" r="6.1"/><circle cx="1604.1" cy="883.1" r="6.1"/><circle cx="1604.2" cy="652.9" r="6.1"/><circle cx="1604.3" cy="645.6" r="6.1"/><circle cx="1604.4" cy="881.5" r="6.1"/><circle cx="1604.7" cy="643.8" r="6.1"/><circle cx="1606.3" cy="829.4" r="6.1"/><circle cx="1606.6" cy="731.3" r="6.1"/><circle cx="1606.7" cy="683.1" r="6.1"/><circle cx="1606.8" cy="816" r="6.1"/><circle cx="1608.1" cy="792.6" r="6.1"/><circle cx="1610.9" cy="765.4" r="6.1"/><circle cx="1613" cy="718.9" r="6.1"/><circle cx="1614.2" cy="616" r="6.1"/><circle cx="1614.5" cy="818.5" r="6.1"/><circle cx="1615" cy="641.8" r="6.1"/><circle cx="1615.1" cy="851.8" r="6.1"/><circle cx="1616.1" cy="659.1" r="6.1"/><circle cx="1617.6" cy="736.6" r="6.1"/><circle cx="1618.1" cy="749.8" r="6.1"/><circle cx="1619" cy="834.1" r="6.1"/><circle cx="1619.3" cy="847" r="6.1"/><circle cx="1619.4" cy="788.1" r="6.1"/><circle cx="1620.1" cy="697.2" r="6.1"/><circle cx="1620.4" cy="820.8" r="6.1"/><circle cx="1620.9" cy="651.3" r="6.1"/><circle cx="1622.1" cy="837.2" r="6.1"/><circle cx="1622.7" cy="849.5" r="6.1"/><circle cx="1623.3" cy="674.9" r="6.1"/><circle cx="1623.8" cy="855.2" r="6.1"/><circle cx="1625.7" cy="693.3" r="6.1"/><circle cx="1626" cy="650.7" r="6.1"/><circle cx="1626" cy="823.9" r="6.1"/><circle cx="1626.7" cy="847.4" r="6.1"/><circle cx="1627.2" cy="696.3" r="6.1"/><circle cx="1627.7" cy="605.9" r="6.1"/><circle cx="1628.1" cy="735.4" r="6.1"/><circle cx="1628.6" cy="803.3" r="6.1"/><circle cx="1629.2" cy="888.6" r="6.1"/><circle cx="1631.4" cy="689.7" r="6.1"/><circle cx="1633.3" cy="602.1" r="6.1"/><circle cx="1634.1" cy="747.2" r="6.1"/><circle cx="1634.5" cy="751.3" r="6.1"/><circle cx="1634.5" cy="766.5" r="6.1"/><circle cx="1634.6" cy="705.9" r="6.1"/><circle cx="1634.8" cy="757.4" r="6.1"/><circle cx="1635" cy="723.3" r="6.1"/><circle cx="1635.7" cy="709.9" r="6.1"/><circle cx="1636" cy="705.2" r="6.1"/><circle cx="1636.6" cy="779.7" r="6.1"/><circle cx="1636.7" cy="681.7" r="6.1"/><circle cx="1636.9" cy="628.2" r="6.1"/><circle cx="1638.5" cy="656.1" r="6.1"/><circle cx="1638.7" cy="762.3" r="6.1"/><circle cx="1639.5" cy="740.7" r="6.1"/><circle cx="1639.8" cy="748.2" r="6.1"/><circle cx="1640" cy="718.8" r="6.1"/><circle cx="1640.4" cy="844.8" r="6.1"/><circle cx="1641.3" cy="898" r="6.1"/><circle cx="1642.2" cy="614" r="6.1"/><circle cx="1643.3" cy="725.8" r="6.1"/><circle cx="1646.6" cy="764" r="6.1"/><circle cx="1648.3" cy="724.5" r="6.1"/><circle cx="1649.2" cy="662.3" r="6.1"/><circle cx="1650.6" cy="748.5" r="6.1"/><circle cx="1652.1" cy="700.8" r="6.1"/><circle cx="1653.1" cy="692" r="6.1"/><circle cx="1653.4" cy="800.9" r="6.1"/><circle cx="1654.1" cy="866.4" r="6.1"/><circle cx="1654.6" cy="799.3" r="6.1"/><circle cx="1655.5" cy="848.4" r="6.1"/><circle cx="1656.1" cy="703.9" r="6.1"/><circle cx="1658.1" cy="819.3" r="6.1"/><circle cx="1658.6" cy="771.9" r="6.1"/><circle cx="1659.2" cy="768.8" r="6.1"/><circle cx="1659.3" cy="769.8" r="6.1"/><circle cx="1663.4" cy="848.3" r="6.1"/><circle cx="1665.2" cy="678.7" r="6.1"/><circle cx="1665.4" cy="749.7" r="6.1"/><circle cx="1667.4" cy="759.9" r="6.1"/><circle cx="1668" cy="718.6" r="6.1"/><circle cx="1668.4" cy="884.3" r="6.1"/><circle cx="1669.3" cy="675.8" r="6.1"/><circle cx="1670.1" cy="679.9" r="6.1"/><circle cx="1670.6" cy="902.8" r="6.1"/><circle cx="1670.7" cy="780.2" r="6.1"/><circle cx="1672.2" cy="803.8" r="6.1"/><circle cx="1672.7" cy="883.8" r="6.1"/><circle cx="1673.4" cy="823" r="6.1"/><circle cx="1674.2" cy="766" r="6.1"/><circle cx="1674.8" cy="780.1" r="6.1"/><circle cx="1678.4" cy="842.2" r="6.1"/><circle cx="1679.1" cy="661.8" r="6.1"/><circle cx="1679.4" cy="789.3" r="6.1"/><circle cx="1679.7" cy="685.2" r="6.1"/><circle cx="1686.3" cy="762.9" r="6.1"/><circle cx="1689.9" cy="694.2" r="6.1"/><circle cx="1691" cy="755.8" r="6.1"/><circle cx="1691.1" cy="857.7" r="6.1"/><circle cx="1693.1" cy="776.3" r="6.1"/><circle cx="1694.5" cy="767.9" r="6.1"/><circle cx="1696.9" cy="769.8" r="6.1"/><circle cx="1701.1" cy="652.9" r="6.1"/><circle cx="1704.3" cy="866.2" r="6.1"/><circle cx="1705.5" cy="878.5" r="6.1"/><circle cx="1706.9" cy="806.3" r="6.1"/><circle cx="1707.4" cy="815" r="6.1"/><circle cx="1708.6" cy="800.4" r="6.1"/><circle cx="1709.3" cy="834.7" r="6.1"/><circle cx="1714.4" cy="792.8" r="6.1"/><circle cx="1714.7" cy="821.5" r="6.1"/><circle cx="1717.8" cy="708.5" r="6.1"/><circle cx="1718.5" cy="774.7" r="6.1"/><circle cx="1351.3" cy="574.3" r="6.1"/><circle cx="1357.8" cy="454.7" r="6.1"/><circle cx="1380.8" cy="426.8" r="6.1"/><circle cx="1383.9" cy="468.2" r="6.1"/><circle cx="1394.3" cy="467.3" r="6.1"/><circle cx="1396.5" cy="456.6" r="6.1"/><circle cx="1399" cy="412.6" r="6.1"/><circle cx="1413.7" cy="448.7" r="6.1"/><circle cx="1402.1" cy="484.8" r="6.1"/><circle cx="1372.3" cy="485.5" r="6.1"/><circle cx="1369.8" cy="496.5" r="6.1"/><circle cx="1381.4" cy="496.5" r="6.1"/><circle cx="1361.9" cy="501.2" r="6.1"/><circle cx="1395.8" cy="504.3" r="6.1"/><circle cx="1369.8" cy="511.5" r="6.1"/><circle cx="1412.8" cy="494.3" r="6.1"/><circle cx="1356.6" cy="520.6" r="6.1"/><circle cx="1372.3" cy="520.6" r="6.1"/><circle cx="1390.2" cy="526.9" r="6.1"/><circle cx="1355" cy="532.6" r="6.1"/><circle cx="1368.2" cy="538.8" r="6.1"/><circle cx="1366.6" cy="545.8" r="6.1"/><circle cx="1410.6" cy="531" r="6.1"/><circle cx="1415.3" cy="526.3" r="6.1"/><circle cx="1383.9" cy="555.2" r="6.1"/><circle cx="1407.5" cy="548.3" r="6.1"/><circle cx="1396.5" cy="560.2" r="6.1"/><circle cx="1401.2" cy="567.1" r="6.1"/><circle cx="1415.3" cy="562.4" r="6.1"/><circle cx="1401.2" cy="576.5" r="6.1"/><circle cx="1402.1" cy="583.4" r="6.1"/><circle cx="1413.7" cy="585" r="6.1"/><circle cx="1366.6" cy="595.4" r="6.1"/><circle cx="1361" cy="601.6" r="6.1"/><circle cx="1376.1" cy="604.2" r="6.1"/><circle cx="1362.9" cy="612.6" r="6.1"/><circle cx="1394.9" cy="614.8" r="6.1"/><circle cx="1403.7" cy="619.9" r="6.1"/><circle cx="1376.1" cy="626.8" r="6.1"/><circle cx="1366.6" cy="631.5" r="6.1"/><circle cx="1372.9" cy="639.3" r="6.1"/><circle cx="1388.6" cy="637.7" r="6.1"/><circle cx="1394.3" cy="646.2" r="6.1"/><circle cx="1361.9" cy="647.2" r="6.1"/><circle cx="1387" cy="659.1" r="6.1"/><circle cx="1366" cy="679.2" r="6.1"/><circle cx="1364.4" cy="701.2" r="6.1"/><circle cx="1404.9" cy="685.5" r="6.1"/><circle cx="1410.6" cy="701.2" r="6.1"/><circle cx="1397.1" cy="721.9" r="6.1"/><circle cx="1391.8" cy="746.1" r="6.1"/><circle cx="1403.7" cy="753.9" r="6.1"/><circle cx="1397.1" cy="764" r="6.1"/><circle cx="1404.9" cy="775.3" r="6.1"/><circle cx="1363.5" cy="838.1" r="6.1"/><circle cx="1465.5" cy="871" r="6.1"/><circle cx="1533" cy="898.3" r="6.1"/><circle cx="1616.2" cy="903.1" r="6.1"/><circle cx="1705.7" cy="896.8" r="6.1"/><circle cx="1529.9" cy="879.5" r="6.1"/><circle cx="1443.6" cy="425.2" r="6.1"/><circle cx="1493.2" cy="433.7" r="6.1"/><circle cx="1476.5" cy="446.9" r="6.1"/><circle cx="1465.5" cy="454.1" r="6.1"/><circle cx="1506.4" cy="469.8" r="6.1"/><circle cx="1519.9" cy="483.9" r="6.1"/></g>
<path d="M1179.5 449.8L1716.5 807.9" stroke="#1f49a5" stroke-width="6" stroke-linecap="butt" fill="none"/>
</g>
<rect x="1153.5" y="387.5" width="592.2" height="539.9" fill="none" stroke="#111" stroke-width="2.5"/>
<text x="1193.7" y="963" font-family='"Liberation Sans", sans-serif' font-size="30" font-weight="normal" fill="#1c1c1c" text-anchor="middle" >-4</text>
<text x="1346" y="963" font-family='"Liberation Sans", sans-serif' font-size="30" font-weight="normal" fill="#1c1c1c" text-anchor="middle" >-2</text>
<text x="1492.8" y="963" font-family='"Liberation Sans", sans-serif' font-size="30" font-weight="normal" fill="#1c1c1c" text-anchor="middle" >0</text>
<text x="1643.6" y="963" font-family='"Liberation Sans", sans-serif' font-size="30" font-weight="normal" fill="#1c1c1c" text-anchor="middle" >2</text>
<text x="1088.5" y="503.3" font-family='"Liberation Sans", sans-serif' font-size="30" font-weight="normal" fill="#1c1c1c" text-anchor="start"  textLength="57" lengthAdjust="spacingAndGlyphs">0.75</text>
<text x="1088.5" y="658.3" font-family='"Liberation Sans", sans-serif' font-size="30" font-weight="normal" fill="#1c1c1c" text-anchor="start"  textLength="57" lengthAdjust="spacingAndGlyphs">0.50</text>
<text x="1088.5" y="813.3" font-family='"Liberation Sans", sans-serif' font-size="30" font-weight="normal" fill="#1c1c1c" text-anchor="start"  textLength="57" lengthAdjust="spacingAndGlyphs">0.25</text>
<path d="M1199.2 927.4v5.5M1346 927.4v5.5M1492.8 927.4v5.5M1639.6 927.4v5.5M1153.5 492.5h-5.5M1153.5 647.5h-5.5M1153.5 802.5h-5.5" stroke="#222" stroke-width="4" fill="none"/>
<text x="1249.5" y="1010.5" font-family='"Liberation Sans", sans-serif' font-size="36" font-weight="bold" fill="#151515" text-anchor="start"  textLength="416" lengthAdjust="spacingAndGlyphs">NLRC5 mRNA expresson</text>
<text transform="translate(1071.8 834.5) rotate(-90)" font-family='"Liberation Sans", sans-serif' font-size="36" font-weight="bold" fill="#151515" textLength="364" lengthAdjust="spacingAndGlyphs">β value of cg08159663</text>
<text x="1397" y="434.3" font-family='"Liberation Sans", sans-serif' font-size="35" font-weight="normal" fill="#d3242a" text-anchor="start"  textLength="333" lengthAdjust="spacingAndGlyphs">R = -0.65, P &lt; 0.0001</text>
</g>
<g id="panelD">
<text x="1776.5" y="324.2" font-family='"Liberation Sans", sans-serif' font-size="46.3" font-weight="bold" fill="#000" text-anchor="start"  textLength="32.8" lengthAdjust="spacingAndGlyphs">D</text>
<rect x="1893.8" y="391.2" width="590.9" height="538.5" fill="#fff"/>
<clipPath id="cp2"><rect x="1893.8" y="391.2" width="590.9" height="538.5"/></clipPath>
<g clip-path="url(#cp2)">
<path d="M2012.8 391.2V929.7M2159.3 391.2V929.7M2305.8 391.2V929.7M2452.3 391.2V929.7M1893.8 983.7H2484.7M1893.8 857.7H2484.7M1893.8 731.8H2484.7M1893.8 605.8H2484.7M1893.8 479.9H2484.7M1893.8 353.9H2484.7" stroke="#ebebeb" stroke-width="1.2800000000000002" fill="none"/>
<path d="M1939.6 391.2V929.7M2086.1 391.2V929.7M2232.6 391.2V929.7M2379.1 391.2V929.7M1893.8 416.9H2484.7M1893.8 542.9H2484.7M1893.8 668.8H2484.7M1893.8 794.8H2484.7M1893.8 920.7H2484.7" stroke="#e3e3e3" stroke-width="2.4000000000000004" fill="none"/>
<polygon points="1919.9,416.1 1937.9,431 1955.8,446 1973.8,461 1991.8,476 2009.8,491 2027.7,506 2045.7,520.9 2063.7,535.9 2081.7,550.9 2099.6,565.8 2117.6,580.8 2135.6,595.7 2153.6,610.7 2171.5,625.6 2189.5,640.5 2207.5,655.3 2225.4,670.1 2243.4,684.7 2261.4,699.1 2279.4,713.1 2297.3,726.5 2315.3,739.4 2333.3,752 2351.3,764.3 2369.2,776.5 2387.2,788.7 2405.2,800.9 2423.2,813 2441.1,825.1 2459.1,837.2 2459.1,866.6 2441.1,851.6 2423.2,836.7 2405.2,821.8 2387.2,806.9 2369.2,792 2351.3,777.2 2333.3,762.5 2315.3,748 2297.3,733.8 2279.4,720.2 2261.4,707.1 2243.4,694.5 2225.4,682.1 2207.5,669.8 2189.5,657.6 2171.5,645.5 2153.6,633.3 2135.6,621.2 2117.6,609.1 2099.6,597 2081.7,584.9 2063.7,572.9 2045.7,560.8 2027.7,548.7 2009.8,536.7 1991.8,524.6 1973.8,512.5 1955.8,500.5 1937.9,488.4 1919.9,476.3" fill="#999" fill-opacity="0.36"/>
<g fill="#000" fill-opacity="0.41"><circle cx="1920.5" cy="544" r="6.1"/><circle cx="1932.4" cy="483.1" r="6.1"/><circle cx="1946.5" cy="823.5" r="6.1"/><circle cx="1961" cy="532.4" r="6.1"/><circle cx="1968.5" cy="499.5" r="6.1"/><circle cx="1969.4" cy="567.9" r="6.1"/><circle cx="1992" cy="479.7" r="6.1"/><circle cx="1996.8" cy="505.1" r="6.1"/><circle cx="1999.3" cy="572.3" r="6.1"/><circle cx="2003" cy="497.3" r="6.1"/><circle cx="2020.3" cy="478.4" r="6.1"/><circle cx="2024.4" cy="572.6" r="6.1"/><circle cx="2027.5" cy="495.4" r="6.1"/><circle cx="2035.1" cy="551.3" r="6.1"/><circle cx="2039.1" cy="502.6" r="6.1"/><circle cx="2042.6" cy="544" r="6.1"/><circle cx="2051.7" cy="581.1" r="6.1"/><circle cx="2065.2" cy="501" r="6.1"/><circle cx="2067.4" cy="520.8" r="6.1"/><circle cx="2072.1" cy="603.1" r="6.1"/><circle cx="2074.3" cy="613.1" r="6.1"/><circle cx="2075.2" cy="651.1" r="6.1"/><circle cx="2080" cy="508.3" r="6.1"/><circle cx="2083.1" cy="442.9" r="6.1"/><circle cx="2090" cy="499.5" r="6.1"/><circle cx="2087.9" cy="520.1" r="6.1"/><circle cx="2088.6" cy="591.2" r="6.1"/><circle cx="2089.9" cy="569.7" r="6.1"/><circle cx="2091.9" cy="542.5" r="6.1"/><circle cx="2093.1" cy="580.2" r="6.1"/><circle cx="2093.5" cy="569.8" r="6.1"/><circle cx="2093.7" cy="617.3" r="6.1"/><circle cx="2093.8" cy="627.5" r="6.1"/><circle cx="2095.3" cy="524.8" r="6.1"/><circle cx="2096.9" cy="501.9" r="6.1"/><circle cx="2098" cy="501.6" r="6.1"/><circle cx="2099.7" cy="642.3" r="6.1"/><circle cx="2105.7" cy="635.1" r="6.1"/><circle cx="2105.7" cy="563.1" r="6.1"/><circle cx="2105.8" cy="508" r="6.1"/><circle cx="2107" cy="544.8" r="6.1"/><circle cx="2107.6" cy="619.5" r="6.1"/><circle cx="2108.8" cy="557.4" r="6.1"/><circle cx="2111.8" cy="534" r="6.1"/><circle cx="2111.8" cy="587.6" r="6.1"/><circle cx="2113.1" cy="565.7" r="6.1"/><circle cx="2113.4" cy="495.2" r="6.1"/><circle cx="2115.5" cy="559.5" r="6.1"/><circle cx="2117.2" cy="516" r="6.1"/><circle cx="2119.4" cy="540.8" r="6.1"/><circle cx="2122" cy="510.5" r="6.1"/><circle cx="2123.1" cy="511.5" r="6.1"/><circle cx="2124.9" cy="492" r="6.1"/><circle cx="2125.2" cy="609.9" r="6.1"/><circle cx="2126.8" cy="585.2" r="6.1"/><circle cx="2127.1" cy="481.3" r="6.1"/><circle cx="2127.7" cy="617.6" r="6.1"/><circle cx="2128.4" cy="495.3" r="6.1"/><circle cx="2129.1" cy="524.7" r="6.1"/><circle cx="2129.3" cy="545" r="6.1"/><circle cx="2129.8" cy="566" r="6.1"/><circle cx="2131.5" cy="635.8" r="6.1"/><circle cx="2133.4" cy="504.4" r="6.1"/><circle cx="2135.9" cy="600.9" r="6.1"/><circle cx="2136.4" cy="504.3" r="6.1"/><circle cx="2138.1" cy="533" r="6.1"/><circle cx="2139.5" cy="543.9" r="6.1"/><circle cx="2141.2" cy="494.2" r="6.1"/><circle cx="2141.7" cy="447.9" r="6.1"/><circle cx="2142.4" cy="602.7" r="6.1"/><circle cx="2143.1" cy="548.2" r="6.1"/><circle cx="2143.2" cy="562.3" r="6.1"/><circle cx="2144.4" cy="548.7" r="6.1"/><circle cx="2144.5" cy="479.5" r="6.1"/><circle cx="2148" cy="552.8" r="6.1"/><circle cx="2148.3" cy="533.9" r="6.1"/><circle cx="2149" cy="465" r="6.1"/><circle cx="2149.1" cy="525.7" r="6.1"/><circle cx="2150.3" cy="633.5" r="6.1"/><circle cx="2153" cy="623.3" r="6.1"/><circle cx="2153.8" cy="507.3" r="6.1"/><circle cx="2155.1" cy="521.6" r="6.1"/><circle cx="2155.5" cy="509.7" r="6.1"/><circle cx="2156" cy="466.7" r="6.1"/><circle cx="2156.8" cy="572.1" r="6.1"/><circle cx="2157.2" cy="630" r="6.1"/><circle cx="2158.2" cy="524.4" r="6.1"/><circle cx="2158.3" cy="604.6" r="6.1"/><circle cx="2160.5" cy="653.6" r="6.1"/><circle cx="2161.8" cy="513.4" r="6.1"/><circle cx="2161.9" cy="534.4" r="6.1"/><circle cx="2162.9" cy="497.8" r="6.1"/><circle cx="2163.4" cy="593.1" r="6.1"/><circle cx="2164.3" cy="547.5" r="6.1"/><circle cx="2164.7" cy="534.5" r="6.1"/><circle cx="2165.3" cy="715.8" r="6.1"/><circle cx="2167.4" cy="707.9" r="6.1"/><circle cx="2167.6" cy="736.9" r="6.1"/><circle cx="2168.2" cy="612.3" r="6.1"/><circle cx="2168.7" cy="553.1" r="6.1"/><circle cx="2170.4" cy="690.3" r="6.1"/><circle cx="2170.8" cy="613.6" r="6.1"/><circle cx="2171.7" cy="609.4" r="6.1"/><circle cx="2172.4" cy="742.4" r="6.1"/><circle cx="2173.7" cy="675.9" r="6.1"/><circle cx="2173.9" cy="523.3" r="6.1"/><circle cx="2174.9" cy="566.6" r="6.1"/><circle cx="2175.3" cy="559" r="6.1"/><circle cx="2176.7" cy="631.8" r="6.1"/><circle cx="2177.3" cy="720.4" r="6.1"/><circle cx="2178" cy="628.1" r="6.1"/><circle cx="2179.1" cy="602.5" r="6.1"/><circle cx="2179.9" cy="552.5" r="6.1"/><circle cx="2181.9" cy="700" r="6.1"/><circle cx="2182.8" cy="602.4" r="6.1"/><circle cx="2183" cy="488.9" r="6.1"/><circle cx="2183" cy="626.3" r="6.1"/><circle cx="2183.5" cy="523.6" r="6.1"/><circle cx="2183.7" cy="504.5" r="6.1"/><circle cx="2183.8" cy="664.4" r="6.1"/><circle cx="2184.2" cy="524.7" r="6.1"/><circle cx="2184.4" cy="671.1" r="6.1"/><circle cx="2184.8" cy="736.3" r="6.1"/><circle cx="2185.1" cy="601.8" r="6.1"/><circle cx="2185.1" cy="568.3" r="6.1"/><circle cx="2185.7" cy="493.8" r="6.1"/><circle cx="2187" cy="762.3" r="6.1"/><circle cx="2188.3" cy="591.5" r="6.1"/><circle cx="2189.3" cy="642.5" r="6.1"/><circle cx="2190.4" cy="599.4" r="6.1"/><circle cx="2192.7" cy="565.8" r="6.1"/><circle cx="2194.1" cy="624.9" r="6.1"/><circle cx="2195" cy="750.5" r="6.1"/><circle cx="2195.2" cy="542.6" r="6.1"/><circle cx="2197" cy="639.1" r="6.1"/><circle cx="2197.8" cy="645.9" r="6.1"/><circle cx="2198.4" cy="622" r="6.1"/><circle cx="2198.9" cy="777.6" r="6.1"/><circle cx="2199.8" cy="684.6" r="6.1"/><circle cx="2200.2" cy="792.1" r="6.1"/><circle cx="2203.3" cy="609.3" r="6.1"/><circle cx="2203.5" cy="600" r="6.1"/><circle cx="2204.9" cy="783.7" r="6.1"/><circle cx="2204.9" cy="630.8" r="6.1"/><circle cx="2205.2" cy="495.3" r="6.1"/><circle cx="2205.8" cy="821.2" r="6.1"/><circle cx="2205.9" cy="791.1" r="6.1"/><circle cx="2206.3" cy="544.3" r="6.1"/><circle cx="2209" cy="771.9" r="6.1"/><circle cx="2209.2" cy="698.6" r="6.1"/><circle cx="2209.2" cy="593.8" r="6.1"/><circle cx="2209.3" cy="681.3" r="6.1"/><circle cx="2209.4" cy="797.5" r="6.1"/><circle cx="2209.7" cy="586.5" r="6.1"/><circle cx="2210.4" cy="576" r="6.1"/><circle cx="2210.5" cy="615.3" r="6.1"/><circle cx="2210.6" cy="610.6" r="6.1"/><circle cx="2212.2" cy="704.8" r="6.1"/><circle cx="2215.1" cy="822.2" r="6.1"/><circle cx="2216.2" cy="564.7" r="6.1"/><circle cx="2216.3" cy="698.2" r="6.1"/><circle cx="2216.7" cy="767.5" r="6.1"/><circle cx="2217.4" cy="638.1" r="6.1"/><circle cx="2217.5" cy="750.6" r="6.1"/><circle cx="2219.1" cy="660.1" r="6.1"/><circle cx="2219.9" cy="725.5" r="6.1"/><circle cx="2220.1" cy="601.9" r="6.1"/><circle cx="2220.3" cy="559.5" r="6.1"/><circle cx="2221.7" cy="777.3" r="6.1"/><circle cx="2221.9" cy="767" r="6.1"/><circle cx="2222.2" cy="619.3" r="6.1"/><circle cx="2222.3" cy="694" r="6.1"/><circle cx="2223.1" cy="600" r="6.1"/><circle cx="2223.2" cy="595.8" r="6.1"/><circle cx="2224.1" cy="625.9" r="6.1"/><circle cx="2224.8" cy="706.6" r="6.1"/><circle cx="2226.4" cy="795.4" r="6.1"/><circle cx="2227.2" cy="655" r="6.1"/><circle cx="2227.4" cy="654.7" r="6.1"/><circle cx="2228.5" cy="667.4" r="6.1"/><circle cx="2228.6" cy="729.8" r="6.1"/><circle cx="2228.9" cy="684.8" r="6.1"/><circle cx="2229.5" cy="606.3" r="6.1"/><circle cx="2229.6" cy="555.4" r="6.1"/><circle cx="2229.7" cy="537.8" r="6.1"/><circle cx="2230.2" cy="610.7" r="6.1"/><circle cx="2230.7" cy="594.3" r="6.1"/><circle cx="2230.9" cy="489.8" r="6.1"/><circle cx="2232.4" cy="701.5" r="6.1"/><circle cx="2232.6" cy="663.4" r="6.1"/><circle cx="2232.9" cy="703.5" r="6.1"/><circle cx="2233.1" cy="833.9" r="6.1"/><circle cx="2233.3" cy="822.1" r="6.1"/><circle cx="2233.5" cy="785" r="6.1"/><circle cx="2235.4" cy="727.4" r="6.1"/><circle cx="2236" cy="727" r="6.1"/><circle cx="2236.8" cy="749.8" r="6.1"/><circle cx="2237.7" cy="676.3" r="6.1"/><circle cx="2238.4" cy="753.1" r="6.1"/><circle cx="2238.9" cy="717.4" r="6.1"/><circle cx="2239.7" cy="744" r="6.1"/><circle cx="2240.3" cy="840.9" r="6.1"/><circle cx="2241.1" cy="751.4" r="6.1"/><circle cx="2241.1" cy="748.3" r="6.1"/><circle cx="2241.3" cy="633.7" r="6.1"/><circle cx="2242.7" cy="634.4" r="6.1"/><circle cx="2244.1" cy="744.2" r="6.1"/><circle cx="2244.5" cy="750.5" r="6.1"/><circle cx="2244.7" cy="836" r="6.1"/><circle cx="2246.5" cy="566.8" r="6.1"/><circle cx="2246.6" cy="791.1" r="6.1"/><circle cx="2247" cy="796.4" r="6.1"/><circle cx="2247.9" cy="598" r="6.1"/><circle cx="2248.6" cy="723.5" r="6.1"/><circle cx="2249.1" cy="679.4" r="6.1"/><circle cx="2249.4" cy="535.4" r="6.1"/><circle cx="2249.4" cy="726.7" r="6.1"/><circle cx="2249.6" cy="530.3" r="6.1"/><circle cx="2249.6" cy="710.9" r="6.1"/><circle cx="2249.7" cy="729.9" r="6.1"/><circle cx="2250" cy="759.8" r="6.1"/><circle cx="2250" cy="822.5" r="6.1"/><circle cx="2251.8" cy="762.7" r="6.1"/><circle cx="2252.2" cy="748.5" r="6.1"/><circle cx="2252.3" cy="704.2" r="6.1"/><circle cx="2255.2" cy="622.9" r="6.1"/><circle cx="2255.4" cy="812.1" r="6.1"/><circle cx="2255.4" cy="690.4" r="6.1"/><circle cx="2255.9" cy="616.2" r="6.1"/><circle cx="2255.9" cy="905.3" r="6.1"/><circle cx="2256.2" cy="703.5" r="6.1"/><circle cx="2256.2" cy="586" r="6.1"/><circle cx="2256.7" cy="815.5" r="6.1"/><circle cx="2257" cy="702.8" r="6.1"/><circle cx="2258.2" cy="668.8" r="6.1"/><circle cx="2258.4" cy="892.8" r="6.1"/><circle cx="2259.5" cy="844.3" r="6.1"/><circle cx="2259.9" cy="765.9" r="6.1"/><circle cx="2260" cy="786.3" r="6.1"/><circle cx="2260.1" cy="669.1" r="6.1"/><circle cx="2260.2" cy="668.7" r="6.1"/><circle cx="2260.7" cy="865.5" r="6.1"/><circle cx="2262.5" cy="828.4" r="6.1"/><circle cx="2262.5" cy="872.7" r="6.1"/><circle cx="2262.7" cy="725.4" r="6.1"/><circle cx="2263.1" cy="860.3" r="6.1"/><circle cx="2263.9" cy="772.1" r="6.1"/><circle cx="2264.8" cy="860.3" r="6.1"/><circle cx="2265.2" cy="664.7" r="6.1"/><circle cx="2265.3" cy="758.7" r="6.1"/><circle cx="2265.9" cy="603.9" r="6.1"/><circle cx="2266.8" cy="715" r="6.1"/><circle cx="2266.8" cy="532.3" r="6.1"/><circle cx="2267.3" cy="835.3" r="6.1"/><circle cx="2268.2" cy="664" r="6.1"/><circle cx="2269.3" cy="593.8" r="6.1"/><circle cx="2270.4" cy="754.4" r="6.1"/><circle cx="2270.4" cy="799.3" r="6.1"/><circle cx="2270.8" cy="855.7" r="6.1"/><circle cx="2271" cy="563.3" r="6.1"/><circle cx="2272.2" cy="673.5" r="6.1"/><circle cx="2272.4" cy="754" r="6.1"/><circle cx="2272.5" cy="647.3" r="6.1"/><circle cx="2274.3" cy="742.4" r="6.1"/><circle cx="2274.8" cy="654.7" r="6.1"/><circle cx="2275" cy="670.9" r="6.1"/><circle cx="2276.4" cy="641.7" r="6.1"/><circle cx="2276.7" cy="838.5" r="6.1"/><circle cx="2277.5" cy="835.2" r="6.1"/><circle cx="2278.5" cy="668.4" r="6.1"/><circle cx="2279" cy="546.3" r="6.1"/><circle cx="2279.1" cy="748.5" r="6.1"/><circle cx="2279.3" cy="718.8" r="6.1"/><circle cx="2279.4" cy="840.8" r="6.1"/><circle cx="2280.4" cy="711.9" r="6.1"/><circle cx="2281.1" cy="755.6" r="6.1"/><circle cx="2281.2" cy="763.6" r="6.1"/><circle cx="2281.4" cy="700.1" r="6.1"/><circle cx="2282.1" cy="865.8" r="6.1"/><circle cx="2282.3" cy="840.4" r="6.1"/><circle cx="2282.4" cy="781.5" r="6.1"/><circle cx="2282.5" cy="748.4" r="6.1"/><circle cx="2284.3" cy="840.6" r="6.1"/><circle cx="2284.4" cy="750.1" r="6.1"/><circle cx="2284.8" cy="793.8" r="6.1"/><circle cx="2287.5" cy="905.4" r="6.1"/><circle cx="2288" cy="755.7" r="6.1"/><circle cx="2288.4" cy="664.5" r="6.1"/><circle cx="2290" cy="727.2" r="6.1"/><circle cx="2290.9" cy="755.1" r="6.1"/><circle cx="2291.1" cy="587.5" r="6.1"/><circle cx="2291.1" cy="624.3" r="6.1"/><circle cx="2291.7" cy="688.9" r="6.1"/><circle cx="2291.7" cy="776.7" r="6.1"/><circle cx="2292.1" cy="672.7" r="6.1"/><circle cx="2294.5" cy="834.3" r="6.1"/><circle cx="2295.3" cy="809.5" r="6.1"/><circle cx="2295.3" cy="636.6" r="6.1"/><circle cx="2296.6" cy="678.5" r="6.1"/><circle cx="2297.6" cy="744.8" r="6.1"/><circle cx="2297.9" cy="795.3" r="6.1"/><circle cx="2298.1" cy="781.7" r="6.1"/><circle cx="2298.6" cy="809.7" r="6.1"/><circle cx="2299" cy="866.5" r="6.1"/><circle cx="2299.3" cy="762" r="6.1"/><circle cx="2300.2" cy="881" r="6.1"/><circle cx="2300.2" cy="772.6" r="6.1"/><circle cx="2300.5" cy="623.3" r="6.1"/><circle cx="2301.4" cy="724.3" r="6.1"/><circle cx="2301.6" cy="750.1" r="6.1"/><circle cx="2302.2" cy="760.7" r="6.1"/><circle cx="2302.8" cy="702.6" r="6.1"/><circle cx="2303.1" cy="756.7" r="6.1"/><circle cx="2303.8" cy="743.2" r="6.1"/><circle cx="2304.6" cy="690.1" r="6.1"/><circle cx="2305.4" cy="669" r="6.1"/><circle cx="2310.3" cy="721.4" r="6.1"/><circle cx="2311" cy="735.3" r="6.1"/><circle cx="2311" cy="779.1" r="6.1"/><circle cx="2311.1" cy="793.9" r="6.1"/><circle cx="2311.3" cy="850.1" r="6.1"/><circle cx="2313.3" cy="902.3" r="6.1"/><circle cx="2313.8" cy="811" r="6.1"/><circle cx="2314.3" cy="781.5" r="6.1"/><circle cx="2314.9" cy="724.8" r="6.1"/><circle cx="2315" cy="790.5" r="6.1"/><circle cx="2316.9" cy="810.3" r="6.1"/><circle cx="2317.1" cy="738.9" r="6.1"/><circle cx="2317.5" cy="801.6" r="6.1"/><circle cx="2318" cy="878.3" r="6.1"/><circle cx="2318.4" cy="598.2" r="6.1"/><circle cx="2318.8" cy="793.4" r="6.1"/><circle cx="2319.8" cy="807.2" r="6.1"/><circle cx="2320.3" cy="640.6" r="6.1"/><circle cx="2320.5" cy="743.5" r="6.1"/><circle cx="2321.1" cy="699.2" r="6.1"/><circle cx="2322.3" cy="775.8" r="6.1"/><circle cx="2322.8" cy="690.1" r="6.1"/><circle cx="2322.8" cy="837.2" r="6.1"/><circle cx="2322.9" cy="867.5" r="6.1"/><circle cx="2323.7" cy="772.5" r="6.1"/><circle cx="2324" cy="714.5" r="6.1"/><circle cx="2324.1" cy="658.4" r="6.1"/><circle cx="2324.8" cy="801.4" r="6.1"/><circle cx="2325.7" cy="813.6" r="6.1"/><circle cx="2326" cy="830.8" r="6.1"/><circle cx="2327.4" cy="630.7" r="6.1"/><circle cx="2327.7" cy="757.4" r="6.1"/><circle cx="2328.1" cy="826.6" r="6.1"/><circle cx="2328.8" cy="831.4" r="6.1"/><circle cx="2329.7" cy="816.3" r="6.1"/><circle cx="2329.8" cy="707.8" r="6.1"/><circle cx="2330.3" cy="799" r="6.1"/><circle cx="2330.8" cy="735" r="6.1"/><circle cx="2331.5" cy="627.9" r="6.1"/><circle cx="2331.6" cy="624.8" r="6.1"/><circle cx="2331.9" cy="786.2" r="6.1"/><circle cx="2331.9" cy="668.3" r="6.1"/><circle cx="2332.4" cy="624.2" r="6.1"/><circle cx="2332.6" cy="631.1" r="6.1"/><circle cx="2333.3" cy="834.2" r="6.1"/><circle cx="2333.7" cy="631.9" r="6.1"/><circle cx="2334.3" cy="761.7" r="6.1"/><circle cx="2335.3" cy="812.1" r="6.1"/><circle cx="2336.5" cy="730.3" r="6.1"/><circle cx="2336.6" cy="828.1" r="6.1"/><circle cx="2338.1" cy="810.6" r="6.1"/><circle cx="2338.9" cy="808.7" r="6.1"/><circle cx="2338.9" cy="799.4" r="6.1"/><circle cx="2339.2" cy="845.1" r="6.1"/><circle cx="2339.9" cy="825.4" r="6.1"/><circle cx="2340.8" cy="580.6" r="6.1"/><circle cx="2340.8" cy="810.3" r="6.1"/><circle cx="2342.1" cy="785.3" r="6.1"/><circle cx="2343" cy="624.2" r="6.1"/><circle cx="2343" cy="812.2" r="6.1"/><circle cx="2343.1" cy="782.6" r="6.1"/><circle cx="2343.4" cy="797.5" r="6.1"/><circle cx="2344.1" cy="805.3" r="6.1"/><circle cx="2344.2" cy="799.3" r="6.1"/><circle cx="2344.3" cy="844.8" r="6.1"/><circle cx="2344.4" cy="769.5" r="6.1"/><circle cx="2344.7" cy="697.1" r="6.1"/><circle cx="2346.3" cy="791" r="6.1"/><circle cx="2346.6" cy="857.8" r="6.1"/><circle cx="2346.7" cy="704.8" r="6.1"/><circle cx="2346.8" cy="736" r="6.1"/><circle cx="2348.1" cy="788.8" r="6.1"/><circle cx="2350.9" cy="731" r="6.1"/><circle cx="2353" cy="779.7" r="6.1"/><circle cx="2354.2" cy="640.8" r="6.1"/><circle cx="2354.5" cy="850.9" r="6.1"/><circle cx="2355" cy="743.7" r="6.1"/><circle cx="2355.1" cy="665.6" r="6.1"/><circle cx="2356.1" cy="794.8" r="6.1"/><circle cx="2357.6" cy="772.7" r="6.1"/><circle cx="2358.1" cy="736.5" r="6.1"/><circle cx="2359" cy="720.4" r="6.1"/><circle cx="2359.3" cy="852.2" r="6.1"/><circle cx="2359.4" cy="740.4" r="6.1"/><circle cx="2360.1" cy="722.1" r="6.1"/><circle cx="2360.4" cy="766.8" r="6.1"/><circle cx="2360.9" cy="711.6" r="6.1"/><circle cx="2362.1" cy="798.4" r="6.1"/><circle cx="2362.7" cy="717.5" r="6.1"/><circle cx="2363.3" cy="860" r="6.1"/><circle cx="2363.8" cy="829.5" r="6.1"/><circle cx="2365.7" cy="892.1" r="6.1"/><circle cx="2366" cy="853.3" r="6.1"/><circle cx="2366" cy="710.2" r="6.1"/><circle cx="2366.7" cy="854.5" r="6.1"/><circle cx="2367.2" cy="739.3" r="6.1"/><circle cx="2367.7" cy="798.9" r="6.1"/><circle cx="2368.1" cy="846.9" r="6.1"/><circle cx="2368.6" cy="884.8" r="6.1"/><circle cx="2369.2" cy="800.4" r="6.1"/><circle cx="2371.4" cy="656.8" r="6.1"/><circle cx="2373.3" cy="803" r="6.1"/><circle cx="2374.1" cy="794.1" r="6.1"/><circle cx="2374.5" cy="874.3" r="6.1"/><circle cx="2374.5" cy="848.9" r="6.1"/><circle cx="2374.6" cy="769.6" r="6.1"/><circle cx="2374.8" cy="751.9" r="6.1"/><circle cx="2375" cy="826.8" r="6.1"/><circle cx="2375.7" cy="788.1" r="6.1"/><circle cx="2376" cy="880.8" r="6.1"/><circle cx="2376.6" cy="817.3" r="6.1"/><circle cx="2376.7" cy="737.6" r="6.1"/><circle cx="2376.9" cy="687.5" r="6.1"/><circle cx="2378.5" cy="764.1" r="6.1"/><circle cx="2378.7" cy="844" r="6.1"/><circle cx="2379.5" cy="876.4" r="6.1"/><circle cx="2379.8" cy="758.7" r="6.1"/><circle cx="2380" cy="852.5" r="6.1"/><circle cx="2380.4" cy="775.7" r="6.1"/><circle cx="2381.3" cy="875" r="6.1"/><circle cx="2382.2" cy="756.4" r="6.1"/><circle cx="2383.3" cy="814.6" r="6.1"/><circle cx="2386.6" cy="881.3" r="6.1"/><circle cx="2388.3" cy="899.3" r="6.1"/><circle cx="2389.2" cy="748" r="6.1"/><circle cx="2390.6" cy="761.6" r="6.1"/><circle cx="2392.1" cy="821.7" r="6.1"/><circle cx="2393.1" cy="896.1" r="6.1"/><circle cx="2393.4" cy="836.3" r="6.1"/><circle cx="2394.1" cy="877.3" r="6.1"/><circle cx="2394.6" cy="777.5" r="6.1"/><circle cx="2395.5" cy="905.8" r="6.1"/><circle cx="2396.1" cy="802.6" r="6.1"/><circle cx="2398.1" cy="848.8" r="6.1"/><circle cx="2398.6" cy="726.5" r="6.1"/><circle cx="2399.2" cy="854.4" r="6.1"/><circle cx="2399.3" cy="900.2" r="6.1"/><circle cx="2403.4" cy="822.1" r="6.1"/><circle cx="2405.2" cy="804.8" r="6.1"/><circle cx="2405.4" cy="756.3" r="6.1"/><circle cx="2407.4" cy="741.6" r="6.1"/><circle cx="2408" cy="726" r="6.1"/><circle cx="2408.4" cy="759.1" r="6.1"/><circle cx="2409.3" cy="905.3" r="6.1"/><circle cx="2410.1" cy="794.7" r="6.1"/><circle cx="2410.6" cy="896.7" r="6.1"/><circle cx="2410.7" cy="762.7" r="6.1"/><circle cx="2412.2" cy="877.1" r="6.1"/><circle cx="2412.7" cy="873.4" r="6.1"/><circle cx="2413.4" cy="787.1" r="6.1"/><circle cx="2414.2" cy="864.6" r="6.1"/><circle cx="2414.8" cy="749.6" r="6.1"/><circle cx="2418.4" cy="722.3" r="6.1"/><circle cx="2419.1" cy="780.5" r="6.1"/><circle cx="2419.4" cy="797.5" r="6.1"/><circle cx="2419.7" cy="869.5" r="6.1"/><circle cx="2426.3" cy="873.9" r="6.1"/><circle cx="2429.9" cy="862.8" r="6.1"/><circle cx="2431" cy="878.9" r="6.1"/><circle cx="2431.1" cy="881.4" r="6.1"/><circle cx="2433.1" cy="885.8" r="6.1"/><circle cx="2434.5" cy="806.6" r="6.1"/><circle cx="2436.9" cy="867.9" r="6.1"/><circle cx="2441.1" cy="758.4" r="6.1"/><circle cx="2444.3" cy="805.8" r="6.1"/><circle cx="2445.5" cy="800.2" r="6.1"/><circle cx="2446.9" cy="864" r="6.1"/><circle cx="2447.4" cy="846.7" r="6.1"/><circle cx="2448.6" cy="870.4" r="6.1"/><circle cx="2449.3" cy="725.4" r="6.1"/><circle cx="2454.4" cy="855.5" r="6.1"/><circle cx="2454.7" cy="861.9" r="6.1"/><circle cx="2457.8" cy="841.8" r="6.1"/><circle cx="2458.5" cy="739.4" r="6.1"/><circle cx="2115.4" cy="707.3" r="6.1"/><circle cx="2104.4" cy="760.1" r="6.1"/><circle cx="2117.6" cy="784.5" r="6.1"/><circle cx="2105.4" cy="822.2" r="6.1"/><circle cx="2137.4" cy="877.2" r="6.1"/><circle cx="2153.7" cy="734" r="6.1"/><circle cx="2376" cy="520.8" r="6.1"/><circle cx="2397.1" cy="586.7" r="6.1"/><circle cx="2428.5" cy="666.5" r="6.1"/><circle cx="2097.2" cy="465.6" r="6.1"/><circle cx="2139.6" cy="449.9" r="6.1"/><circle cx="2139" cy="461.2" r="6.1"/><circle cx="2183.6" cy="454.9" r="6.1"/><circle cx="2233.2" cy="478.1" r="6.1"/><circle cx="2184.5" cy="894.1" r="6.1"/><circle cx="2205.5" cy="883.1" r="6.1"/></g>
<path d="M1919.9 446.2L2459.1 851.9" stroke="#1f49a5" stroke-width="6" stroke-linecap="butt" fill="none"/>
</g>
<rect x="1893.8" y="391.2" width="590.9" height="538.5" fill="none" stroke="#111" stroke-width="2.5"/>
<text x="1933.6" y="968.2" font-family='"Liberation Sans", sans-serif' font-size="30" font-weight="normal" fill="#1c1c1c" text-anchor="middle" >-4</text>
<text x="2088.1" y="968.2" font-family='"Liberation Sans", sans-serif' font-size="30" font-weight="normal" fill="#1c1c1c" text-anchor="middle" >-2</text>
<text x="2233.6" y="968.2" font-family='"Liberation Sans", sans-serif' font-size="30" font-weight="normal" fill="#1c1c1c" text-anchor="middle" >0</text>
<text x="2384.1" y="968.2" font-family='"Liberation Sans", sans-serif' font-size="30" font-weight="normal" fill="#1c1c1c" text-anchor="middle" >2</text>
<text x="1823.5" y="424.2" font-family='"Liberation Sans", sans-serif' font-size="30" font-weight="normal" fill="#1c1c1c" text-anchor="start"  textLength="57" lengthAdjust="spacingAndGlyphs">1.00</text>
<text x="1823.5" y="552.1" font-family='"Liberation Sans", sans-serif' font-size="30" font-weight="normal" fill="#1c1c1c" text-anchor="start"  textLength="57" lengthAdjust="spacingAndGlyphs">0.75</text>
<text x="1823.5" y="678.1" font-family='"Liberation Sans", sans-serif' font-size="30" font-weight="normal" fill="#1c1c1c" text-anchor="start"  textLength="57" lengthAdjust="spacingAndGlyphs">0.50</text>
<text x="1823.5" y="804" font-family='"Liberation Sans", sans-serif' font-size="30" font-weight="normal" fill="#1c1c1c" text-anchor="start"  textLength="57" lengthAdjust="spacingAndGlyphs">0.25</text>
<text x="1823.5" y="929.5" font-family='"Liberation Sans", sans-serif' font-size="30" font-weight="normal" fill="#1c1c1c" text-anchor="start"  textLength="57" lengthAdjust="spacingAndGlyphs">0.00</text>
<path d="M1939.6 929.7v5.5M2086.1 929.7v5.5M2232.6 929.7v5.5M2379.1 929.7v5.5M1893.8 416.9h-5.5M1893.8 542.9h-5.5M1893.8 668.8h-5.5M1893.8 794.8h-5.5M1893.8 920.7h-5.5" stroke="#222" stroke-width="4" fill="none"/>
<text x="1992" y="1021" font-family='"Liberation Sans", sans-serif' font-size="36" font-weight="bold" fill="#151515" text-anchor="start"  textLength="416" lengthAdjust="spacingAndGlyphs">NLRC5 mRNA expresson</text>
<text transform="translate(1809.5 846.3) rotate(-90)" font-family='"Liberation Sans", sans-serif' font-size="36" font-weight="bold" fill="#151515" textLength="364" lengthAdjust="spacingAndGlyphs">β value of cg07839457</text>
<text x="2127" y="435.8" font-family='"Liberation Sans", sans-serif' font-size="35" font-weight="normal" fill="#d3242a" text-anchor="start"  textLength="333" lengthAdjust="spacingAndGlyphs">R = -0.64, P &lt; 0.0001</text>
</g>
<g id="panelE">
<text x="1056.5" y="1164.3" font-family='"Liberation Sans", sans-serif' font-size="46.3" font-weight="bold" fill="#000" text-anchor="start"  textLength="29.9" lengthAdjust="spacingAndGlyphs">E</text>
<rect x="1153.5" y="1201.5" width="592.2" height="538" fill="#fff"/>
<clipPath id="cp3"><rect x="1153.5" y="1201.5" width="592.2" height="538"/></clipPath>
<g clip-path="url(#cp3)">
<path d="M1272.5 1201.5V1739.5M1419.3 1201.5V1739.5M1566.1 1201.5V1739.5M1712.9 1201.5V1739.5M1153.5 1784.8H1745.7M1153.5 1648.2H1745.7M1153.5 1511.6H1745.7M1153.5 1375H1745.7M1153.5 1238.4H1745.7" stroke="#ebebeb" stroke-width="1.2800000000000002" fill="none"/>
<path d="M1199.1 1201.5V1739.5M1345.9 1201.5V1739.5M1492.7 1201.5V1739.5M1639.5 1201.5V1739.5M1153.5 1306.7H1745.7M1153.5 1443.3H1745.7M1153.5 1579.9H1745.7M1153.5 1716.5H1745.7" stroke="#e3e3e3" stroke-width="2.4000000000000004" fill="none"/>
<polygon points="1179.5,1270.8 1197.4,1285.4 1215.4,1299.9 1233.3,1314.5 1251.2,1329.1 1269.2,1343.7 1287.1,1358.2 1305,1372.8 1322.9,1387.4 1340.9,1401.9 1358.8,1416.5 1376.7,1431 1394.7,1445.6 1412.6,1460.1 1430.5,1474.6 1448.5,1489.1 1466.4,1503.5 1484.3,1517.9 1502.2,1532.1 1520.2,1546 1538.1,1559.5 1556,1572.3 1574,1584.7 1591.9,1596.7 1609.8,1608.6 1627.8,1620.4 1645.7,1632.1 1663.6,1643.8 1681.5,1655.5 1699.5,1667.2 1717.4,1678.9 1717.4,1709.1 1699.5,1694.6 1681.5,1680.1 1663.6,1665.5 1645.7,1651 1627.8,1636.6 1609.8,1622.1 1591.9,1607.8 1574,1593.7 1556,1579.8 1538.1,1566.5 1520.2,1553.7 1502.2,1541.5 1484.3,1529.5 1466.4,1517.6 1448.5,1505.8 1430.5,1494.1 1412.6,1482.4 1394.7,1470.7 1376.7,1459 1358.8,1447.4 1340.9,1435.7 1322.9,1424.1 1305,1412.4 1287.1,1400.8 1269.2,1389.2 1251.2,1377.5 1233.3,1365.9 1215.4,1354.3 1197.4,1342.7 1179.5,1331" fill="#999" fill-opacity="0.36"/>
<g fill="#000" fill-opacity="0.41"><circle cx="1180.5" cy="1560" r="6.1"/><circle cx="1192.4" cy="1261.4" r="6.1"/><circle cx="1206.5" cy="1407.4" r="6.1"/><circle cx="1221" cy="1241.3" r="6.1"/><circle cx="1228.5" cy="1263.9" r="6.1"/><circle cx="1229.4" cy="1468" r="6.1"/><circle cx="1252" cy="1286.5" r="6.1"/><circle cx="1256.8" cy="1241.3" r="6.1"/><circle cx="1259.3" cy="1538.7" r="6.1"/><circle cx="1263" cy="1259.9" r="6.1"/><circle cx="1280.3" cy="1278.7" r="6.1"/><circle cx="1284.4" cy="1443.8" r="6.1"/><circle cx="1287.5" cy="1250.1" r="6.1"/><circle cx="1295.1" cy="1388" r="6.1"/><circle cx="1299.1" cy="1281.8" r="6.1"/><circle cx="1302.6" cy="1401.5" r="6.1"/><circle cx="1311.7" cy="1415.6" r="6.1"/><circle cx="1325.2" cy="1291.2" r="6.1"/><circle cx="1327.4" cy="1362.8" r="6.1"/><circle cx="1332.1" cy="1570.7" r="6.1"/><circle cx="1334.3" cy="1355.9" r="6.1"/><circle cx="1335.2" cy="1351.8" r="6.1"/><circle cx="1340" cy="1229.4" r="6.1"/><circle cx="1343.1" cy="1289.1" r="6.1"/><circle cx="1350" cy="1305.4" r="6.1"/><circle cx="1373.4" cy="1350.7" r="6.1"/><circle cx="1375.5" cy="1285" r="6.1"/><circle cx="1367" cy="1450.4" r="6.1"/><circle cx="1353.5" cy="1461.1" r="6.1"/><circle cx="1353.1" cy="1329.7" r="6.1"/><circle cx="1359.7" cy="1316.1" r="6.1"/><circle cx="1377.2" cy="1560.8" r="6.1"/><circle cx="1355.3" cy="1424.8" r="6.1"/><circle cx="1347.9" cy="1464.9" r="6.1"/><circle cx="1371.8" cy="1506.4" r="6.1"/><circle cx="1382" cy="1399.7" r="6.1"/><circle cx="1368.8" cy="1401.1" r="6.1"/><circle cx="1365.7" cy="1336.1" r="6.1"/><circle cx="1367.6" cy="1402.3" r="6.1"/><circle cx="1348.6" cy="1299.8" r="6.1"/><circle cx="1383.1" cy="1393.4" r="6.1"/><circle cx="1365.7" cy="1366.4" r="6.1"/><circle cx="1358" cy="1416.9" r="6.1"/><circle cx="1365.8" cy="1309.4" r="6.1"/><circle cx="1353.7" cy="1368.7" r="6.1"/><circle cx="1351.9" cy="1390.7" r="6.1"/><circle cx="1356.9" cy="1278.9" r="6.1"/><circle cx="1353.7" cy="1640.5" r="6.1"/><circle cx="1365.7" cy="1622.3" r="6.1"/><circle cx="1349.9" cy="1604.9" r="6.1"/><circle cx="1367.6" cy="1629.1" r="6.1"/><circle cx="1371.8" cy="1646.1" r="6.1"/><circle cx="1387.7" cy="1528.2" r="6.1"/><circle cx="1402.4" cy="1443" r="6.1"/><circle cx="1408.3" cy="1470.5" r="6.1"/><circle cx="1403.2" cy="1451.5" r="6.1"/><circle cx="1404.4" cy="1448.8" r="6.1"/><circle cx="1403.1" cy="1487.5" r="6.1"/><circle cx="1416.8" cy="1356.1" r="6.1"/><circle cx="1393.4" cy="1376.2" r="6.1"/><circle cx="1389.8" cy="1264.1" r="6.1"/><circle cx="1415.5" cy="1227.7" r="6.1"/><circle cx="1409.1" cy="1409.6" r="6.1"/><circle cx="1415.1" cy="1510.5" r="6.1"/><circle cx="1408" cy="1538.3" r="6.1"/><circle cx="1413" cy="1427.6" r="6.1"/><circle cx="1387.1" cy="1538.5" r="6.1"/><circle cx="1396.4" cy="1297.4" r="6.1"/><circle cx="1384.9" cy="1298.4" r="6.1"/><circle cx="1401.7" cy="1451.1" r="6.1"/><circle cx="1404.5" cy="1263.3" r="6.1"/><circle cx="1389.3" cy="1537.3" r="6.1"/><circle cx="1395.9" cy="1247.6" r="6.1"/><circle cx="1418.2" cy="1298.9" r="6.1"/><circle cx="1409" cy="1397.5" r="6.1"/><circle cx="1416" cy="1352" r="6.1"/><circle cx="1413.8" cy="1241.2" r="6.1"/><circle cx="1410.3" cy="1515.1" r="6.1"/><circle cx="1415.1" cy="1589.1" r="6.1"/><circle cx="1416" cy="1610.7" r="6.1"/><circle cx="1389.8" cy="1610.9" r="6.1"/><circle cx="1418.2" cy="1576" r="6.1"/><circle cx="1388.4" cy="1644.3" r="6.1"/><circle cx="1402.4" cy="1665.4" r="6.1"/><circle cx="1387.1" cy="1595.8" r="6.1"/><circle cx="1416.8" cy="1657.9" r="6.1"/><circle cx="1418.3" cy="1606" r="6.1"/><circle cx="1387.7" cy="1587.2" r="6.1"/><circle cx="1435.3" cy="1437.5" r="6.1"/><circle cx="1455.2" cy="1481.6" r="6.1"/><circle cx="1422.9" cy="1410.2" r="6.1"/><circle cx="1447" cy="1377.3" r="6.1"/><circle cx="1424.3" cy="1490.7" r="6.1"/><circle cx="1438" cy="1528.9" r="6.1"/><circle cx="1424.7" cy="1323.7" r="6.1"/><circle cx="1427.4" cy="1580.5" r="6.1"/><circle cx="1428.7" cy="1414.6" r="6.1"/><circle cx="1420.5" cy="1506.3" r="6.1"/><circle cx="1441.9" cy="1492.3" r="6.1"/><circle cx="1444.4" cy="1433.2" r="6.1"/><circle cx="1450.4" cy="1437.6" r="6.1"/><circle cx="1439.9" cy="1450.4" r="6.1"/><circle cx="1443.8" cy="1445.7" r="6.1"/><circle cx="1449.3" cy="1369.9" r="6.1"/><circle cx="1445.1" cy="1360.3" r="6.1"/><circle cx="1444.2" cy="1522.4" r="6.1"/><circle cx="1434.9" cy="1278.7" r="6.1"/><circle cx="1425.3" cy="1492.9" r="6.1"/><circle cx="1445.7" cy="1438.6" r="6.1"/><circle cx="1443" cy="1486.3" r="6.1"/><circle cx="1443" cy="1462.6" r="6.1"/><circle cx="1421.8" cy="1509.4" r="6.1"/><circle cx="1454.1" cy="1423.2" r="6.1"/><circle cx="1437.3" cy="1358.5" r="6.1"/><circle cx="1444.8" cy="1286" r="6.1"/><circle cx="1452.7" cy="1498.8" r="6.1"/><circle cx="1445.1" cy="1502.1" r="6.1"/><circle cx="1427.6" cy="1508.8" r="6.1"/><circle cx="1436.7" cy="1655.1" r="6.1"/><circle cx="1439.9" cy="1632.6" r="6.1"/><circle cx="1444.2" cy="1633" r="6.1"/><circle cx="1452.7" cy="1665.7" r="6.1"/><circle cx="1434.9" cy="1608.3" r="6.1"/><circle cx="1447" cy="1613" r="6.1"/><circle cx="1443" cy="1670" r="6.1"/><circle cx="1443" cy="1622.9" r="6.1"/><circle cx="1421.9" cy="1592.4" r="6.1"/><circle cx="1427.4" cy="1588.2" r="6.1"/><circle cx="1428.2" cy="1643.1" r="6.1"/><circle cx="1441.9" cy="1607.1" r="6.1"/><circle cx="1427.6" cy="1656.4" r="6.1"/><circle cx="1422.9" cy="1670.1" r="6.1"/><circle cx="1455" cy="1648.7" r="6.1"/><circle cx="1484.1" cy="1515.7" r="6.1"/><circle cx="1481.9" cy="1419.9" r="6.1"/><circle cx="1457" cy="1408.5" r="6.1"/><circle cx="1490.7" cy="1342.6" r="6.1"/><circle cx="1458.9" cy="1541.5" r="6.1"/><circle cx="1489.7" cy="1287.5" r="6.1"/><circle cx="1465.2" cy="1487.3" r="6.1"/><circle cx="1469.7" cy="1527.1" r="6.1"/><circle cx="1464.9" cy="1380.3" r="6.1"/><circle cx="1457.8" cy="1569.9" r="6.1"/><circle cx="1469.2" cy="1475.4" r="6.1"/><circle cx="1470.5" cy="1375.6" r="6.1"/><circle cx="1469" cy="1289.9" r="6.1"/><circle cx="1469.2" cy="1486.7" r="6.1"/><circle cx="1487.4" cy="1476.3" r="6.1"/><circle cx="1490.2" cy="1336.3" r="6.1"/><circle cx="1458.4" cy="1517.6" r="6.1"/><circle cx="1480.3" cy="1467.3" r="6.1"/><circle cx="1488.5" cy="1319.2" r="6.1"/><circle cx="1492.6" cy="1340.3" r="6.1"/><circle cx="1464.9" cy="1403.8" r="6.1"/><circle cx="1459.8" cy="1416.1" r="6.1"/><circle cx="1476.3" cy="1404.1" r="6.1"/><circle cx="1479.9" cy="1338.7" r="6.1"/><circle cx="1472.2" cy="1379.8" r="6.1"/><circle cx="1488.6" cy="1551.8" r="6.1"/><circle cx="1488.9" cy="1305" r="6.1"/><circle cx="1481.7" cy="1559.4" r="6.1"/><circle cx="1483.1" cy="1421.1" r="6.1"/><circle cx="1466.3" cy="1506.7" r="6.1"/><circle cx="1490.9" cy="1398.6" r="6.1"/><circle cx="1460.2" cy="1311.2" r="6.1"/><circle cx="1489.5" cy="1285.1" r="6.1"/><circle cx="1486.4" cy="1371.6" r="6.1"/><circle cx="1492.4" cy="1311.4" r="6.1"/><circle cx="1482.3" cy="1626.6" r="6.1"/><circle cx="1487.4" cy="1597.8" r="6.1"/><circle cx="1465.2" cy="1669.8" r="6.1"/><circle cx="1463.3" cy="1647.5" r="6.1"/><circle cx="1465.8" cy="1625.4" r="6.1"/><circle cx="1477.5" cy="1659.7" r="6.1"/><circle cx="1492.6" cy="1612" r="6.1"/><circle cx="1481.7" cy="1648.4" r="6.1"/><circle cx="1482.2" cy="1653.2" r="6.1"/><circle cx="1470.6" cy="1654.2" r="6.1"/><circle cx="1469.2" cy="1642.5" r="6.1"/><circle cx="1466.3" cy="1621.5" r="6.1"/><circle cx="1490.7" cy="1619.6" r="6.1"/><circle cx="1483.2" cy="1658.9" r="6.1"/><circle cx="1463.5" cy="1634.3" r="6.1"/><circle cx="1470.5" cy="1666.2" r="6.1"/><circle cx="1484.8" cy="1603.1" r="6.1"/><circle cx="1469.3" cy="1633.8" r="6.1"/><circle cx="1469.7" cy="1654.4" r="6.1"/><circle cx="1460.2" cy="1640.3" r="6.1"/><circle cx="1476.7" cy="1628.3" r="6.1"/><circle cx="1506.6" cy="1394.9" r="6.1"/><circle cx="1492.9" cy="1321.6" r="6.1"/><circle cx="1509.4" cy="1308.7" r="6.1"/><circle cx="1508.6" cy="1531.6" r="6.1"/><circle cx="1502.7" cy="1469.2" r="6.1"/><circle cx="1507.9" cy="1369.9" r="6.1"/><circle cx="1515.2" cy="1394.5" r="6.1"/><circle cx="1509.7" cy="1393.5" r="6.1"/><circle cx="1509.6" cy="1455" r="6.1"/><circle cx="1500.3" cy="1389" r="6.1"/><circle cx="1523.1" cy="1467.7" r="6.1"/><circle cx="1493.3" cy="1416" r="6.1"/><circle cx="1509.1" cy="1510.1" r="6.1"/><circle cx="1498.4" cy="1526.6" r="6.1"/><circle cx="1517" cy="1421.2" r="6.1"/><circle cx="1522.5" cy="1482.3" r="6.1"/><circle cx="1516.2" cy="1370.1" r="6.1"/><circle cx="1496" cy="1406" r="6.1"/><circle cx="1515.4" cy="1502.2" r="6.1"/><circle cx="1522.7" cy="1483.9" r="6.1"/><circle cx="1515.4" cy="1664.7" r="6.1"/><circle cx="1497.7" cy="1647.9" r="6.1"/><circle cx="1526.8" cy="1602.4" r="6.1"/><circle cx="1525.9" cy="1628.9" r="6.1"/><circle cx="1524.8" cy="1649" r="6.1"/><circle cx="1520.2" cy="1630.1" r="6.1"/><circle cx="1495.4" cy="1646.5" r="6.1"/><circle cx="1493.1" cy="1636.4" r="6.1"/><circle cx="1506.5" cy="1614.4" r="6.1"/><circle cx="1516.2" cy="1660.7" r="6.1"/><circle cx="1529.3" cy="1650.8" r="6.1"/><circle cx="1504.1" cy="1630.3" r="6.1"/><circle cx="1511.8" cy="1651.5" r="6.1"/><circle cx="1516.7" cy="1662.7" r="6.1"/><circle cx="1522.7" cy="1659.3" r="6.1"/><circle cx="1509.6" cy="1637.7" r="6.1"/><circle cx="1509.4" cy="1678.3" r="6.1"/><circle cx="1496" cy="1639.9" r="6.1"/><circle cx="1520" cy="1623.2" r="6.1"/><circle cx="1509.1" cy="1603.9" r="6.1"/><circle cx="1493.5" cy="1668.2" r="6.1"/><circle cx="1525.3" cy="1655.3" r="6.1"/><circle cx="1518.2" cy="1621.6" r="6.1"/><circle cx="1510" cy="1600.9" r="6.1"/><circle cx="1518.4" cy="1647.4" r="6.1"/><circle cx="1501.3" cy="1648.5" r="6.1"/><circle cx="1507" cy="1631.7" r="6.1"/><circle cx="1496.8" cy="1634.8" r="6.1"/><circle cx="1519.9" cy="1630.7" r="6.1"/><circle cx="1526.8" cy="1660.1" r="6.1"/><circle cx="1512.3" cy="1638.5" r="6.1"/><circle cx="1509.7" cy="1624" r="6.1"/><circle cx="1523.1" cy="1653.9" r="6.1"/><circle cx="1522.5" cy="1600.7" r="6.1"/><circle cx="1506.6" cy="1624" r="6.1"/><circle cx="1509.6" cy="1621.4" r="6.1"/><circle cx="1509.4" cy="1602.7" r="6.1"/><circle cx="1499.7" cy="1681.4" r="6.1"/><circle cx="1507.9" cy="1629.5" r="6.1"/><circle cx="1508.6" cy="1684.9" r="6.1"/><circle cx="1515.9" cy="1605.3" r="6.1"/><circle cx="1520.7" cy="1608.5" r="6.1"/><circle cx="1501.1" cy="1660.3" r="6.1"/><circle cx="1515.4" cy="1671.9" r="6.1"/><circle cx="1501.1" cy="1617.6" r="6.1"/><circle cx="1560.5" cy="1557.2" r="6.1"/><circle cx="1563.8" cy="1523.2" r="6.1"/><circle cx="1557.9" cy="1553.8" r="6.1"/><circle cx="1547.5" cy="1533.7" r="6.1"/><circle cx="1532.5" cy="1461" r="6.1"/><circle cx="1534.3" cy="1587.4" r="6.1"/><circle cx="1559.3" cy="1444.4" r="6.1"/><circle cx="1565.4" cy="1458.7" r="6.1"/><circle cx="1530.4" cy="1446.9" r="6.1"/><circle cx="1539.4" cy="1436.9" r="6.1"/><circle cx="1562.2" cy="1524.2" r="6.1"/><circle cx="1530.4" cy="1512" r="6.1"/><circle cx="1532.4" cy="1497.5" r="6.1"/><circle cx="1550" cy="1629" r="6.1"/><circle cx="1562.8" cy="1665.7" r="6.1"/><circle cx="1562.2" cy="1614.8" r="6.1"/><circle cx="1554.5" cy="1655.1" r="6.1"/><circle cx="1542.1" cy="1654.1" r="6.1"/><circle cx="1550.9" cy="1613.6" r="6.1"/><circle cx="1560.5" cy="1641" r="6.1"/><circle cx="1551.1" cy="1626.1" r="6.1"/><circle cx="1561.4" cy="1614.6" r="6.1"/><circle cx="1563.8" cy="1629.8" r="6.1"/><circle cx="1539.4" cy="1633.2" r="6.1"/><circle cx="1555.3" cy="1638.7" r="6.1"/><circle cx="1532.2" cy="1626.1" r="6.1"/><circle cx="1548" cy="1655" r="6.1"/><circle cx="1551.7" cy="1680.7" r="6.1"/><circle cx="1544.4" cy="1631.6" r="6.1"/><circle cx="1556.6" cy="1659.7" r="6.1"/><circle cx="1551.1" cy="1586.3" r="6.1"/><circle cx="1560.2" cy="1650.6" r="6.1"/><circle cx="1541.4" cy="1620.9" r="6.1"/><circle cx="1559.3" cy="1637.8" r="6.1"/><circle cx="1536.4" cy="1641.4" r="6.1"/><circle cx="1557.9" cy="1674.5" r="6.1"/><circle cx="1535" cy="1625.7" r="6.1"/><circle cx="1561.6" cy="1604.8" r="6.1"/><circle cx="1552.1" cy="1655.8" r="6.1"/><circle cx="1537.5" cy="1671.9" r="6.1"/><circle cx="1544.3" cy="1638.1" r="6.1"/><circle cx="1539" cy="1629.3" r="6.1"/><circle cx="1544.8" cy="1645" r="6.1"/><circle cx="1565.4" cy="1626.4" r="6.1"/><circle cx="1530.4" cy="1647.6" r="6.1"/><circle cx="1534.3" cy="1594.7" r="6.1"/><circle cx="1534.8" cy="1650.1" r="6.1"/><circle cx="1558.1" cy="1617.2" r="6.1"/><circle cx="1557.6" cy="1621" r="6.1"/><circle cx="1542.3" cy="1632.5" r="6.1"/><circle cx="1540.4" cy="1630.3" r="6.1"/><circle cx="1547.5" cy="1671.7" r="6.1"/><circle cx="1542.4" cy="1645.8" r="6.1"/><circle cx="1530.8" cy="1594.7" r="6.1"/><circle cx="1530.4" cy="1660.9" r="6.1"/><circle cx="1538.5" cy="1682.1" r="6.1"/><circle cx="1559" cy="1619.8" r="6.1"/><circle cx="1539.3" cy="1661.8" r="6.1"/><circle cx="1598.1" cy="1502.8" r="6.1"/><circle cx="1578.4" cy="1464.3" r="6.1"/><circle cx="1582.3" cy="1534.9" r="6.1"/><circle cx="1582.9" cy="1433.3" r="6.1"/><circle cx="1591.5" cy="1523.9" r="6.1"/><circle cx="1589.7" cy="1438" r="6.1"/><circle cx="1588.1" cy="1473.4" r="6.1"/><circle cx="1602.1" cy="1514.6" r="6.1"/><circle cx="1591.9" cy="1557.8" r="6.1"/><circle cx="1590.8" cy="1461" r="6.1"/><circle cx="1582.8" cy="1507.5" r="6.1"/><circle cx="1596.5" cy="1471.6" r="6.1"/><circle cx="1582.9" cy="1646.2" r="6.1"/><circle cx="1600.8" cy="1644.2" r="6.1"/><circle cx="1578" cy="1641.5" r="6.1"/><circle cx="1582.8" cy="1670.4" r="6.1"/><circle cx="1599.9" cy="1638.2" r="6.1"/><circle cx="1582.3" cy="1657.5" r="6.1"/><circle cx="1590.8" cy="1612.1" r="6.1"/><circle cx="1571.3" cy="1618" r="6.1"/><circle cx="1584.8" cy="1633.1" r="6.1"/><circle cx="1603" cy="1641.9" r="6.1"/><circle cx="1598.1" cy="1646.5" r="6.1"/><circle cx="1571" cy="1622.3" r="6.1"/><circle cx="1582.8" cy="1613.6" r="6.1"/><circle cx="1580.5" cy="1619.2" r="6.1"/><circle cx="1576.9" cy="1623" r="6.1"/><circle cx="1592.4" cy="1649.6" r="6.1"/><circle cx="1589.8" cy="1642.3" r="6.1"/><circle cx="1593.3" cy="1651.2" r="6.1"/><circle cx="1573.3" cy="1659.5" r="6.1"/><circle cx="1588.1" cy="1629.2" r="6.1"/><circle cx="1591.9" cy="1653.3" r="6.1"/><circle cx="1571.1" cy="1609.8" r="6.1"/><circle cx="1596.6" cy="1644.6" r="6.1"/><circle cx="1570.3" cy="1619.4" r="6.1"/><circle cx="1602.1" cy="1646.6" r="6.1"/><circle cx="1584" cy="1613.4" r="6.1"/><circle cx="1578.4" cy="1672.7" r="6.1"/><circle cx="1583.7" cy="1636.1" r="6.1"/><circle cx="1598.9" cy="1603.5" r="6.1"/><circle cx="1574.3" cy="1666.1" r="6.1"/><circle cx="1573.8" cy="1634.7" r="6.1"/><circle cx="1598.9" cy="1634.4" r="6.1"/><circle cx="1586" cy="1653.3" r="6.1"/><circle cx="1577.1" cy="1679.1" r="6.1"/><circle cx="1592.6" cy="1606.1" r="6.1"/><circle cx="1571" cy="1647.7" r="6.1"/><circle cx="1584.1" cy="1640.4" r="6.1"/><circle cx="1588.8" cy="1629.9" r="6.1"/><circle cx="1594.3" cy="1637.9" r="6.1"/><circle cx="1593.7" cy="1620.4" r="6.1"/><circle cx="1590.3" cy="1635" r="6.1"/><circle cx="1591.5" cy="1686.3" r="6.1"/><circle cx="1577.5" cy="1621.9" r="6.1"/><circle cx="1575" cy="1657.6" r="6.1"/><circle cx="1589.7" cy="1655.6" r="6.1"/><circle cx="1579.8" cy="1639.3" r="6.1"/><circle cx="1603" cy="1633.8" r="6.1"/><circle cx="1600.8" cy="1637.5" r="6.1"/><circle cx="1634.5" cy="1514.9" r="6.1"/><circle cx="1606.6" cy="1501.7" r="6.1"/><circle cx="1626" cy="1533.6" r="6.1"/><circle cx="1629.2" cy="1534.9" r="6.1"/><circle cx="1618.1" cy="1648.1" r="6.1"/><circle cx="1606.7" cy="1614.6" r="6.1"/><circle cx="1603.4" cy="1612.1" r="6.1"/><circle cx="1603.1" cy="1639.7" r="6.1"/><circle cx="1626" cy="1625.7" r="6.1"/><circle cx="1634.5" cy="1633.3" r="6.1"/><circle cx="1638.7" cy="1642.3" r="6.1"/><circle cx="1634.6" cy="1653.8" r="6.1"/><circle cx="1622.7" cy="1627.7" r="6.1"/><circle cx="1627.7" cy="1639.5" r="6.1"/><circle cx="1617.6" cy="1628" r="6.1"/><circle cx="1628.6" cy="1661.8" r="6.1"/><circle cx="1620.9" cy="1608.3" r="6.1"/><circle cx="1627.2" cy="1651.7" r="6.1"/><circle cx="1606.3" cy="1621.7" r="6.1"/><circle cx="1635.7" cy="1662.3" r="6.1"/><circle cx="1619" cy="1631.3" r="6.1"/><circle cx="1616.1" cy="1627.5" r="6.1"/><circle cx="1608.1" cy="1631.2" r="6.1"/><circle cx="1636" cy="1631.9" r="6.1"/><circle cx="1604.7" cy="1658.7" r="6.1"/><circle cx="1634.8" cy="1627.3" r="6.1"/><circle cx="1636.7" cy="1659.1" r="6.1"/><circle cx="1619.3" cy="1650.2" r="6.1"/><circle cx="1606.6" cy="1654.8" r="6.1"/><circle cx="1628.1" cy="1596.5" r="6.1"/><circle cx="1638.5" cy="1632.5" r="6.1"/><circle cx="1604.1" cy="1634.9" r="6.1"/><circle cx="1626.7" cy="1654" r="6.1"/><circle cx="1636.9" cy="1663.9" r="6.1"/><circle cx="1629.2" cy="1654.9" r="6.1"/><circle cx="1623.3" cy="1640.6" r="6.1"/><circle cx="1614.2" cy="1659" r="6.1"/><circle cx="1610.9" cy="1640.6" r="6.1"/><circle cx="1604.3" cy="1591.4" r="6.1"/><circle cx="1626" cy="1672.4" r="6.1"/><circle cx="1614.5" cy="1653.3" r="6.1"/><circle cx="1604.2" cy="1624.5" r="6.1"/><circle cx="1623.8" cy="1646.6" r="6.1"/><circle cx="1631.4" cy="1672.6" r="6.1"/><circle cx="1636.6" cy="1650.1" r="6.1"/><circle cx="1604.4" cy="1650" r="6.1"/><circle cx="1613" cy="1665.2" r="6.1"/><circle cx="1619.4" cy="1591.9" r="6.1"/><circle cx="1622.1" cy="1664" r="6.1"/><circle cx="1635" cy="1618.3" r="6.1"/><circle cx="1634.5" cy="1672.9" r="6.1"/><circle cx="1615" cy="1671" r="6.1"/><circle cx="1634.1" cy="1661.8" r="6.1"/><circle cx="1633.3" cy="1651.1" r="6.1"/><circle cx="1625.7" cy="1648.3" r="6.1"/><circle cx="1615.1" cy="1625.5" r="6.1"/><circle cx="1655.5" cy="1568.3" r="6.1"/><circle cx="1648.3" cy="1509.7" r="6.1"/><circle cx="1668.4" cy="1631.9" r="6.1"/><circle cx="1670.6" cy="1616.3" r="6.1"/><circle cx="1650.6" cy="1625.7" r="6.1"/><circle cx="1653.1" cy="1627" r="6.1"/><circle cx="1654.1" cy="1647.9" r="6.1"/><circle cx="1646.6" cy="1624" r="6.1"/><circle cx="1640.4" cy="1605.5" r="6.1"/><circle cx="1648.3" cy="1644.7" r="6.1"/><circle cx="1669.3" cy="1654.6" r="6.1"/><circle cx="1655.5" cy="1617" r="6.1"/><circle cx="1654.6" cy="1640.4" r="6.1"/><circle cx="1674.8" cy="1633.7" r="6.1"/><circle cx="1665.2" cy="1604.3" r="6.1"/><circle cx="1653.4" cy="1625.2" r="6.1"/><circle cx="1656.1" cy="1627.7" r="6.1"/><circle cx="1672.2" cy="1658.4" r="6.1"/><circle cx="1659.2" cy="1634" r="6.1"/><circle cx="1641.3" cy="1598.8" r="6.1"/><circle cx="1670.7" cy="1637.1" r="6.1"/><circle cx="1670.1" cy="1649.2" r="6.1"/><circle cx="1643.3" cy="1628" r="6.1"/><circle cx="1673.4" cy="1659.4" r="6.1"/><circle cx="1701.1" cy="1613.8" r="6.1"/><circle cx="1678.4" cy="1634.1" r="6.1"/><circle cx="1704.3" cy="1640.3" r="6.1"/><circle cx="1679.7" cy="1631.5" r="6.1"/><circle cx="1691.1" cy="1624.1" r="6.1"/><circle cx="1689.9" cy="1630" r="6.1"/><circle cx="1709.3" cy="1634.4" r="6.1"/><circle cx="1718.5" cy="1633" r="6.1"/><circle cx="1707.4" cy="1634.5" r="6.1"/><circle cx="1696.9" cy="1647.7" r="6.1"/><circle cx="1705.5" cy="1630.7" r="6.1"/><circle cx="1717.8" cy="1634.6" r="6.1"/><circle cx="1686.3" cy="1625.4" r="6.1"/><circle cx="1679.1" cy="1621" r="6.1"/><circle cx="1706.9" cy="1638.7" r="6.1"/><circle cx="1636" cy="1369.7" r="6.1"/><circle cx="1657.1" cy="1396.7" r="6.1"/><circle cx="1614.7" cy="1395.8" r="6.1"/><circle cx="1580.1" cy="1395.8" r="6.1"/><circle cx="1688.5" cy="1426.3" r="6.1"/><circle cx="1579.2" cy="1312.6" r="6.1"/><circle cx="1519.9" cy="1283.4" r="6.1"/><circle cx="1493.8" cy="1288.4" r="6.1"/><circle cx="1480.3" cy="1282.8" r="6.1"/><circle cx="1399" cy="1225.6" r="6.1"/><circle cx="1415.3" cy="1239.8" r="6.1"/><circle cx="1465.5" cy="1251.4" r="6.1"/><circle cx="1605.3" cy="1483.1" r="6.1"/><circle cx="1558.2" cy="1494.7" r="6.1"/><circle cx="1617.8" cy="1530.8" r="6.1"/><circle cx="1654.9" cy="1542.7" r="6.1"/><circle cx="1647.6" cy="1552.8" r="6.1"/><circle cx="1685.3" cy="1557.5" r="6.1"/><circle cx="1676.8" cy="1563.1" r="6.1"/><circle cx="1607.5" cy="1564.4" r="6.1"/><circle cx="1655.5" cy="1597.4" r="6.1"/><circle cx="1713.6" cy="1604.6" r="6.1"/><circle cx="1668.1" cy="1609.9" r="6.1"/></g>
<path d="M1179.5 1300.9L1717.4 1694" stroke="#1f49a5" stroke-width="6" stroke-linecap="butt" fill="none"/>
</g>
<rect x="1153.5" y="1201.5" width="592.2" height="538" fill="none" stroke="#111" stroke-width="2.5"/>
<text x="1192.6" y="1778" font-family='"Liberation Sans", sans-serif' font-size="30" font-weight="normal" fill="#1c1c1c" text-anchor="middle" >-4</text>
<text x="1345.9" y="1778" font-family='"Liberation Sans", sans-serif' font-size="30" font-weight="normal" fill="#1c1c1c" text-anchor="middle" >-2</text>
<text x="1491.2" y="1778" font-family='"Liberation Sans", sans-serif' font-size="30" font-weight="normal" fill="#1c1c1c" text-anchor="middle" >0</text>
<text x="1642" y="1778" font-family='"Liberation Sans", sans-serif' font-size="30" font-weight="normal" fill="#1c1c1c" text-anchor="middle" >2</text>
<text x="1085" y="1317.5" font-family='"Liberation Sans", sans-serif' font-size="30" font-weight="normal" fill="#1c1c1c" text-anchor="start"  textLength="57" lengthAdjust="spacingAndGlyphs">0.75</text>
<text x="1085" y="1454.1" font-family='"Liberation Sans", sans-serif' font-size="30" font-weight="normal" fill="#1c1c1c" text-anchor="start"  textLength="57" lengthAdjust="spacingAndGlyphs">0.50</text>
<text x="1085" y="1590.7" font-family='"Liberation Sans", sans-serif' font-size="30" font-weight="normal" fill="#1c1c1c" text-anchor="start"  textLength="57" lengthAdjust="spacingAndGlyphs">0.25</text>
<text x="1085" y="1727.3" font-family='"Liberation Sans", sans-serif' font-size="30" font-weight="normal" fill="#1c1c1c" text-anchor="start"  textLength="57" lengthAdjust="spacingAndGlyphs">0.00</text>
<path d="M1199.1 1739.5v5.5M1345.9 1739.5v5.5M1492.7 1739.5v5.5M1639.5 1739.5v5.5M1153.5 1306.7h-5.5M1153.5 1443.3h-5.5M1153.5 1579.9h-5.5M1153.5 1716.5h-5.5" stroke="#222" stroke-width="4" fill="none"/>
<text x="1229.5" y="1816" font-family='"Liberation Sans", sans-serif' font-size="36" font-weight="bold" fill="#151515" text-anchor="start"  textLength="416" lengthAdjust="spacingAndGlyphs">NLRC5 mRNA expresson</text>
<text transform="translate(1071.8 1640) rotate(-90)" font-family='"Liberation Sans", sans-serif' font-size="36" font-weight="bold" fill="#151515" textLength="364" lengthAdjust="spacingAndGlyphs">β value of cg16411857</text>
<text x="1391.5" y="1248.6" font-family='"Liberation Sans", sans-serif' font-size="35" font-weight="normal" fill="#d3242a" text-anchor="start"  textLength="333" lengthAdjust="spacingAndGlyphs">R = -0.58, P &lt; 0.0001</text>
</g>
<g id="panelF">
<text x="1799.8" y="1176" font-family='"Liberation Sans", sans-serif' font-size="46.3" font-weight="bold" fill="#000" text-anchor="start"  textLength="27.6" lengthAdjust="spacingAndGlyphs">F</text>
<rect x="1900.5" y="1201.3" width="594.5" height="538.2" fill="#fff"/>
<clipPath id="cp4"><rect x="1900.5" y="1201.3" width="594.5" height="538.2"/></clipPath>
<g clip-path="url(#cp4)">
<path d="M2020.2 1201.3V1739.5M2169.3 1201.3V1739.5M2318.5 1201.3V1739.5M2467.6 1201.3V1739.5M1900.5 1723.5H2495M1900.5 1616H2495M1900.5 1508.5H2495M1900.5 1401H2495M1900.5 1293.5H2495M1900.5 1186H2495" stroke="#ebebeb" stroke-width="1.92" fill="none"/>
<path d="M1945.7 1201.3V1739.5M2094.8 1201.3V1739.5M2243.9 1201.3V1739.5M2393 1201.3V1739.5M1900.5 1239.8H2495M1900.5 1347.3H2495M1900.5 1454.8H2495M1900.5 1562.3H2495M1900.5 1669.8H2495" stroke="#e3e3e3" stroke-width="3.5999999999999996" fill="none"/>
<polygon points="1927.5,1503.2 1945.5,1501.8 1963.5,1500.4 1981.5,1498.9 1999.5,1497.5 2017.5,1496.1 2035.5,1494.7 2053.5,1493.2 2071.6,1491.8 2089.6,1490.3 2107.6,1488.9 2125.6,1487.5 2143.6,1486 2161.6,1484.6 2179.6,1483.1 2197.6,1481.6 2215.6,1480.2 2233.6,1478.6 2251.6,1477.1 2269.6,1475.5 2287.6,1473.7 2305.6,1471.8 2323.6,1469.4 2341.7,1466.6 2359.7,1463.4 2377.7,1460.1 2395.7,1456.7 2413.7,1453.2 2431.7,1449.7 2449.7,1446.2 2467.7,1442.7 2467.7,1461.1 2449.7,1462.6 2431.7,1464.1 2413.7,1465.6 2395.7,1467.1 2377.7,1468.7 2359.7,1470.4 2341.7,1472.2 2323.6,1474.4 2305.6,1477 2287.6,1480.1 2269.6,1483.3 2251.6,1486.7 2233.6,1490.2 2215.6,1493.6 2197.6,1497.2 2179.6,1500.7 2161.6,1504.2 2143.6,1507.8 2125.6,1511.3 2107.6,1514.9 2089.6,1518.5 2071.6,1522 2053.5,1525.6 2035.5,1529.1 2017.5,1532.7 1999.5,1536.3 1981.5,1539.9 1963.5,1543.4 1945.5,1547 1927.5,1550.6" fill="#999" fill-opacity="0.36"/>
<g fill="#000" fill-opacity="0.41"><circle cx="1927.4" cy="1647.5" r="6.1"/><circle cx="1938.7" cy="1650.6" r="6.1"/><circle cx="1953.5" cy="1461.1" r="6.1"/><circle cx="1968.6" cy="1451.6" r="6.1"/><circle cx="1976.4" cy="1469.5" r="6.1"/><circle cx="2004.7" cy="1362.2" r="6.1"/><circle cx="2006.9" cy="1458.5" r="6.1"/><circle cx="2010.6" cy="1592.9" r="6.1"/><circle cx="2032.6" cy="1591" r="6.1"/><circle cx="2036.1" cy="1337.1" r="6.1"/><circle cx="2043" cy="1456" r="6.1"/><circle cx="2050.8" cy="1451.6" r="6.1"/><circle cx="2060.2" cy="1715.9" r="6.1"/><circle cx="2074.4" cy="1622.7" r="6.1"/><circle cx="2075.9" cy="1452.9" r="6.1"/><circle cx="2083.5" cy="1558.4" r="6.1"/><circle cx="2088.5" cy="1452.3" r="6.1"/><circle cx="2106.7" cy="1592.9" r="6.1"/><circle cx="2111.1" cy="1584.7" r="6.1"/><circle cx="2113.6" cy="1563.7" r="6.1"/><circle cx="2118.3" cy="1659.4" r="6.1"/><circle cx="2122.4" cy="1354" r="6.1"/><circle cx="2125.5" cy="1581" r="6.1"/><circle cx="2126.8" cy="1489.9" r="6.1"/><circle cx="2127.1" cy="1534.5" r="6.1"/><circle cx="2126.8" cy="1647.8" r="6.1"/><circle cx="2129.9" cy="1665.7" r="6.1"/><circle cx="2141.8" cy="1628.7" r="6.1"/><circle cx="2144.4" cy="1333.9" r="6.1"/><circle cx="2146.6" cy="1635.3" r="6.1"/><circle cx="2147.2" cy="1578.8" r="6.1"/><circle cx="2149.7" cy="1552.1" r="6.1"/><circle cx="2150.3" cy="1674.2" r="6.1"/><circle cx="2151.3" cy="1571.5" r="6.1"/><circle cx="2154.4" cy="1474.9" r="6.1"/><circle cx="2154.4" cy="1502.5" r="6.1"/><circle cx="2162.2" cy="1486.8" r="6.1"/><circle cx="2174.8" cy="1369.7" r="6.1"/><circle cx="2182.7" cy="1589.4" r="6.1"/><circle cx="2184.2" cy="1505.6" r="6.1"/><circle cx="2188.3" cy="1355" r="6.1"/><circle cx="2195.2" cy="1602" r="6.1"/><circle cx="2195.2" cy="1472.7" r="6.1"/><circle cx="2196.8" cy="1344" r="6.1"/><circle cx="2197.4" cy="1433.4" r="6.1"/><circle cx="2197.7" cy="1619.3" r="6.1"/><circle cx="2199" cy="1626.5" r="6.1"/><circle cx="2199.9" cy="1566.8" r="6.1"/><circle cx="2195.2" cy="1649.4" r="6.1"/><circle cx="2201.5" cy="1657.9" r="6.1"/><circle cx="2214" cy="1685.2" r="6.1"/><circle cx="2215.6" cy="1620.2" r="6.1"/><circle cx="2216.6" cy="1606.1" r="6.1"/><circle cx="2217.2" cy="1565.9" r="6.1"/><circle cx="2221.9" cy="1554.9" r="6.1"/><circle cx="2223.5" cy="1564.6" r="6.1"/><circle cx="2223.5" cy="1430.3" r="6.1"/><circle cx="2223.5" cy="1532.9" r="6.1"/><circle cx="2225" cy="1398.9" r="6.1"/><circle cx="2228.2" cy="1519.8" r="6.1"/><circle cx="2231.3" cy="1308.8" r="6.1"/><circle cx="2232.9" cy="1355" r="6.1"/><circle cx="2234.4" cy="1512.8" r="6.1"/><circle cx="2237" cy="1588.2" r="6.1"/><circle cx="2242.3" cy="1616.1" r="6.1"/><circle cx="2243.9" cy="1431.9" r="6.1"/><circle cx="2245.4" cy="1505.6" r="6.1"/><circle cx="2248.6" cy="1399.5" r="6.1"/><circle cx="2248.6" cy="1416.2" r="6.1"/><circle cx="2258" cy="1556.8" r="6.1"/><circle cx="2257.4" cy="1348.7" r="6.1"/><circle cx="2258.9" cy="1592.9" r="6.1"/><circle cx="2259.6" cy="1393.2" r="6.1"/><circle cx="2259.6" cy="1624.9" r="6.1"/><circle cx="2260.2" cy="1583.2" r="6.1"/><circle cx="2269" cy="1372.2" r="6.1"/><circle cx="2269.9" cy="1380.1" r="6.1"/><circle cx="2271.5" cy="1570.6" r="6.1"/><circle cx="2272.1" cy="1344.6" r="6.1"/><circle cx="2274.6" cy="1349.6" r="6.1"/><circle cx="2272.1" cy="1438.1" r="6.1"/><circle cx="2273.1" cy="1524.5" r="6.1"/><circle cx="2280" cy="1596" r="6.1"/><circle cx="2280.6" cy="1615.5" r="6.1"/><circle cx="2285.6" cy="1587.2" r="6.1"/><circle cx="2286.2" cy="1423.4" r="6.1"/><circle cx="2286.9" cy="1336.1" r="6.1"/><circle cx="2286.2" cy="1545.5" r="6.1"/><circle cx="2286.2" cy="1563.1" r="6.1"/><circle cx="2291.6" cy="1398" r="6.1"/><circle cx="2295" cy="1532.9" r="6.1"/><circle cx="2296.6" cy="1545.8" r="6.1"/><circle cx="2298.8" cy="1563.7" r="6.1"/><circle cx="2300.4" cy="1560.6" r="6.1"/><circle cx="2303.5" cy="1591.3" r="6.1"/><circle cx="2304.4" cy="1653.8" r="6.1"/><circle cx="2305.1" cy="1532.3" r="6.1"/><circle cx="2316.1" cy="1530.7" r="6.1"/><circle cx="2316.7" cy="1381" r="6.1"/><circle cx="2317.6" cy="1425.6" r="6.1"/><circle cx="2317.6" cy="1550.2" r="6.1"/><circle cx="2317.6" cy="1563.7" r="6.1"/><circle cx="2317.6" cy="1570.6" r="6.1"/><circle cx="2321.4" cy="1585" r="6.1"/><circle cx="2323.9" cy="1378.5" r="6.1"/><circle cx="2329.2" cy="1515.7" r="6.1"/><circle cx="2331.8" cy="1581" r="6.1"/><circle cx="2334.9" cy="1598.2" r="6.1"/><circle cx="2339" cy="1511" r="6.1"/><circle cx="2344.3" cy="1587.9" r="6.1"/><circle cx="2350" cy="1555.2" r="6.1"/><circle cx="2352.8" cy="1408.3" r="6.1"/><circle cx="2360.9" cy="1311.9" r="6.1"/><circle cx="2366.3" cy="1534.8" r="6.1"/><circle cx="2369.4" cy="1520.4" r="6.1"/><circle cx="2374.1" cy="1332" r="6.1"/><circle cx="2374.1" cy="1394.2" r="6.1"/><circle cx="2377.3" cy="1414.6" r="6.1"/><circle cx="2372.6" cy="1434.1" r="6.1"/><circle cx="2403" cy="1548.9" r="6.1"/><circle cx="2404.6" cy="1523.8" r="6.1"/><circle cx="2409.6" cy="1354" r="6.1"/><circle cx="2409.6" cy="1366.9" r="6.1"/><circle cx="2411.2" cy="1511.9" r="6.1"/><circle cx="2424.4" cy="1513.5" r="6.1"/><circle cx="2457.3" cy="1225.6" r="6.1"/><circle cx="2468.3" cy="1427.1" r="6.1"/><circle cx="2251.1" cy="1494.6" r="6.1"/><circle cx="2261.1" cy="1495.3" r="6.1"/><circle cx="2267.4" cy="1488.4" r="6.1"/><circle cx="2273.7" cy="1502.5" r="6.1"/><circle cx="2283.1" cy="1508.8" r="6.1"/><circle cx="2287.2" cy="1490.9" r="6.1"/><circle cx="2294.1" cy="1506.6" r="6.1"/><circle cx="2301.9" cy="1498.4" r="6.1"/><circle cx="2305.1" cy="1493.1" r="6.1"/><circle cx="2313.9" cy="1483.7" r="6.1"/><circle cx="2325.5" cy="1478.9" r="6.1"/><circle cx="2334.9" cy="1477.4" r="6.1"/><circle cx="2336.5" cy="1493.1" r="6.1"/><circle cx="2346.8" cy="1500.3" r="6.1"/><circle cx="2349" cy="1483.7" r="6.1"/><circle cx="2360.9" cy="1483.7" r="6.1"/><circle cx="2372.6" cy="1477.4" r="6.1"/><circle cx="2378.8" cy="1500.9" r="6.1"/><circle cx="2385.1" cy="1485.2" r="6.1"/><circle cx="2388.3" cy="1502.5" r="6.1"/><circle cx="2387.6" cy="1475.8" r="6.1"/><circle cx="2402.4" cy="1468" r="6.1"/><circle cx="2425.9" cy="1473.3" r="6.1"/><circle cx="2319.2" cy="1431.9" r="6.1"/><circle cx="2328.6" cy="1434.1" r="6.1"/><circle cx="2333.3" cy="1439.7" r="6.1"/><circle cx="2271.2" cy="1438.1" r="6.1"/><circle cx="2145" cy="1440.3" r="6.1"/><circle cx="2440.1" cy="1439.7" r="6.1"/><circle cx="2104.2" cy="1466.4" r="6.1"/><circle cx="2360" cy="1442.2" r="6.1"/><circle cx="2098.4" cy="1448.5" r="6.1"/><circle cx="2107.7" cy="1453.1" r="6.1"/><circle cx="2099.1" cy="1453.6" r="6.1"/><circle cx="2105.8" cy="1449.7" r="6.1"/><circle cx="2110.6" cy="1452.1" r="6.1"/><circle cx="2118.6" cy="1453.3" r="6.1"/><circle cx="2121.4" cy="1454.1" r="6.1"/><circle cx="2118.1" cy="1462.8" r="6.1"/><circle cx="2120.6" cy="1446.2" r="6.1"/><circle cx="2120.8" cy="1459.5" r="6.1"/><circle cx="2113.9" cy="1449" r="6.1"/><circle cx="2121" cy="1453.9" r="6.1"/><circle cx="2126.3" cy="1454.3" r="6.1"/><circle cx="2132.7" cy="1461.1" r="6.1"/><circle cx="2139.8" cy="1451.7" r="6.1"/><circle cx="2140.4" cy="1453.8" r="6.1"/><circle cx="2138.8" cy="1459.2" r="6.1"/><circle cx="2132.4" cy="1450.6" r="6.1"/><circle cx="2156.1" cy="1453.6" r="6.1"/><circle cx="2146.8" cy="1456.8" r="6.1"/><circle cx="2159.5" cy="1459.6" r="6.1"/><circle cx="2153.1" cy="1457" r="6.1"/><circle cx="2143.6" cy="1454.2" r="6.1"/><circle cx="2142.6" cy="1447.2" r="6.1"/><circle cx="2154.3" cy="1457.6" r="6.1"/><circle cx="2145.1" cy="1456.8" r="6.1"/><circle cx="2147.1" cy="1455.8" r="6.1"/><circle cx="2142.6" cy="1457.6" r="6.1"/><circle cx="2156.3" cy="1453.6" r="6.1"/><circle cx="2171.4" cy="1446.4" r="6.1"/><circle cx="2172.7" cy="1454" r="6.1"/><circle cx="2165.4" cy="1455.4" r="6.1"/><circle cx="2174.7" cy="1450.5" r="6.1"/><circle cx="2189.4" cy="1465" r="6.1"/><circle cx="2191.5" cy="1458.5" r="6.1"/><circle cx="2190" cy="1452.7" r="6.1"/><circle cx="2184.7" cy="1454.4" r="6.1"/><circle cx="2177.5" cy="1458" r="6.1"/><circle cx="2182.6" cy="1456.2" r="6.1"/><circle cx="2191.5" cy="1458.3" r="6.1"/><circle cx="2176.8" cy="1455.1" r="6.1"/><circle cx="2188" cy="1451.8" r="6.1"/><circle cx="2184.8" cy="1458" r="6.1"/><circle cx="2202.6" cy="1457.6" r="6.1"/><circle cx="2211.5" cy="1460.1" r="6.1"/><circle cx="2213.9" cy="1449.5" r="6.1"/><circle cx="2212.6" cy="1463.3" r="6.1"/><circle cx="2201.2" cy="1452.6" r="6.1"/><circle cx="2212.9" cy="1453.2" r="6.1"/><circle cx="2232.1" cy="1455.4" r="6.1"/><circle cx="2215.4" cy="1457.6" r="6.1"/><circle cx="2220.1" cy="1457" r="6.1"/><circle cx="2214.1" cy="1454.3" r="6.1"/><circle cx="2217.2" cy="1460.3" r="6.1"/><circle cx="2216.2" cy="1454" r="6.1"/><circle cx="2215.5" cy="1449.6" r="6.1"/><circle cx="2215.4" cy="1461.4" r="6.1"/><circle cx="2222.9" cy="1460" r="6.1"/><circle cx="2217.9" cy="1453.7" r="6.1"/><circle cx="2218.9" cy="1460.7" r="6.1"/><circle cx="2214.1" cy="1455" r="6.1"/><circle cx="2216.6" cy="1452.9" r="6.1"/><circle cx="2217.4" cy="1449.9" r="6.1"/><circle cx="2216.3" cy="1458.5" r="6.1"/><circle cx="2231.3" cy="1451.4" r="6.1"/><circle cx="2227.8" cy="1455.6" r="6.1"/><circle cx="2241.9" cy="1448.8" r="6.1"/><circle cx="2234.8" cy="1456.2" r="6.1"/><circle cx="2237.7" cy="1455" r="6.1"/><circle cx="2234.6" cy="1455.4" r="6.1"/><circle cx="2243.1" cy="1451.2" r="6.1"/><circle cx="2258.9" cy="1453.4" r="6.1"/><circle cx="2276.3" cy="1457.3" r="6.1"/><circle cx="2253.5" cy="1454.2" r="6.1"/><circle cx="2248.1" cy="1462.8" r="6.1"/><circle cx="2270.1" cy="1459.8" r="6.1"/><circle cx="2265.7" cy="1455.2" r="6.1"/><circle cx="2257" cy="1454.1" r="6.1"/><circle cx="2261.9" cy="1465" r="6.1"/><circle cx="2263.9" cy="1456.8" r="6.1"/><circle cx="2277.7" cy="1460.2" r="6.1"/><circle cx="2247.3" cy="1453.6" r="6.1"/><circle cx="2244.9" cy="1457.6" r="6.1"/><circle cx="2283.1" cy="1454.8" r="6.1"/><circle cx="2244.8" cy="1461.7" r="6.1"/><circle cx="2281" cy="1458.4" r="6.1"/><circle cx="2275.4" cy="1453.8" r="6.1"/><circle cx="2280.2" cy="1458.6" r="6.1"/><circle cx="2248.4" cy="1462.8" r="6.1"/><circle cx="2259.6" cy="1445.9" r="6.1"/><circle cx="2274.4" cy="1458.3" r="6.1"/><circle cx="2264.8" cy="1456.1" r="6.1"/><circle cx="2246" cy="1464.9" r="6.1"/><circle cx="2263.6" cy="1457.5" r="6.1"/><circle cx="2286.1" cy="1443.2" r="6.1"/><circle cx="2278.2" cy="1460.9" r="6.1"/><circle cx="2279.2" cy="1460.2" r="6.1"/><circle cx="2287.7" cy="1455.6" r="6.1"/><circle cx="2279.8" cy="1461.8" r="6.1"/><circle cx="2258.1" cy="1458" r="6.1"/><circle cx="2267" cy="1456.7" r="6.1"/><circle cx="2287" cy="1455.5" r="6.1"/><circle cx="2279.5" cy="1450" r="6.1"/><circle cx="2242.4" cy="1454.6" r="6.1"/><circle cx="2291.6" cy="1453.5" r="6.1"/><circle cx="2295.5" cy="1452.5" r="6.1"/><circle cx="2298.3" cy="1452.4" r="6.1"/><circle cx="2296.5" cy="1446.5" r="6.1"/><circle cx="2291.2" cy="1452.6" r="6.1"/><circle cx="2310.1" cy="1450.9" r="6.1"/><circle cx="2337.2" cy="1459.3" r="6.1"/><circle cx="2316.3" cy="1453.2" r="6.1"/><circle cx="2328.6" cy="1451.6" r="6.1"/><circle cx="2307.3" cy="1458.4" r="6.1"/><circle cx="2315" cy="1457.1" r="6.1"/><circle cx="2325" cy="1465.6" r="6.1"/><circle cx="2319.1" cy="1455.9" r="6.1"/><circle cx="2313.2" cy="1453.3" r="6.1"/><circle cx="2329.2" cy="1458.9" r="6.1"/><circle cx="2317.8" cy="1453.8" r="6.1"/><circle cx="2332" cy="1459.2" r="6.1"/><circle cx="2327.5" cy="1453.8" r="6.1"/><circle cx="2328" cy="1456.6" r="6.1"/><circle cx="2330.1" cy="1454" r="6.1"/><circle cx="2329.6" cy="1443.7" r="6.1"/><circle cx="2305.9" cy="1445.7" r="6.1"/><circle cx="2306.6" cy="1456.6" r="6.1"/><circle cx="2325" cy="1456.4" r="6.1"/><circle cx="2303.3" cy="1450.5" r="6.1"/><circle cx="2337.7" cy="1455.7" r="6.1"/><circle cx="2345.8" cy="1451.3" r="6.1"/><circle cx="2340" cy="1452.5" r="6.1"/><circle cx="2344.9" cy="1455.6" r="6.1"/><circle cx="2345.8" cy="1456.5" r="6.1"/><circle cx="2382.6" cy="1452" r="6.1"/><circle cx="2385.4" cy="1457.3" r="6.1"/><circle cx="2376.9" cy="1455.2" r="6.1"/><circle cx="2367.9" cy="1446.5" r="6.1"/><circle cx="2360.8" cy="1456.4" r="6.1"/><circle cx="2353.8" cy="1449.5" r="6.1"/><circle cx="2375.8" cy="1445.9" r="6.1"/><circle cx="2387.8" cy="1448.6" r="6.1"/><circle cx="2353.4" cy="1449.7" r="6.1"/><circle cx="2355.3" cy="1459.2" r="6.1"/><circle cx="2370.4" cy="1454" r="6.1"/><circle cx="2380.1" cy="1456.6" r="6.1"/><circle cx="2352.2" cy="1450.5" r="6.1"/><circle cx="2370.5" cy="1458.6" r="6.1"/><circle cx="2365.6" cy="1455.9" r="6.1"/><circle cx="2371.4" cy="1456.6" r="6.1"/><circle cx="2367.3" cy="1459.6" r="6.1"/><circle cx="2381.3" cy="1456.4" r="6.1"/><circle cx="2364.8" cy="1450.3" r="6.1"/><circle cx="2429.8" cy="1448.6" r="6.1"/><circle cx="2430.5" cy="1451.2" r="6.1"/><circle cx="2422.8" cy="1457.1" r="6.1"/><circle cx="2451.2" cy="1454.8" r="6.1"/><circle cx="2456.9" cy="1452.1" r="6.1"/><circle cx="2416.5" cy="1451.6" r="6.1"/><circle cx="2447.6" cy="1459.1" r="6.1"/><circle cx="2450.7" cy="1453.8" r="6.1"/><circle cx="2464.2" cy="1451.8" r="6.1"/><circle cx="2398.2" cy="1454.8" r="6.1"/><circle cx="2439.5" cy="1455.9" r="6.1"/><circle cx="2411.4" cy="1454.9" r="6.1"/><circle cx="2417.4" cy="1462" r="6.1"/><circle cx="2437.6" cy="1453.2" r="6.1"/><circle cx="2438.6" cy="1460.3" r="6.1"/><circle cx="2400" cy="1456.5" r="6.1"/></g>
<path d="M1927.5 1526.9L2467.7 1451.9" stroke="#1f49a5" stroke-width="6" stroke-linecap="butt" fill="none"/>
</g>
<rect x="1900.5" y="1201.3" width="594.5" height="538.2" fill="none" stroke="#111" stroke-width="2.5"/>
<text x="1942.7" y="1778" font-family='"Liberation Sans", sans-serif' font-size="30" font-weight="normal" fill="#1c1c1c" text-anchor="middle" >-4</text>
<text x="2094.8" y="1778" font-family='"Liberation Sans", sans-serif' font-size="30" font-weight="normal" fill="#1c1c1c" text-anchor="middle" >-2</text>
<text x="2241.9" y="1778" font-family='"Liberation Sans", sans-serif' font-size="30" font-weight="normal" fill="#1c1c1c" text-anchor="middle" >0</text>
<text x="2393" y="1778" font-family='"Liberation Sans", sans-serif' font-size="30" font-weight="normal" fill="#1c1c1c" text-anchor="middle" >2</text>
<text x="1850" y="1250.6" font-family='"Liberation Sans", sans-serif' font-size="30" font-weight="normal" fill="#1c1c1c" text-anchor="start"  textLength="40.5" lengthAdjust="spacingAndGlyphs">1.0</text>
<text x="1850" y="1358.1" font-family='"Liberation Sans", sans-serif' font-size="30" font-weight="normal" fill="#1c1c1c" text-anchor="start"  textLength="40.5" lengthAdjust="spacingAndGlyphs">0.5</text>
<text x="1850" y="1465.6" font-family='"Liberation Sans", sans-serif' font-size="30" font-weight="normal" fill="#1c1c1c" text-anchor="start"  textLength="40.5" lengthAdjust="spacingAndGlyphs">0.0</text>
<text x="1839.5" y="1573.1" font-family='"Liberation Sans", sans-serif' font-size="30" font-weight="normal" fill="#1c1c1c" text-anchor="start"  textLength="51" lengthAdjust="spacingAndGlyphs">-0.5</text>
<text x="1839.5" y="1680.6" font-family='"Liberation Sans", sans-serif' font-size="30" font-weight="normal" fill="#1c1c1c" text-anchor="start"  textLength="51" lengthAdjust="spacingAndGlyphs">-1.0</text>
<path d="M1945.7 1739.5v5.5M2094.8 1739.5v5.5M2243.9 1739.5v5.5M2393 1739.5v5.5M1900.5 1239.8h-5.5M1900.5 1347.3h-5.5M1900.5 1454.8h-5.5M1900.5 1562.3h-5.5M1900.5 1669.8h-5.5" stroke="#222" stroke-width="4" fill="none"/>
<text x="1990.5" y="1816" font-family='"Liberation Sans", sans-serif' font-size="36" font-weight="bold" fill="#151515" text-anchor="start"  textLength="416" lengthAdjust="spacingAndGlyphs">NLRC5 mRNA expresson</text>
<text transform="translate(1824.5 1717.2) rotate(-90)" font-family='"Liberation Sans", sans-serif' font-size="36" font-weight="bold" fill="#151515" textLength="508" lengthAdjust="spacingAndGlyphs">Copy numbe variation (gistic2)</text>
<text x="2154" y="1244" font-family='"Liberation Sans", sans-serif' font-size="35" font-weight="normal" fill="#d3242a" text-anchor="start"  textLength="298" lengthAdjust="spacingAndGlyphs">R = 0.13, P = 0.011</text>
</g>
</svg>
</body></html>
